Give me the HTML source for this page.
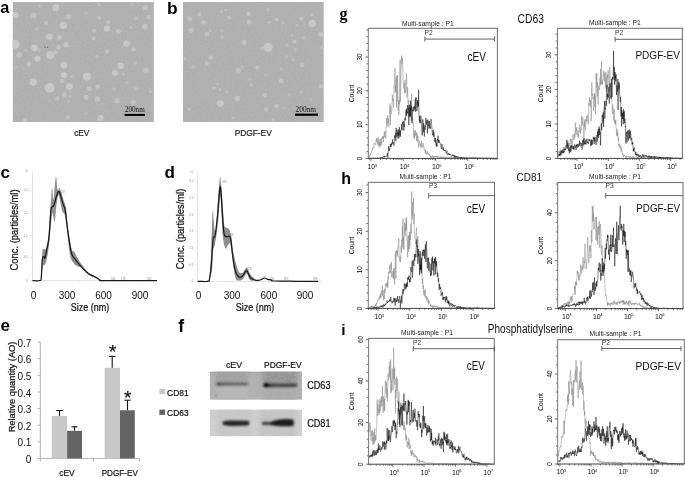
<!DOCTYPE html>
<html><head><meta charset="utf-8"><style>
html,body{margin:0;padding:0;background:#fff;}
svg{display:block;filter:grayscale(1);}

</style></head><body>
<svg width="685" height="477" viewBox="0 0 685 477" font-family="Liberation Sans, sans-serif">
<rect width="685" height="477" fill="#fff"/>
<text x="0.30" y="12.80" font-size="16.3" font-weight="bold" >a</text>
<text x="166.90" y="13.80" font-size="17.4" font-weight="bold" >b</text>
<text x="0.50" y="178.10" font-size="17" font-weight="bold" >c</text>
<text x="164.50" y="177.60" font-size="17" font-weight="bold" >d</text>
<text x="0.40" y="331.00" font-size="17" font-weight="bold" >e</text>
<text x="178.30" y="331.90" font-size="17.7" font-weight="bold" >f</text>
<text x="339.50" y="18.60" font-size="16" font-family="Liberation Serif" font-weight="bold" >g</text>
<text x="341.30" y="183.90" font-size="16" font-weight="bold" >h</text>
<text x="341.20" y="334.90" font-size="15.5" font-weight="bold" >i</text>
<defs><filter id="grain" x="0" y="0" width="100%" height="100%"><feTurbulence type="fractalNoise" baseFrequency="0.55" numOctaves="2" seed="3" result="n"/><feColorMatrix in="n" type="matrix" values="0 0 0 0 0.5  0 0 0 0 0.5  0 0 0 0 0.5  1.2 0 0 0 -0.45" /></filter><filter id="pblur" x="-5%" y="-5%" width="110%" height="110%"><feGaussianBlur stdDeviation="0.7"/></filter></defs>
<clipPath id="ca"><rect x="12.6" y="2.1" width="141.3" height="119.9"/></clipPath>
<g clip-path="url(#ca)">
<rect x="12.60" y="2.10" width="141.30" height="119.90" fill="#afafaf" />
<rect x="12.60" y="2.10" width="141.30" height="119.90" fill="#fff" filter="url(#grain)" opacity="1"/>
<g filter="url(#pblur)">
<circle cx="15.5" cy="15.2" r="3.1" fill="#c8c8c8"/>
<circle cx="33.8" cy="15.2" r="2.8" fill="#c3c3c3"/>
<circle cx="55.8" cy="7.7" r="3.4" fill="#c8c8c8"/>
<circle cx="68.4" cy="16.5" r="2.6" fill="#c3c3c3"/>
<circle cx="63.4" cy="25.3" r="3.6" fill="#c8c8c8"/>
<circle cx="46" cy="22.8" r="2.0" fill="#c3c3c3"/>
<circle cx="49.5" cy="36.6" r="3.2" fill="#c8c8c8"/>
<circle cx="59.6" cy="37.3" r="2.5" fill="#c3c3c3"/>
<circle cx="65.9" cy="44.8" r="2.7" fill="#c3c3c3"/>
<circle cx="14.9" cy="44.2" r="4.5" fill="#c8c8c8"/>
<circle cx="34.4" cy="48" r="3.2" fill="#c8c8c8"/>
<circle cx="19.3" cy="54.9" r="2.8" fill="#c3c3c3"/>
<circle cx="50.2" cy="54.9" r="4.0" fill="#c8c8c8"/>
<circle cx="37.6" cy="58.7" r="3.0" fill="#c8c8c8"/>
<circle cx="55.2" cy="52.4" r="2.2" fill="#c3c3c3"/>
<circle cx="58.3" cy="47.3" r="2.2" fill="#c3c3c3"/>
<circle cx="39.4" cy="49.9" r="1.8" fill="#bebebe"/>
<circle cx="39.4" cy="5.8" r="1.8" fill="#bebebe"/>
<circle cx="36.9" cy="29.1" r="1.5" fill="#bebebe"/>
<circle cx="26.2" cy="50.5" r="1.5" fill="#bebebe"/>
<circle cx="86.1" cy="12.7" r="1.8" fill="#bebebe"/>
<circle cx="99.4" cy="4.5" r="1.5" fill="#bebebe"/>
<circle cx="132.1" cy="4.5" r="1.8" fill="#bebebe"/>
<circle cx="145.3" cy="7.7" r="2.5" fill="#c3c3c3"/>
<circle cx="148.5" cy="17.1" r="2.2" fill="#c3c3c3"/>
<circle cx="99.4" cy="17.7" r="2.0" fill="#c3c3c3"/>
<circle cx="108.2" cy="22.2" r="2.0" fill="#c3c3c3"/>
<circle cx="106.9" cy="28.4" r="3.0" fill="#c8c8c8"/>
<circle cx="118.3" cy="31.6" r="2.5" fill="#c3c3c3"/>
<circle cx="144.7" cy="26.6" r="2.8" fill="#c3c3c3"/>
<circle cx="135.9" cy="18.4" r="1.8" fill="#bebebe"/>
<circle cx="94.3" cy="31" r="2.0" fill="#c3c3c3"/>
<circle cx="93.7" cy="38.5" r="2.0" fill="#c3c3c3"/>
<circle cx="126.5" cy="43.6" r="3.2" fill="#c8c8c8"/>
<circle cx="133.4" cy="49.2" r="2.0" fill="#c3c3c3"/>
<circle cx="106.9" cy="51.7" r="2.2" fill="#c3c3c3"/>
<circle cx="96.9" cy="56.2" r="1.5" fill="#bebebe"/>
<circle cx="130.9" cy="27.2" r="1.3" fill="#bebebe"/>
<circle cx="28.7" cy="63.9" r="2.5" fill="#c3c3c3"/>
<circle cx="64" cy="65.1" r="3.4" fill="#c8c8c8"/>
<circle cx="64" cy="75.2" r="3.0" fill="#c8c8c8"/>
<circle cx="33.2" cy="82.2" r="3.6" fill="#c8c8c8"/>
<circle cx="49.5" cy="87.8" r="4.8" fill="#c8c8c8"/>
<circle cx="62.1" cy="80.9" r="2.2" fill="#c3c3c3"/>
<circle cx="69.4" cy="86.6" r="3.4" fill="#c8c8c8"/>
<circle cx="71.6" cy="76.5" r="1.6" fill="#bebebe"/>
<circle cx="64.4" cy="95" r="2.4" fill="#c3c3c3"/>
<circle cx="70.3" cy="96.3" r="1.5" fill="#bebebe"/>
<circle cx="57.3" cy="98.5" r="2.2" fill="#c3c3c3"/>
<circle cx="68.4" cy="101.7" r="1.4" fill="#bebebe"/>
<circle cx="67.8" cy="117.4" r="2.2" fill="#c3c3c3"/>
<circle cx="25" cy="120.6" r="2.4" fill="#c3c3c3"/>
<circle cx="16.1" cy="67" r="1.3" fill="#bebebe"/>
<circle cx="86.8" cy="76.5" r="4.0" fill="#c8c8c8"/>
<circle cx="120.8" cy="65.8" r="3.2" fill="#c8c8c8"/>
<circle cx="115.1" cy="72.7" r="3.0" fill="#c8c8c8"/>
<circle cx="123.3" cy="74" r="1.5" fill="#bebebe"/>
<circle cx="146" cy="70.2" r="2.8" fill="#c3c3c3"/>
<circle cx="135.3" cy="63.3" r="1.8" fill="#bebebe"/>
<circle cx="89.3" cy="88.4" r="2.5" fill="#c3c3c3"/>
<circle cx="97.5" cy="86.6" r="2.2" fill="#c3c3c3"/>
<circle cx="113.9" cy="89.1" r="1.8" fill="#bebebe"/>
<circle cx="135.9" cy="88.4" r="1.8" fill="#bebebe"/>
<circle cx="150.4" cy="91.6" r="1.8" fill="#bebebe"/>
<circle cx="86.1" cy="97.3" r="2.6" fill="#c3c3c3"/>
<circle cx="97.5" cy="99.2" r="2.6" fill="#c3c3c3"/>
<circle cx="117" cy="100.4" r="2.6" fill="#c3c3c3"/>
<circle cx="133.4" cy="102.3" r="2.6" fill="#c3c3c3"/>
<circle cx="100.6" cy="118" r="3.0" fill="#c8c8c8"/>
<circle cx="127.1" cy="82.8" r="1.3" fill="#bebebe"/>
<circle cx="86.1" cy="113.6" r="1.3" fill="#bebebe"/>
</g></g>
<clipPath id="cb"><rect x="183" y="2" width="140.8" height="120.0"/></clipPath>
<g clip-path="url(#cb)">
<rect x="183.00" y="2.00" width="140.80" height="120.00" fill="#afafaf" />
<rect x="183.00" y="2.00" width="140.80" height="120.00" fill="#fff" filter="url(#grain)" opacity="1"/>
<g filter="url(#pblur)">
<circle cx="199.4" cy="14.6" r="2.0" fill="#c3c3c3"/>
<circle cx="189.9" cy="19" r="2.4" fill="#c3c3c3"/>
<circle cx="203.8" cy="22.2" r="2.3" fill="#c3c3c3"/>
<circle cx="191.2" cy="30.3" r="2.5" fill="#c3c3c3"/>
<circle cx="206.9" cy="34.1" r="2.3" fill="#c3c3c3"/>
<circle cx="210.1" cy="30.3" r="1.6" fill="#bebebe"/>
<circle cx="221.4" cy="11.4" r="1.6" fill="#bebebe"/>
<circle cx="225.8" cy="10.2" r="1.4" fill="#bebebe"/>
<circle cx="229" cy="17.7" r="2.1" fill="#c3c3c3"/>
<circle cx="248.5" cy="14" r="2.2" fill="#c3c3c3"/>
<circle cx="249.1" cy="22.2" r="2.4" fill="#c3c3c3"/>
<circle cx="222" cy="37.3" r="1.8" fill="#bebebe"/>
<circle cx="244.1" cy="42.3" r="2.5" fill="#c3c3c3"/>
<circle cx="210.7" cy="57.4" r="2.2" fill="#c3c3c3"/>
<circle cx="222" cy="31" r="1.4" fill="#bebebe"/>
<circle cx="184.3" cy="58.7" r="1.6" fill="#bebebe"/>
<circle cx="268.1" cy="9.8" r="1.8" fill="#bebebe"/>
<circle cx="276.3" cy="19.6" r="2.0" fill="#c3c3c3"/>
<circle cx="269.4" cy="22.2" r="1.8" fill="#bebebe"/>
<circle cx="283.2" cy="22.8" r="1.5" fill="#bebebe"/>
<circle cx="301.5" cy="18.4" r="2.0" fill="#c3c3c3"/>
<circle cx="312.2" cy="23.4" r="3.6" fill="#c8c8c8"/>
<circle cx="311.6" cy="14.6" r="1.6" fill="#bebebe"/>
<circle cx="321" cy="34.1" r="2.6" fill="#c3c3c3"/>
<circle cx="297.1" cy="25.3" r="1.5" fill="#bebebe"/>
<circle cx="292" cy="35.4" r="1.5" fill="#bebebe"/>
<circle cx="303.4" cy="37.9" r="1.8" fill="#bebebe"/>
<circle cx="294.6" cy="41.7" r="2.0" fill="#c3c3c3"/>
<circle cx="287" cy="44.8" r="1.6" fill="#bebebe"/>
<circle cx="268.1" cy="47.3" r="4.5" fill="#c8c8c8"/>
<circle cx="261.8" cy="48" r="1.6" fill="#bebebe"/>
<circle cx="295.2" cy="49.9" r="1.8" fill="#bebebe"/>
<circle cx="286.4" cy="56.8" r="1.8" fill="#bebebe"/>
<circle cx="293.3" cy="59.9" r="1.8" fill="#bebebe"/>
<circle cx="321.6" cy="47.3" r="1.5" fill="#bebebe"/>
<circle cx="206.9" cy="63.3" r="2.2" fill="#c3c3c3"/>
<circle cx="193.1" cy="67" r="1.8" fill="#bebebe"/>
<circle cx="238.4" cy="70.2" r="2.5" fill="#c3c3c3"/>
<circle cx="242.2" cy="67" r="1.5" fill="#bebebe"/>
<circle cx="249.8" cy="79" r="1.6" fill="#bebebe"/>
<circle cx="213.9" cy="87.8" r="1.8" fill="#bebebe"/>
<circle cx="220.2" cy="89.7" r="1.8" fill="#bebebe"/>
<circle cx="227.1" cy="92.2" r="1.6" fill="#bebebe"/>
<circle cx="237.2" cy="98.5" r="2.8" fill="#c3c3c3"/>
<circle cx="220.2" cy="103.6" r="3.3" fill="#c8c8c8"/>
<circle cx="217.6" cy="84" r="1.4" fill="#bebebe"/>
<circle cx="189.3" cy="109.2" r="1.8" fill="#bebebe"/>
<circle cx="233.4" cy="118" r="1.6" fill="#bebebe"/>
<circle cx="251" cy="84.7" r="1.6" fill="#bebebe"/>
<circle cx="257.4" cy="67.7" r="2.0" fill="#c3c3c3"/>
<circle cx="302.1" cy="65.1" r="2.4" fill="#c3c3c3"/>
<circle cx="281.3" cy="68.9" r="1.5" fill="#bebebe"/>
<circle cx="265.6" cy="75.2" r="1.3" fill="#bebebe"/>
<circle cx="281.3" cy="80.9" r="2.3" fill="#c3c3c3"/>
<circle cx="321" cy="86.6" r="2.0" fill="#c3c3c3"/>
<circle cx="265" cy="95" r="2.2" fill="#c3c3c3"/>
<circle cx="289.5" cy="95" r="1.8" fill="#bebebe"/>
<circle cx="301.5" cy="92.2" r="1.6" fill="#bebebe"/>
<circle cx="276.3" cy="106.1" r="2.4" fill="#c3c3c3"/>
<circle cx="266.2" cy="109.2" r="2.2" fill="#c3c3c3"/>
<circle cx="273.2" cy="119.9" r="1.8" fill="#bebebe"/>
<circle cx="311" cy="99.8" r="1.4" fill="#bebebe"/>
<circle cx="284.5" cy="108" r="1.3" fill="#bebebe"/>
</g></g>
<circle cx="45.1" cy="47.1" r="0.7" fill="#555"/><circle cx="47.6" cy="47.4" r="0.6" fill="#666"/>
<rect x="124.60" y="113.90" width="20.40" height="2.00" fill="#000" />
<text x="124.90" y="112.30" font-size="7.3" font-family="Liberation Serif" fill="#111" textLength="19.8" lengthAdjust="spacingAndGlyphs" >200nm</text>
<rect x="295.00" y="113.60" width="22.90" height="2.20" fill="#000" />
<text x="295.60" y="112.20" font-size="7.3" font-family="Liberation Serif" fill="#111" textLength="20.3" lengthAdjust="spacingAndGlyphs" >200nm</text>
<text x="74.20" y="136.20" font-size="9.6" fill="#222" textLength="15.2" lengthAdjust="spacingAndGlyphs" stroke="#222" stroke-width="0.22" >cEV</text>
<text x="234.70" y="136.20" font-size="9.6" fill="#222" textLength="37.0" lengthAdjust="spacingAndGlyphs" stroke="#222" stroke-width="0.22" >PDGF-EV</text>
<line x1="32.50" y1="172.50" x2="32.50" y2="280.60" stroke="#d9d9d9" stroke-width="0.8" />
<line x1="32.50" y1="280.60" x2="157.00" y2="280.60" stroke="#d9d9d9" stroke-width="0.8" />
<line x1="30.50" y1="190.30" x2="32.50" y2="190.30" stroke="#cfcfcf" stroke-width="0.6" />
<text x="28.00" y="191.30" font-size="2.8" fill="#8a8a8a" text-anchor="end" >2.0</text>
<line x1="30.50" y1="213.10" x2="32.50" y2="213.10" stroke="#cfcfcf" stroke-width="0.6" />
<text x="28.00" y="214.10" font-size="2.8" fill="#8a8a8a" text-anchor="end" >1.5</text>
<line x1="30.50" y1="235.50" x2="32.50" y2="235.50" stroke="#cfcfcf" stroke-width="0.6" />
<text x="28.00" y="236.50" font-size="2.8" fill="#8a8a8a" text-anchor="end" >1.0</text>
<line x1="30.50" y1="257.40" x2="32.50" y2="257.40" stroke="#cfcfcf" stroke-width="0.6" />
<text x="28.00" y="258.40" font-size="2.8" fill="#8a8a8a" text-anchor="end" >0.5</text>
<line x1="30.50" y1="280.60" x2="32.50" y2="280.60" stroke="#cfcfcf" stroke-width="0.6" />
<text x="28.00" y="281.60" font-size="2.8" fill="#8a8a8a" text-anchor="end" >0</text>
<line x1="44.30" y1="280.60" x2="44.30" y2="282.10" stroke="#dddddd" stroke-width="0.5" />
<line x1="56.10" y1="280.60" x2="56.10" y2="282.10" stroke="#dddddd" stroke-width="0.5" />
<line x1="67.90" y1="280.60" x2="67.90" y2="282.10" stroke="#dddddd" stroke-width="0.5" />
<line x1="79.70" y1="280.60" x2="79.70" y2="282.10" stroke="#dddddd" stroke-width="0.5" />
<line x1="91.50" y1="280.60" x2="91.50" y2="282.10" stroke="#dddddd" stroke-width="0.5" />
<line x1="103.30" y1="280.60" x2="103.30" y2="282.10" stroke="#dddddd" stroke-width="0.5" />
<line x1="115.10" y1="280.60" x2="115.10" y2="282.10" stroke="#dddddd" stroke-width="0.5" />
<line x1="126.90" y1="280.60" x2="126.90" y2="282.10" stroke="#dddddd" stroke-width="0.5" />
<line x1="138.70" y1="280.60" x2="138.70" y2="282.10" stroke="#dddddd" stroke-width="0.5" />
<line x1="150.50" y1="280.60" x2="150.50" y2="282.10" stroke="#dddddd" stroke-width="0.5" />
<text x="28.00" y="172.00" font-size="2.6" fill="#999" text-anchor="end" >10</text>
<polygon points="41.30,277.00 41.40,274.03 41.53,269.70 41.69,264.69 41.88,259.63 42.08,255.18 42.30,252.00 42.54,250.20 42.80,249.28 43.09,248.97 43.39,249.00 43.69,249.10 44.00,249.00 44.31,248.92 44.63,249.13 44.95,249.41 45.29,249.54 45.63,249.31 46.00,248.50 46.39,247.18 46.81,245.54 47.25,243.53 47.69,241.13 48.11,238.30 48.50,235.00 48.87,230.94 49.22,226.09 49.56,220.81 49.88,215.46 50.20,210.40 50.50,206.00 50.79,201.96 51.07,197.94 51.34,194.21 51.60,191.06 51.86,188.76 52.10,187.60 52.32,188.30 52.51,190.79 52.69,194.13 52.89,197.40 53.12,199.67 53.40,200.00 53.76,197.71 54.18,193.39 54.63,188.07 55.09,182.77 55.52,178.50 55.90,176.30 56.21,176.60 56.49,178.68 56.73,181.79 56.97,185.21 57.22,188.19 57.50,190.00 57.81,190.49 58.14,190.24 58.48,189.54 58.82,188.73 59.16,188.11 59.50,188.00 59.83,188.41 60.17,189.07 60.50,189.94 60.83,190.93 61.17,191.97 61.50,193.00 61.83,194.04 62.15,195.15 62.47,196.31 62.80,197.52 63.14,198.75 63.50,200.00 63.89,201.14 64.31,202.15 64.75,203.19 65.19,204.41 65.61,205.96 66.00,208.00 66.34,210.63 66.65,213.74 66.94,217.19 67.24,220.81 67.59,224.47 68.00,228.00 68.51,231.66 69.09,235.61 69.72,239.59 70.35,243.33 70.96,246.56 71.50,249.00 71.97,250.45 72.39,251.09 72.78,251.22 73.17,251.13 73.57,251.12 74.00,251.50 74.46,252.23 74.93,253.07 75.41,254.00 75.91,254.98 76.44,255.99 77.00,257.00 77.57,258.00 78.15,259.02 78.75,260.06 79.41,261.15 80.15,262.29 81.00,263.50 81.99,264.85 83.11,266.33 84.31,267.88 85.56,269.39 86.80,270.79 88.00,272.00 89.19,272.99 90.39,273.83 91.60,274.56 92.79,275.22 93.93,275.85 95.00,276.50 96.06,277.18 97.12,277.87 98.14,278.53 99.06,279.13 99.83,279.63 100.40,280.00 100.40,280.00 99.83,279.80 99.06,279.54 98.14,279.22 97.12,278.85 96.06,278.44 95.00,278.00 93.91,277.54 92.75,277.06 91.54,276.53 90.32,275.94 89.13,275.27 88.00,274.50 86.92,273.53 85.85,272.37 84.81,271.12 83.81,269.91 82.87,268.83 82.00,268.00 81.22,267.48 80.52,267.19 79.88,267.03 79.26,266.93 78.64,266.78 78.00,266.50 77.33,266.15 76.67,265.81 76.00,265.44 75.33,264.96 74.67,264.34 74.00,263.50 73.33,262.64 72.65,261.83 71.97,260.88 71.30,259.56 70.64,257.67 70.00,255.00 69.37,251.16 68.74,246.22 68.12,240.72 67.54,235.17 66.99,230.09 66.50,226.00 66.08,222.90 65.72,220.37 65.41,218.31 65.11,216.63 64.82,215.22 64.50,214.00 64.17,213.17 63.83,212.85 63.50,212.81 63.17,212.81 62.83,212.62 62.50,212.00 62.17,210.89 61.83,209.48 61.50,207.88 61.17,206.19 60.83,204.52 60.50,203.00 60.17,201.40 59.83,199.59 59.50,197.81 59.17,196.30 58.83,195.28 58.50,195.00 58.17,195.55 57.83,196.76 57.49,198.46 57.16,200.51 56.83,202.74 56.50,205.00 56.18,207.68 55.87,210.98 55.56,214.46 55.24,217.69 54.93,220.22 54.60,221.60 54.25,221.40 53.89,219.87 53.53,217.65 53.16,215.35 52.82,213.59 52.50,213.00 52.22,213.58 51.97,214.84 51.74,216.65 51.51,218.87 51.27,221.36 51.00,224.00 50.70,227.01 50.37,230.56 50.03,234.38 49.69,238.22 49.34,241.85 49.00,245.00 48.67,247.70 48.33,250.17 48.00,252.41 47.67,254.44 47.33,256.30 47.00,258.00 46.67,259.52 46.33,260.83 46.00,261.97 45.67,262.94 45.33,263.78 45.00,264.50 44.66,264.93 44.32,265.02 43.98,264.97 43.64,264.98 43.32,265.26 43.00,266.00 42.68,267.41 42.35,269.37 42.02,271.59 41.73,273.80 41.48,275.69 41.30,277.00" fill="#7a7a7a" opacity="0.85"/>
<polyline points="32.50,280.60 33.39,280.63 34.67,280.70 36.17,280.77 37.68,280.79 39.02,280.71 40.00,280.50 40.58,280.28 40.90,280.12 41.05,279.87 41.11,279.37 41.17,278.46 41.30,277.00 41.49,274.66 41.67,271.49 41.84,267.92 42.02,264.37 42.20,261.25 42.40,259.00 42.62,257.68 42.85,256.97 43.09,256.70 43.34,256.70 43.57,256.79 43.80,256.80 44.01,256.90 44.21,257.25 44.40,257.70 44.59,258.08 44.79,258.24 45.00,258.00 45.21,257.38 45.41,256.50 45.62,255.39 45.84,254.08 46.10,252.61 46.40,251.00 46.76,249.30 47.19,247.48 47.64,245.50 48.09,243.30 48.52,240.81 48.90,238.00 49.23,234.56 49.53,230.49 49.80,226.14 50.05,221.87 50.28,218.03 50.50,215.00 50.67,212.83 50.79,211.26 50.89,210.12 51.01,209.27 51.17,208.55 51.40,207.80 51.72,207.19 52.11,206.86 52.55,206.66 53.01,206.43 53.46,206.03 53.90,205.30 54.32,204.14 54.73,202.66 55.15,201.01 55.57,199.31 55.98,197.73 56.40,196.40 56.82,195.20 57.23,194.01 57.65,192.92 58.07,192.05 58.48,191.51 58.90,191.40 59.32,191.86 59.76,192.81 60.19,194.09 60.62,195.53 61.02,196.96 61.40,198.20 61.74,199.28 62.04,200.36 62.33,201.41 62.61,202.46 62.90,203.48 63.20,204.50 63.52,205.33 63.83,205.94 64.16,206.54 64.49,207.33 64.84,208.51 65.20,210.30 65.57,212.79 65.95,215.85 66.34,219.30 66.75,222.99 67.20,226.74 67.70,230.40 68.26,234.21 68.87,238.35 69.52,242.56 70.19,246.58 70.85,250.15 71.50,253.00 72.12,254.99 72.72,256.31 73.33,257.17 73.94,257.80 74.60,258.44 75.30,259.30 76.03,260.33 76.78,261.35 77.56,262.37 78.40,263.40 79.30,264.47 80.30,265.60 81.42,266.84 82.64,268.18 83.94,269.56 85.28,270.90 86.61,272.14 87.90,273.20 89.18,274.06 90.50,274.77 91.81,275.37 93.09,275.92 94.30,276.45 95.40,277.00 96.38,277.60 97.27,278.21 98.08,278.81 98.86,279.36 99.62,279.84 100.40,280.20 100.64,280.43 100.21,280.56 99.76,280.60 99.97,280.60 101.49,280.59 105.00,280.60 111.53,280.62 120.75,280.63 131.29,280.62 141.76,280.61 150.79,280.60 157.00,280.60" fill="none" stroke="#1a1a1a" stroke-width="1.25" stroke-linejoin="round"/>
<text x="61.00" y="193.00" font-size="2.6" fill="#888" >167</text>
<text x="111.00" y="280.00" font-size="2.6" fill="#888" >584</text>
<text x="121.00" y="279.60" font-size="2.6" fill="#888" >738</text>
<text x="147.00" y="279.60" font-size="2.6" fill="#888" >942</text>
<text x="33.60" y="298.70" font-size="10" fill="#111" text-anchor="middle" >0</text>
<text x="67.10" y="298.70" font-size="10" fill="#111" text-anchor="middle" >300</text>
<text x="103.60" y="298.70" font-size="10" fill="#111" text-anchor="middle" >600</text>
<text x="140.00" y="298.70" font-size="10" fill="#111" text-anchor="middle" >900</text>
<text x="70.80" y="310.80" font-size="10" fill="#111" textLength="38.5" lengthAdjust="spacingAndGlyphs" stroke="#111" stroke-width="0.22" >Size (nm)</text>
<line x1="197.70" y1="173.30" x2="197.70" y2="281.40" stroke="#d9d9d9" stroke-width="0.8" />
<line x1="197.70" y1="281.40" x2="322.00" y2="281.40" stroke="#d9d9d9" stroke-width="0.8" />
<line x1="195.70" y1="181.40" x2="197.70" y2="181.40" stroke="#cfcfcf" stroke-width="0.6" />
<text x="193.20" y="182.40" font-size="2.8" fill="#8a8a8a" text-anchor="end" >3.0</text>
<line x1="195.70" y1="198.00" x2="197.70" y2="198.00" stroke="#cfcfcf" stroke-width="0.6" />
<text x="193.20" y="199.00" font-size="2.8" fill="#8a8a8a" text-anchor="end" >2.5</text>
<line x1="195.70" y1="214.60" x2="197.70" y2="214.60" stroke="#cfcfcf" stroke-width="0.6" />
<text x="193.20" y="215.60" font-size="2.8" fill="#8a8a8a" text-anchor="end" >2.0</text>
<line x1="195.70" y1="231.30" x2="197.70" y2="231.30" stroke="#cfcfcf" stroke-width="0.6" />
<text x="193.20" y="232.30" font-size="2.8" fill="#8a8a8a" text-anchor="end" >1.5</text>
<line x1="195.70" y1="247.90" x2="197.70" y2="247.90" stroke="#cfcfcf" stroke-width="0.6" />
<text x="193.20" y="248.90" font-size="2.8" fill="#8a8a8a" text-anchor="end" >1.0</text>
<line x1="195.70" y1="264.60" x2="197.70" y2="264.60" stroke="#cfcfcf" stroke-width="0.6" />
<text x="193.20" y="265.60" font-size="2.8" fill="#8a8a8a" text-anchor="end" >0.5</text>
<line x1="195.70" y1="281.40" x2="197.70" y2="281.40" stroke="#cfcfcf" stroke-width="0.6" />
<text x="193.20" y="282.40" font-size="2.8" fill="#8a8a8a" text-anchor="end" >0</text>
<line x1="209.50" y1="281.40" x2="209.50" y2="282.90" stroke="#dddddd" stroke-width="0.5" />
<line x1="221.30" y1="281.40" x2="221.30" y2="282.90" stroke="#dddddd" stroke-width="0.5" />
<line x1="233.10" y1="281.40" x2="233.10" y2="282.90" stroke="#dddddd" stroke-width="0.5" />
<line x1="244.90" y1="281.40" x2="244.90" y2="282.90" stroke="#dddddd" stroke-width="0.5" />
<line x1="256.70" y1="281.40" x2="256.70" y2="282.90" stroke="#dddddd" stroke-width="0.5" />
<line x1="268.50" y1="281.40" x2="268.50" y2="282.90" stroke="#dddddd" stroke-width="0.5" />
<line x1="280.30" y1="281.40" x2="280.30" y2="282.90" stroke="#dddddd" stroke-width="0.5" />
<line x1="292.10" y1="281.40" x2="292.10" y2="282.90" stroke="#dddddd" stroke-width="0.5" />
<line x1="303.90" y1="281.40" x2="303.90" y2="282.90" stroke="#dddddd" stroke-width="0.5" />
<line x1="315.70" y1="281.40" x2="315.70" y2="282.90" stroke="#dddddd" stroke-width="0.5" />
<text x="193.20" y="172.80" font-size="2.6" fill="#999" text-anchor="end" >10</text>
<polygon points="209.50,279.00 209.67,276.56 209.90,273.33 210.17,269.44 210.46,265.00 210.74,260.15 211.00,255.00 211.23,248.97 211.47,241.83 211.69,234.28 211.91,227.00 212.11,220.68 212.30,216.00 212.46,213.03 212.59,211.24 212.71,210.41 212.83,210.31 212.96,210.75 213.10,211.50 213.26,212.93 213.43,215.28 213.61,218.16 213.79,221.17 213.99,223.91 214.20,226.00 214.42,227.74 214.66,229.52 214.91,231.03 215.16,231.98 215.43,232.07 215.70,231.00 215.98,228.44 216.27,224.56 216.57,219.81 216.87,214.67 217.18,209.58 217.50,205.00 217.84,200.65 218.20,196.11 218.57,191.62 218.92,187.44 219.24,183.82 219.50,181.00 219.69,179.05 219.83,177.78 219.93,177.06 220.01,176.78 220.09,176.80 220.20,177.00 220.32,177.40 220.43,178.11 220.55,179.12 220.68,180.44 220.82,182.07 221.00,184.00 221.21,186.32 221.45,189.04 221.71,192.06 221.97,195.30 222.24,198.64 222.50,202.00 222.74,205.65 222.98,209.72 223.22,213.91 223.46,217.89 223.72,221.36 224.00,224.00 224.29,225.68 224.59,226.61 224.91,227.03 225.24,227.17 225.60,227.25 226.00,227.50 226.45,227.81 226.96,227.98 227.50,228.09 228.04,228.24 228.55,228.51 229.00,229.00 229.39,229.64 229.74,230.33 230.06,231.16 230.37,232.17 230.68,233.43 231.00,235.00 231.33,237.01 231.65,239.44 231.97,242.12 232.30,244.89 232.64,247.57 233.00,250.00 233.38,252.20 233.76,254.30 234.16,256.31 234.57,258.26 235.02,260.15 235.50,262.00 236.02,263.89 236.57,265.83 237.16,267.72 237.76,269.44 238.38,270.91 239.00,272.00 239.64,272.70 240.31,273.07 240.99,273.19 241.68,273.09 242.35,272.84 243.00,272.50 243.63,271.85 244.24,270.81 244.84,269.62 245.43,268.52 246.02,267.73 246.60,267.50 247.16,267.94 247.69,268.87 248.21,270.12 248.76,271.52 249.34,272.87 250.00,274.00 250.80,274.98 251.73,275.96 252.71,276.91 253.64,277.76 254.44,278.47 255.00,279.00 255.00,280.50 254.44,280.52 253.64,280.59 252.71,280.66 251.73,280.63 250.80,280.44 250.00,280.00 249.34,279.13 248.76,277.83 248.21,276.38 247.69,275.00 247.16,273.96 246.60,273.50 246.02,273.77 245.43,274.59 244.84,275.75 244.24,277.02 243.63,278.18 243.00,279.00 242.35,279.53 241.68,279.94 240.99,280.25 240.31,280.44 239.64,280.53 239.00,280.50 238.38,280.49 237.78,280.54 237.19,280.47 236.61,280.13 236.05,279.36 235.50,278.00 234.96,275.87 234.43,273.07 233.91,269.84 233.41,266.43 232.94,263.06 232.50,260.00 232.11,257.02 231.78,253.89 231.47,250.81 231.17,248.00 230.85,245.66 230.50,244.00 230.11,243.15 229.70,242.98 229.28,243.28 228.85,243.85 228.42,244.49 228.00,245.00 227.58,245.60 227.17,246.50 226.75,247.47 226.33,248.28 225.92,248.70 225.50,248.50 225.07,247.72 224.63,246.54 224.19,244.97 223.76,243.02 223.36,240.69 223.00,238.00 222.69,234.71 222.42,230.78 222.18,226.47 221.95,222.06 221.73,217.81 221.50,214.00 221.28,210.14 221.09,205.93 220.89,201.88 220.69,198.52 220.47,196.38 220.20,196.00 219.88,197.90 219.53,201.78 219.14,206.88 218.75,212.44 218.37,217.74 218.00,222.00 217.65,225.34 217.30,228.37 216.96,231.12 216.62,233.63 216.30,235.91 216.00,238.00 215.72,239.83 215.46,241.37 215.22,242.69 214.98,243.85 214.74,244.93 214.50,246.00 214.24,246.84 213.98,247.37 213.72,247.81 213.46,248.41 213.22,249.39 213.00,251.00 212.82,253.47 212.69,256.67 212.56,260.25 212.43,263.89 212.25,267.25 212.00,270.00 211.64,272.18 211.19,274.07 210.69,275.69 210.20,277.04 209.79,278.14 209.50,279.00" fill="#7a7a7a" opacity="0.85"/>
<polyline points="197.70,281.40 198.87,281.41 200.56,281.46 202.53,281.49 204.53,281.50 206.30,281.45 207.60,281.30 208.38,281.20 208.83,281.20 209.05,281.14 209.16,280.86 209.28,280.20 209.50,279.00 209.82,277.22 210.14,274.97 210.46,272.34 210.78,269.42 211.09,266.28 211.40,263.00 211.69,259.25 211.97,254.90 212.24,250.34 212.52,245.94 212.80,242.10 213.10,239.20 213.41,237.60 213.73,237.06 214.05,237.07 214.39,237.13 214.73,236.75 215.10,235.40 215.49,233.10 215.89,230.23 216.31,226.92 216.74,223.26 217.17,219.35 217.60,215.30 218.03,210.38 218.48,204.36 218.93,198.10 219.37,192.45 219.80,188.26 220.20,186.40 220.57,187.34 220.92,190.50 221.26,195.13 221.58,200.47 221.89,205.78 222.20,210.30 222.49,214.36 222.76,218.63 223.02,222.86 223.29,226.81 223.57,230.24 223.90,232.90 224.27,234.67 224.67,235.72 225.09,236.24 225.53,236.45 225.97,236.53 226.40,236.70 226.84,236.82 227.29,236.72 227.75,236.50 228.20,236.27 228.62,236.13 229.00,236.20 229.33,236.34 229.62,236.44 229.89,236.64 230.14,237.08 230.41,237.88 230.70,239.20 231.01,241.17 231.32,243.72 231.64,246.64 231.98,249.73 232.33,252.79 232.70,255.60 233.09,258.29 233.48,261.06 233.89,263.78 234.33,266.37 234.80,268.71 235.30,270.70 235.85,272.35 236.45,273.73 237.07,274.88 237.72,275.79 238.36,276.49 239.00,277.00 239.63,277.27 240.26,277.27 240.89,277.06 241.53,276.69 242.17,276.22 242.80,275.70 243.43,274.94 244.07,273.87 244.71,272.69 245.34,271.63 245.97,270.89 246.60,270.70 247.21,271.20 247.79,272.24 248.37,273.62 248.97,275.10 249.60,276.47 250.30,277.50 251.07,278.22 251.91,278.81 252.79,279.29 253.69,279.67 254.56,279.97 255.40,280.20 256.20,280.35 256.99,280.41 257.76,280.38 258.51,280.29 259.26,280.16 260.00,280.00 260.73,279.76 261.44,279.40 262.15,279.01 262.84,278.63 263.53,278.34 264.20,278.20 264.87,278.25 265.53,278.44 266.17,278.73 266.81,279.03 267.42,279.31 268.00,279.50 268.52,279.58 268.99,279.61 269.43,279.60 269.88,279.59 270.39,279.62 271.00,279.70 271.29,279.86 271.15,280.09 271.06,280.34 271.52,280.59 273.00,280.82 276.00,281.00 281.34,281.12 288.81,281.21 297.31,281.28 305.74,281.33 313.00,281.37 318.00,281.40" fill="none" stroke="#1a1a1a" stroke-width="1.25" stroke-linejoin="round"/>
<text x="222.00" y="183.00" font-size="2.6" fill="#888" >189</text>
<text x="229.00" y="236.00" font-size="2.6" fill="#888" >288</text>
<text x="247.00" y="270.00" font-size="2.6" fill="#888" >429</text>
<text x="262.00" y="279.00" font-size="2.6" fill="#888" >572</text>
<text x="270.00" y="279.50" font-size="2.6" fill="#888" >634</text>
<text x="284.00" y="280.00" font-size="2.6" fill="#888" >867</text>
<text x="313.00" y="280.00" font-size="2.6" fill="#888" >998</text>
<text x="198.60" y="298.94" font-size="10" fill="#111" text-anchor="middle" >0</text>
<text x="232.10" y="298.94" font-size="10" fill="#111" text-anchor="middle" >300</text>
<text x="268.90" y="298.94" font-size="10" fill="#111" text-anchor="middle" >600</text>
<text x="305.00" y="298.94" font-size="10" fill="#111" text-anchor="middle" >900</text>
<text x="235.80" y="311.04" font-size="10" fill="#111" textLength="38.5" lengthAdjust="spacingAndGlyphs" stroke="#111" stroke-width="0.22" >Size (nm)</text>
<text transform="translate(18.20,270.60) rotate(-90)" font-size="10" fill="#111" textLength="81.2" lengthAdjust="spacingAndGlyphs" stroke="#111" stroke-width="0.22" >Conc. (particles/ml)</text>
<text transform="translate(184.10,269.20) rotate(-90)" font-size="10" fill="#111" textLength="80.5" lengthAdjust="spacingAndGlyphs" stroke="#111" stroke-width="0.22" >Conc. (particles/ml)</text>
<line x1="40.30" y1="342.20" x2="40.30" y2="458.40" stroke="#a8a8a8" stroke-width="0.9" />
<line x1="39.80" y1="458.40" x2="139.60" y2="458.40" stroke="#a8a8a8" stroke-width="0.9" />
<line x1="37.60" y1="458.40" x2="40.30" y2="458.40" stroke="#a8a8a8" stroke-width="0.9" />
<text x="31.30" y="462.90" font-size="10" fill="#111" text-anchor="end" >0</text>
<line x1="37.60" y1="441.80" x2="40.30" y2="441.80" stroke="#a8a8a8" stroke-width="0.9" />
<text x="31.30" y="446.30" font-size="10" fill="#111" text-anchor="end" >0.1</text>
<line x1="37.60" y1="425.20" x2="40.30" y2="425.20" stroke="#a8a8a8" stroke-width="0.9" />
<text x="31.30" y="429.70" font-size="10" fill="#111" text-anchor="end" >0.2</text>
<line x1="37.60" y1="408.60" x2="40.30" y2="408.60" stroke="#a8a8a8" stroke-width="0.9" />
<text x="31.30" y="413.10" font-size="10" fill="#111" text-anchor="end" >0.3</text>
<line x1="37.60" y1="392.00" x2="40.30" y2="392.00" stroke="#a8a8a8" stroke-width="0.9" />
<text x="31.30" y="396.50" font-size="10" fill="#111" text-anchor="end" >0.4</text>
<line x1="37.60" y1="375.40" x2="40.30" y2="375.40" stroke="#a8a8a8" stroke-width="0.9" />
<text x="31.30" y="379.90" font-size="10" fill="#111" text-anchor="end" >0.5</text>
<line x1="37.60" y1="358.80" x2="40.30" y2="358.80" stroke="#a8a8a8" stroke-width="0.9" />
<text x="31.30" y="363.30" font-size="10" fill="#111" text-anchor="end" >0.6</text>
<line x1="37.60" y1="342.20" x2="40.30" y2="342.20" stroke="#a8a8a8" stroke-width="0.9" />
<text x="31.30" y="346.70" font-size="10" fill="#111" text-anchor="end" >0.7</text>
<line x1="40.30" y1="458.40" x2="40.30" y2="461.50" stroke="#a8a8a8" stroke-width="0.9" />
<line x1="93.30" y1="458.40" x2="93.30" y2="461.50" stroke="#a8a8a8" stroke-width="0.9" />
<line x1="139.60" y1="458.40" x2="139.60" y2="461.50" stroke="#a8a8a8" stroke-width="0.9" />
<rect x="51.80" y="415.90" width="15.30" height="42.50" fill="#c8c8c8" />
<rect x="67.10" y="430.84" width="14.90" height="27.56" fill="#646464" />
<rect x="104.60" y="367.76" width="15.40" height="90.64" fill="#c8c8c8" />
<rect x="120.00" y="410.26" width="14.80" height="48.14" fill="#646464" />
<line x1="59.50" y1="415.80" x2="59.50" y2="410.50" stroke="#111" stroke-width="1.1" />
<line x1="56.20" y1="410.50" x2="62.80" y2="410.50" stroke="#111" stroke-width="1.1" />
<line x1="74.50" y1="430.70" x2="74.50" y2="426.80" stroke="#111" stroke-width="1.1" />
<line x1="71.50" y1="426.80" x2="77.50" y2="426.80" stroke="#111" stroke-width="1.1" />
<line x1="112.20" y1="367.70" x2="112.20" y2="356.40" stroke="#111" stroke-width="1.1" />
<line x1="108.90" y1="356.40" x2="115.50" y2="356.40" stroke="#111" stroke-width="1.1" />
<line x1="127.50" y1="410.20" x2="127.50" y2="400.20" stroke="#111" stroke-width="1.1" />
<line x1="124.40" y1="400.20" x2="130.60" y2="400.20" stroke="#111" stroke-width="1.1" />
<text x="109.00" y="358.10" font-size="19" fill="#111" stroke="#111" stroke-width="0.22" >*</text>
<text x="124.10" y="403.90" font-size="19" fill="#111" stroke="#111" stroke-width="0.22" >*</text>
<text transform="translate(15.30,432.30) rotate(-90)" font-size="8.8" fill="#111" textLength="90.7" lengthAdjust="spacingAndGlyphs" stroke="#111" stroke-width="0.22" >Relative quantity (AO)</text>
<rect x="159.40" y="388.90" width="5.70" height="5.30" fill="#c8c8c8" />
<rect x="159.40" y="409.60" width="5.70" height="5.30" fill="#646464" />
<text x="167.10" y="396.00" font-size="9.6" fill="#111" textLength="21.6" lengthAdjust="spacingAndGlyphs" stroke="#111" stroke-width="0.22" >CD81</text>
<text x="167.10" y="415.80" font-size="9.6" fill="#111" textLength="21.6" lengthAdjust="spacingAndGlyphs" stroke="#111" stroke-width="0.22" >CD63</text>
<text x="59.20" y="476.00" font-size="9.6" fill="#111" textLength="15.4" lengthAdjust="spacingAndGlyphs" stroke="#111" stroke-width="0.22" >cEV</text>
<text x="101.70" y="476.00" font-size="9.6" fill="#111" textLength="36.2" lengthAdjust="spacingAndGlyphs" stroke="#111" stroke-width="0.22" >PDGF-EV</text>
<defs><filter id="bb" x="-30%" y="-100%" width="160%" height="300%"><feGaussianBlur stdDeviation="1.0"/></filter><filter id="bb2" x="-30%" y="-100%" width="160%" height="300%"><feGaussianBlur stdDeviation="2.0"/></filter><clipPath id="cf1"><rect x="209.7" y="371.6" width="92.3" height="28.1"/></clipPath><clipPath id="cf2"><rect x="209.7" y="409.6" width="92.3" height="26.7"/></clipPath></defs>
<g clip-path="url(#cf1)">
<rect x="209.70" y="371.60" width="92.30" height="28.10" fill="#b1b1b1" />
<g filter="url(#bb2)">
<rect x="215.50" y="370.00" width="32.50" height="14.00" fill="#9f9f9f" />
<rect x="262.80" y="370.00" width="34.50" height="15.00" fill="#939393" />
<rect x="215.50" y="386.00" width="32.50" height="16.00" fill="#b6b6b6" />
<rect x="262.80" y="387.00" width="34.50" height="15.00" fill="#aaaaaa" />
</g>
<rect x="209.70" y="371.60" width="92.30" height="1.20" fill="#9a9a9a" opacity="0.6"/>
<rect x="209.70" y="371.60" width="92.30" height="28.10" fill="#fff" filter="url(#grain)" opacity="0.8"/>
<g filter="url(#bb)">
<path d="M216,384 C216,382.4 220,382.3 232,382.6 L247.5,382.8 C248.5,383.5 248.5,384.6 247.5,385.3 L232,385.4 C220,385.7 216,385.6 216,384 Z" fill="#606060"/>
<ellipse cx="219" cy="384" rx="3" ry="1.6" fill="#4a4a4a"/>
<path d="M263.5,385.2 C264,383 268,383.2 275,383.6 L296.5,383.6 C297.5,384.5 297.5,386.4 296.5,387 L275,387.3 C268,387.6 264,387.5 263.5,385.2 Z" fill="#454545"/>
<ellipse cx="266.3" cy="385.2" rx="3" ry="2.1" fill="#080808"/>
</g>
<circle cx="216.2" cy="395.5" r="0.8" fill="#555" filter="url(#bb)"/>
</g>
<g clip-path="url(#cf2)">
<rect x="209.70" y="409.60" width="92.30" height="26.70" fill="#d2d2d2" />
<g filter="url(#bb2)">
<rect x="217.00" y="408.00" width="34.00" height="30.00" fill="#c9c9c9" />
<rect x="259.00" y="408.00" width="37.00" height="30.00" fill="#c6c6c6" />
</g>
<rect x="209.70" y="409.60" width="92.30" height="26.70" fill="#fff" filter="url(#grain)" opacity="0.6"/>
<g filter="url(#bb)">
<path d="M222.3,423 C222.5,420.6 226,420.4 235,420.4 L248.3,420.8 C249.5,421.8 249.5,424.6 248.3,425.6 L235,425.9 C226,426 222.5,425.6 222.3,423 Z" fill="#262626"/>
<path d="M261.8,423.4 C262,421.6 266,421.6 270,422.2 C277,419 286,418.6 293,419.6 C294.2,421.5 294.2,424.6 293,425.9 C286,426.6 277,426.4 270,424.8 C266,425.4 262,425.2 261.8,423.4 Z" fill="#1c1c1c"/>
<path d="M261.8,423.4 C262,421.8 265,421.8 270,422.4 L270,424.6 C265,425.1 262,425 261.8,423.4 Z" fill="#444"/>
</g>
</g>
<text x="226.00" y="367.80" font-size="9.6" fill="#111" textLength="16.0" lengthAdjust="spacingAndGlyphs" stroke="#111" stroke-width="0.22" >cEV</text>
<text x="264.10" y="367.80" font-size="9.6" fill="#111" textLength="37.5" lengthAdjust="spacingAndGlyphs" stroke="#111" stroke-width="0.22" >PDGF-EV</text>
<text x="307.20" y="388.70" font-size="10.5" fill="#111" textLength="23.3" lengthAdjust="spacingAndGlyphs" stroke="#111" stroke-width="0.22" >CD63</text>
<text x="307.20" y="426.60" font-size="10.5" fill="#111" textLength="23.3" lengthAdjust="spacingAndGlyphs" stroke="#111" stroke-width="0.22" >CD81</text>
<line x1="365.50" y1="158.40" x2="368.30" y2="158.40" stroke="#222" stroke-width="0.7" />
<text transform="translate(362.20,160.15) rotate(-90)" font-size="6.3" >0</text>
<line x1="366.50" y1="151.64" x2="368.30" y2="151.64" stroke="#222" stroke-width="0.7" />
<line x1="366.50" y1="144.88" x2="368.30" y2="144.88" stroke="#222" stroke-width="0.7" />
<line x1="366.50" y1="138.12" x2="368.30" y2="138.12" stroke="#222" stroke-width="0.7" />
<line x1="366.50" y1="131.36" x2="368.30" y2="131.36" stroke="#222" stroke-width="0.7" />
<line x1="365.50" y1="124.60" x2="368.30" y2="124.60" stroke="#222" stroke-width="0.7" />
<text transform="translate(362.20,128.10) rotate(-90)" font-size="6.3" >10</text>
<line x1="366.50" y1="117.84" x2="368.30" y2="117.84" stroke="#222" stroke-width="0.7" />
<line x1="366.50" y1="111.08" x2="368.30" y2="111.08" stroke="#222" stroke-width="0.7" />
<line x1="366.50" y1="104.32" x2="368.30" y2="104.32" stroke="#222" stroke-width="0.7" />
<line x1="366.50" y1="97.56" x2="368.30" y2="97.56" stroke="#222" stroke-width="0.7" />
<line x1="365.50" y1="90.80" x2="368.30" y2="90.80" stroke="#222" stroke-width="0.7" />
<text transform="translate(362.20,94.30) rotate(-90)" font-size="6.3" >20</text>
<line x1="366.50" y1="84.04" x2="368.30" y2="84.04" stroke="#222" stroke-width="0.7" />
<line x1="366.50" y1="77.28" x2="368.30" y2="77.28" stroke="#222" stroke-width="0.7" />
<line x1="366.50" y1="70.52" x2="368.30" y2="70.52" stroke="#222" stroke-width="0.7" />
<line x1="366.50" y1="63.76" x2="368.30" y2="63.76" stroke="#222" stroke-width="0.7" />
<line x1="365.50" y1="57.00" x2="368.30" y2="57.00" stroke="#222" stroke-width="0.7" />
<text transform="translate(362.20,60.50) rotate(-90)" font-size="6.3" >30</text>
<line x1="366.50" y1="50.24" x2="368.30" y2="50.24" stroke="#222" stroke-width="0.7" />
<line x1="366.50" y1="43.48" x2="368.30" y2="43.48" stroke="#222" stroke-width="0.7" />
<line x1="366.50" y1="36.72" x2="368.30" y2="36.72" stroke="#222" stroke-width="0.7" />
<line x1="366.50" y1="29.96" x2="368.30" y2="29.96" stroke="#222" stroke-width="0.7" />
<text transform="translate(353.80,102.15) rotate(-90)" font-size="7.4" textLength="17.6" lengthAdjust="spacingAndGlyphs" >Count</text>
<line x1="369.42" y1="158.40" x2="369.42" y2="160.00" stroke="#222" stroke-width="0.6" />
<line x1="370.90" y1="158.40" x2="370.90" y2="161.00" stroke="#222" stroke-width="0.6" />
<line x1="380.62" y1="158.40" x2="380.62" y2="160.00" stroke="#222" stroke-width="0.6" />
<line x1="386.31" y1="158.40" x2="386.31" y2="160.00" stroke="#222" stroke-width="0.6" />
<line x1="390.35" y1="158.40" x2="390.35" y2="160.00" stroke="#222" stroke-width="0.6" />
<line x1="393.48" y1="158.40" x2="393.48" y2="160.00" stroke="#222" stroke-width="0.6" />
<line x1="396.03" y1="158.40" x2="396.03" y2="160.00" stroke="#222" stroke-width="0.6" />
<line x1="398.20" y1="158.40" x2="398.20" y2="160.00" stroke="#222" stroke-width="0.6" />
<line x1="400.07" y1="158.40" x2="400.07" y2="160.00" stroke="#222" stroke-width="0.6" />
<line x1="401.72" y1="158.40" x2="401.72" y2="160.00" stroke="#222" stroke-width="0.6" />
<line x1="403.20" y1="158.40" x2="403.20" y2="161.00" stroke="#222" stroke-width="0.6" />
<line x1="412.92" y1="158.40" x2="412.92" y2="160.00" stroke="#222" stroke-width="0.6" />
<line x1="418.61" y1="158.40" x2="418.61" y2="160.00" stroke="#222" stroke-width="0.6" />
<line x1="422.65" y1="158.40" x2="422.65" y2="160.00" stroke="#222" stroke-width="0.6" />
<line x1="425.78" y1="158.40" x2="425.78" y2="160.00" stroke="#222" stroke-width="0.6" />
<line x1="428.33" y1="158.40" x2="428.33" y2="160.00" stroke="#222" stroke-width="0.6" />
<line x1="430.50" y1="158.40" x2="430.50" y2="160.00" stroke="#222" stroke-width="0.6" />
<line x1="432.37" y1="158.40" x2="432.37" y2="160.00" stroke="#222" stroke-width="0.6" />
<line x1="434.02" y1="158.40" x2="434.02" y2="160.00" stroke="#222" stroke-width="0.6" />
<line x1="435.50" y1="158.40" x2="435.50" y2="161.00" stroke="#222" stroke-width="0.6" />
<line x1="445.22" y1="158.40" x2="445.22" y2="160.00" stroke="#222" stroke-width="0.6" />
<line x1="450.91" y1="158.40" x2="450.91" y2="160.00" stroke="#222" stroke-width="0.6" />
<line x1="454.95" y1="158.40" x2="454.95" y2="160.00" stroke="#222" stroke-width="0.6" />
<line x1="458.08" y1="158.40" x2="458.08" y2="160.00" stroke="#222" stroke-width="0.6" />
<line x1="460.63" y1="158.40" x2="460.63" y2="160.00" stroke="#222" stroke-width="0.6" />
<line x1="462.80" y1="158.40" x2="462.80" y2="160.00" stroke="#222" stroke-width="0.6" />
<line x1="464.67" y1="158.40" x2="464.67" y2="160.00" stroke="#222" stroke-width="0.6" />
<line x1="466.32" y1="158.40" x2="466.32" y2="160.00" stroke="#222" stroke-width="0.6" />
<line x1="467.80" y1="158.40" x2="467.80" y2="161.00" stroke="#222" stroke-width="0.6" />
<line x1="477.52" y1="158.40" x2="477.52" y2="160.00" stroke="#222" stroke-width="0.6" />
<line x1="483.21" y1="158.40" x2="483.21" y2="160.00" stroke="#222" stroke-width="0.6" />
<line x1="487.25" y1="158.40" x2="487.25" y2="160.00" stroke="#222" stroke-width="0.6" />
<line x1="490.38" y1="158.40" x2="490.38" y2="160.00" stroke="#222" stroke-width="0.6" />
<line x1="492.93" y1="158.40" x2="492.93" y2="160.00" stroke="#222" stroke-width="0.6" />
<line x1="495.10" y1="158.40" x2="495.10" y2="160.00" stroke="#222" stroke-width="0.6" />
<line x1="496.97" y1="158.40" x2="496.97" y2="160.00" stroke="#222" stroke-width="0.6" />
<text x="367.40" y="169.00" font-size="6.9" fill="#111" >10</text>
<text x="374.70" y="166.70" font-size="4.1" fill="#111" >3</text>
<text x="399.70" y="169.00" font-size="6.9" fill="#111" >10</text>
<text x="407.00" y="166.70" font-size="4.1" fill="#111" >4</text>
<text x="432.00" y="169.00" font-size="6.9" fill="#111" >10</text>
<text x="439.30" y="166.70" font-size="4.1" fill="#111" >5</text>
<text x="464.30" y="169.00" font-size="6.9" fill="#111" >10</text>
<text x="471.60" y="166.70" font-size="4.1" fill="#111" >6</text>
<clipPath id="fc11"><rect x="368.30" y="28.30" width="129.10" height="130.10"/></clipPath>
<g clip-path="url(#fc11)">
<polyline points="368.60,156.25 368.85,157.16 369.10,156.59 369.35,157.33 369.60,156.05 369.85,155.01 370.10,153.72 370.35,155.10 370.60,155.16 370.85,153.46 371.10,153.46 371.35,152.11 371.60,150.92 371.85,151.50 372.10,149.84 372.35,148.24 372.60,149.44 372.85,147.97 373.10,147.20 373.35,148.05 373.60,148.01 373.85,144.61 374.10,142.90 374.35,142.98 374.60,142.92 374.85,142.86 375.10,144.86 375.35,145.30 375.60,144.80 375.85,144.08 376.10,140.08 376.35,141.43 376.60,138.07 376.85,141.78 377.10,139.50 377.35,140.36 377.60,144.56 377.85,143.43 378.10,137.20 378.35,141.12 378.60,145.99 378.85,141.26 379.10,140.16 379.35,147.13 379.60,142.60 379.85,144.69 380.10,139.04 380.35,141.85 380.60,146.22 380.85,142.85 381.10,138.05 381.35,144.61 381.60,144.98 381.85,139.93 382.10,137.35 382.35,136.76 382.60,138.34 382.85,136.59 383.10,138.44 383.35,141.88 383.60,136.11 383.85,137.85 384.10,134.31 384.35,131.57 384.60,137.13 384.85,133.92 385.10,132.12 385.35,131.06 385.60,137.78 385.85,138.67 386.10,127.93 386.35,125.84 386.60,121.04 386.85,117.89 387.10,125.80 387.35,116.36 387.60,115.46 387.85,122.98 388.10,121.32 388.35,118.50 388.60,122.91 388.85,127.05 389.10,115.76 389.35,115.77 389.60,111.83 389.85,105.16 390.10,103.63 390.35,124.81 390.60,106.45 390.85,113.25 391.10,113.59 391.35,113.54 391.60,114.11 391.85,106.89 392.10,102.41 392.35,94.77 392.60,100.81 392.85,100.82 393.10,98.80 393.35,103.78 393.60,107.85 393.85,94.71 394.10,85.18 394.35,85.69 394.60,86.18 394.85,68.07 395.10,91.64 395.35,92.30 395.60,85.75 395.85,91.85 396.10,77.81 396.35,98.53 396.60,107.73 396.85,75.61 397.10,102.11 397.35,87.42 397.60,75.03 397.85,92.66 398.10,102.25 398.35,110.61 398.60,101.38 398.85,114.95 399.10,100.00 399.35,104.60 399.60,90.10 399.85,80.49 400.10,59.71 400.35,101.87 400.60,90.84 400.85,84.02 401.10,69.98 401.35,67.01 401.60,55.49 401.85,63.62 402.10,63.11 402.35,58.00 402.60,62.56 402.85,67.54 403.10,77.99 403.35,84.75 403.60,87.18 403.85,88.71 404.10,82.69 404.35,85.27 404.60,93.47 404.85,80.49 405.10,79.94 405.35,84.73 405.60,92.92 405.85,90.56 406.10,88.38 406.35,73.23 406.60,76.14 406.85,81.70 407.10,97.59 407.35,88.09 407.60,87.25 407.85,93.85 408.10,105.99 408.35,116.46 408.60,105.61 408.85,100.15 409.10,109.10 409.35,110.69 409.60,114.36 409.85,110.95 410.10,105.79 410.35,116.63 410.60,107.25 410.85,117.99 411.10,118.23 411.35,121.34 411.60,93.85 411.85,119.98 412.10,120.13 412.35,117.44 412.60,119.90 412.85,123.22 413.10,123.00 413.35,122.88 413.60,131.95 413.85,137.68 414.10,129.99 414.35,139.11 414.60,133.83 414.85,132.47 415.10,133.13 415.35,130.30 415.60,136.30 415.85,131.96 416.10,132.53 416.35,133.87 416.60,141.09 416.85,132.51 417.10,134.68 417.35,134.55 417.60,141.32 417.85,135.76 418.10,141.69 418.35,142.19 418.60,147.40 418.85,146.70 419.10,140.35 419.35,141.71 419.60,143.19 419.85,143.07 420.10,144.38 420.35,146.05 420.60,143.60 420.85,146.79 421.10,148.14 421.35,144.01 421.60,140.42 421.85,146.29 422.10,146.69 422.35,145.68 422.60,147.19 422.85,146.19 423.10,142.99 423.35,143.54 423.60,146.36 423.85,146.46 424.10,149.41 424.35,149.21 424.60,150.42 424.85,151.29 425.10,150.61 425.35,153.87 425.60,149.54 425.85,152.28 426.10,152.24 426.35,153.21 426.60,154.39 426.85,153.83 427.10,151.12 427.35,153.46 427.60,151.94 427.85,153.72 428.10,152.88 428.35,153.82 428.60,153.98 428.85,155.02 429.10,154.18 429.35,153.92 429.60,155.67 429.85,154.86 430.10,156.10 430.35,156.75 430.60,155.65 430.85,156.58 431.10,158.30 431.35,156.26 431.60,156.87 431.85,156.67 432.10,156.03 432.35,156.28 432.60,155.37 432.85,157.39 433.10,157.95 433.35,157.27 433.60,156.92 433.85,156.14 434.10,157.65 434.35,156.31 434.60,156.65 434.85,156.89 435.10,156.20 435.35,155.83 435.60,155.98 435.85,157.17 436.10,155.96 436.35,156.27 436.60,156.68 436.85,156.20 437.10,157.27 437.35,155.97 437.60,157.33 437.85,157.12 438.10,157.12 438.35,156.22 438.60,156.27 438.85,156.17 439.10,157.10 439.35,157.61 439.60,158.29 439.85,157.45 440.10,157.05 440.35,156.86 440.60,156.91 440.85,157.95 441.10,157.92 441.35,156.62 441.60,158.16 441.85,157.06 442.10,157.74 442.35,156.94 442.60,157.74 442.85,157.37 443.10,156.90 443.35,157.49 443.60,157.44 443.85,157.12 444.10,156.57 444.35,157.02 444.60,156.94 444.85,157.67 445.10,157.85 445.35,157.95 445.60,158.01 445.85,157.20 446.10,157.27 446.35,157.03 446.60,157.50 446.85,156.93 447.10,156.74 447.35,157.30 447.60,157.44 447.85,157.60 448.10,157.81 448.35,157.58 448.60,157.87 448.85,157.05 449.10,157.49 449.35,157.99 449.60,157.65 449.85,157.44 450.10,157.29 450.35,157.73 450.60,157.57 450.85,157.43 451.10,157.84 451.35,157.17 451.60,157.45 451.85,157.41 452.10,157.62 452.35,157.47 452.60,157.89 452.85,157.48 453.10,157.59 453.35,157.39 453.60,156.84 453.85,157.91 454.10,157.26 454.35,157.59 454.60,157.42 454.85,157.07 455.10,157.84 455.35,158.02 455.60,157.38 455.85,157.91 456.10,157.07 456.35,158.10 456.60,157.75 456.85,157.48 457.10,157.70 457.35,157.99 457.60,157.41 457.85,157.54 458.10,157.75 458.35,157.42 458.60,158.07 458.85,158.24 459.10,157.77 459.35,157.62 459.60,157.84 459.85,157.28 460.10,157.57 460.35,158.37 460.60,158.10 460.85,157.12 461.10,158.18 461.35,157.48 461.60,157.73 461.85,157.34 462.10,157.95 462.35,157.53 462.60,157.67 462.85,157.67 463.10,157.75 463.35,157.56 463.60,158.05 463.85,158.06 464.10,158.06 464.35,157.83 464.60,157.99 464.85,157.91 465.10,157.94 465.35,158.37 465.60,158.20 465.85,157.80 466.10,158.09 466.35,157.40 466.60,157.79 466.85,158.02 467.10,157.80 467.35,157.41 467.60,158.37 467.85,158.09 468.10,158.37 468.35,157.53 468.60,157.50 468.85,157.11 469.10,158.04 469.35,158.29 469.60,157.50 469.85,157.80 470.10,158.26 470.35,157.84 470.60,157.85 470.85,157.98 471.10,158.38 471.35,157.94 471.60,157.40 471.85,158.10 472.10,157.94 472.35,158.04 472.60,157.51 472.85,157.89 473.10,158.38 473.35,157.67 473.60,157.52 473.85,157.69 474.10,157.26 474.35,158.38 474.60,157.99 474.85,157.61 475.10,157.98 475.35,157.99 475.60,158.10 475.85,158.38 476.10,157.73 476.35,158.22 476.60,158.30 476.85,158.14 477.10,158.14 477.35,157.80 477.60,158.27 477.85,158.12 478.10,158.21 478.35,157.79 478.60,158.36 478.85,158.14 479.10,158.21 479.35,158.14 479.60,158.36 479.85,158.38 480.10,157.93 480.35,158.13 480.60,158.00 480.85,157.99 481.10,157.92 481.35,158.26 481.60,157.80 481.85,158.16 482.10,157.80 482.35,158.12 482.60,158.30 482.85,157.88 483.10,158.35 483.35,157.85 483.60,158.39 483.85,158.11 484.10,158.17 484.35,158.12 484.60,158.09 484.85,158.06 485.10,158.39 485.35,158.23 485.60,158.26 485.85,157.98 486.10,158.22 486.35,158.07 486.60,158.03 486.85,158.19 487.10,158.39 487.35,158.23 487.60,158.39 487.85,158.24 488.10,158.23 488.35,158.08 488.60,157.78 488.85,158.09 489.10,157.96 489.35,158.39 489.60,157.99 489.85,158.24 490.10,158.24 490.35,158.20 490.60,158.19 490.85,158.26 491.10,158.25 491.35,158.35 491.60,158.40 491.85,158.40 492.10,158.17 492.35,158.18 492.60,158.40 492.85,158.23 493.10,158.40 493.35,158.40 493.60,158.34 493.85,158.39 494.10,158.38 494.35,158.40 494.60,158.35 494.85,158.21 495.10,158.39 495.35,158.40 495.60,158.35 495.85,158.30 496.10,158.40 496.35,158.40 496.60,158.39 496.85,158.38" fill="none" stroke="#8e8e8e" stroke-width="0.55" stroke-linejoin="miter"/>
<polyline points="368.60,158.40 368.85,158.40 369.10,158.40 369.35,158.27 369.60,158.40 369.85,158.38 370.10,158.09 370.35,158.25 370.60,158.21 370.85,158.07 371.10,158.39 371.35,158.36 371.60,158.36 371.85,158.12 372.10,157.95 372.35,158.27 372.60,158.05 372.85,158.28 373.10,158.00 373.35,157.97 373.60,157.99 373.85,157.83 374.10,158.12 374.35,158.15 374.60,158.12 374.85,158.39 375.10,158.38 375.35,158.19 375.60,158.13 375.85,158.38 376.10,158.14 376.35,158.20 376.60,158.38 376.85,158.17 377.10,158.05 377.35,157.81 377.60,157.61 377.85,158.24 378.10,158.20 378.35,158.36 378.60,158.02 378.85,157.83 379.10,158.12 379.35,158.38 379.60,158.00 379.85,157.61 380.10,157.97 380.35,157.69 380.60,157.64 380.85,157.99 381.10,157.71 381.35,157.38 381.60,157.76 381.85,157.31 382.10,157.60 382.35,157.38 382.60,158.17 382.85,157.35 383.10,157.38 383.35,156.92 383.60,157.14 383.85,155.86 384.10,156.11 384.35,157.35 384.60,155.99 384.85,156.07 385.10,156.01 385.35,156.48 385.60,156.80 385.85,156.44 386.10,156.40 386.35,156.19 386.60,156.35 386.85,155.54 387.10,155.34 387.35,153.20 387.60,155.20 387.85,157.56 388.10,152.19 388.35,151.68 388.60,146.26 388.85,150.31 389.10,149.26 389.35,149.10 389.60,150.70 389.85,146.99 390.10,147.14 390.35,143.98 390.60,146.51 390.85,145.75 391.10,146.95 391.35,143.60 391.60,145.17 391.85,142.47 392.10,143.31 392.35,144.20 392.60,139.39 392.85,142.85 393.10,142.93 393.35,142.36 393.60,144.23 393.85,144.43 394.10,145.71 394.35,143.25 394.60,135.42 394.85,137.66 395.10,137.77 395.35,134.50 395.60,132.87 395.85,141.10 396.10,127.79 396.35,136.04 396.60,136.60 396.85,136.36 397.10,129.68 397.35,133.81 397.60,132.56 397.85,138.34 398.10,132.29 398.35,136.02 398.60,129.53 398.85,138.36 399.10,136.44 399.35,127.13 399.60,130.23 399.85,135.37 400.10,130.43 400.35,136.62 400.60,131.97 400.85,129.98 401.10,129.91 401.35,129.84 401.60,124.21 401.85,124.48 402.10,130.21 402.35,124.82 402.60,121.98 402.85,124.26 403.10,121.26 403.35,121.06 403.60,124.67 403.85,130.51 404.10,124.03 404.35,126.85 404.60,120.58 404.85,117.70 405.10,120.04 405.35,120.34 405.60,120.14 405.85,110.37 406.10,109.84 406.35,116.14 406.60,108.81 406.85,114.31 407.10,111.51 407.35,113.03 407.60,105.16 407.85,108.25 408.10,109.23 408.35,108.44 408.60,111.17 408.85,125.00 409.10,107.76 409.35,104.77 409.60,116.40 409.85,117.20 410.10,107.66 410.35,116.07 410.60,100.71 410.85,108.51 411.10,109.73 411.35,105.68 411.60,117.20 411.85,120.21 412.10,123.13 412.35,114.33 412.60,109.47 412.85,111.18 413.10,107.56 413.35,106.94 413.60,109.48 413.85,111.33 414.10,105.92 414.35,106.23 414.60,109.40 414.85,108.43 415.10,101.23 415.35,98.86 415.60,111.71 415.85,97.32 416.10,98.61 416.35,98.21 416.60,105.09 416.85,111.12 417.10,109.16 417.35,104.04 417.60,99.87 417.85,106.80 418.10,102.06 418.35,106.35 418.60,89.79 418.85,108.12 419.10,116.94 419.35,120.80 419.60,115.89 419.85,123.28 420.10,119.88 420.35,122.68 420.60,122.44 420.85,115.72 421.10,120.34 421.35,124.09 421.60,125.55 421.85,133.51 422.10,135.39 422.35,134.81 422.60,130.26 422.85,119.25 423.10,130.15 423.35,132.19 423.60,123.27 423.85,130.56 424.10,130.35 424.35,136.58 424.60,128.06 424.85,125.41 425.10,129.99 425.35,125.19 425.60,120.08 425.85,118.38 426.10,117.90 426.35,120.39 426.60,124.60 426.85,124.78 427.10,120.20 427.35,133.44 427.60,128.00 427.85,119.67 428.10,122.58 428.35,121.88 428.60,126.08 428.85,124.74 429.10,128.61 429.35,120.94 429.60,126.33 429.85,127.48 430.10,126.98 430.35,128.77 430.60,124.87 430.85,120.48 431.10,119.01 431.35,123.61 431.60,123.90 431.85,127.82 432.10,129.77 432.35,133.68 432.60,135.26 432.85,132.82 433.10,130.56 433.35,129.88 433.60,136.73 433.85,132.35 434.10,132.83 434.35,136.71 434.60,141.79 434.85,141.17 435.10,139.68 435.35,137.89 435.60,142.66 435.85,139.71 436.10,145.77 436.35,142.73 436.60,146.45 436.85,145.58 437.10,146.57 437.35,138.84 437.60,140.30 437.85,138.28 438.10,135.73 438.35,142.33 438.60,139.76 438.85,142.96 439.10,140.20 439.35,142.50 439.60,142.58 439.85,142.61 440.10,143.14 440.35,144.09 440.60,144.07 440.85,145.72 441.10,147.44 441.35,148.92 441.60,147.54 441.85,143.90 442.10,145.13 442.35,146.58 442.60,147.32 442.85,146.97 443.10,150.09 443.35,147.38 443.60,148.61 443.85,150.63 444.10,150.03 444.35,150.45 444.60,150.72 444.85,151.07 445.10,150.01 445.35,151.21 445.60,151.42 445.85,152.68 446.10,152.74 446.35,153.20 446.60,152.80 446.85,150.54 447.10,154.29 447.35,154.01 447.60,154.65 447.85,154.49 448.10,153.43 448.35,154.43 448.60,154.60 448.85,153.20 449.10,154.19 449.35,154.91 449.60,153.86 449.85,154.97 450.10,154.33 450.35,154.75 450.60,154.80 450.85,155.32 451.10,155.41 451.35,156.25 451.60,156.29 451.85,156.06 452.10,155.02 452.35,154.72 452.60,155.57 452.85,155.72 453.10,154.58 453.35,155.93 453.60,155.94 453.85,155.27 454.10,155.64 454.35,157.39 454.60,155.66 454.85,156.35 455.10,157.08 455.35,155.74 455.60,157.08 455.85,157.29 456.10,157.24 456.35,156.22 456.60,157.40 456.85,156.81 457.10,157.07 457.35,157.28 457.60,157.40 457.85,156.31 458.10,156.92 458.35,157.75 458.60,157.56 458.85,157.21 459.10,157.17 459.35,157.34 459.60,157.26 459.85,157.71 460.10,157.42 460.35,157.53 460.60,157.40 460.85,157.02 461.10,157.99 461.35,157.52 461.60,157.84 461.85,157.46 462.10,158.12 462.35,157.74 462.60,158.08 462.85,157.91 463.10,158.01 463.35,157.74 463.60,157.95 463.85,157.87 464.10,158.14 464.35,157.79 464.60,157.93 464.85,158.11 465.10,157.47 465.35,158.30 465.60,158.38 465.85,158.38 466.10,158.32 466.35,157.75 466.60,157.90 466.85,158.21 467.10,157.98 467.35,158.00 467.60,158.39 467.85,157.96 468.10,158.39 468.35,158.34 468.60,158.00 468.85,158.39 469.10,158.09 469.35,158.39 469.60,157.93 469.85,157.96 470.10,158.11 470.35,158.03 470.60,158.20 470.85,158.18 471.10,157.89 471.35,157.98 471.60,158.39 471.85,158.16 472.10,158.11 472.35,157.98 472.60,157.87 472.85,158.21 473.10,158.39 473.35,158.15 473.60,158.39 473.85,158.06 474.10,157.97 474.35,158.18 474.60,158.23 474.85,158.28 475.10,158.07 475.35,157.94 475.60,158.04 475.85,157.90 476.10,158.39 476.35,158.33 476.60,158.39 476.85,158.39 477.10,158.32 477.35,158.17 477.60,158.05 477.85,158.07 478.10,157.88 478.35,157.99 478.60,157.94 478.85,158.21 479.10,158.13 479.35,158.16 479.60,158.39 479.85,158.39 480.10,158.37 480.35,158.25 480.60,158.14 480.85,158.23 481.10,158.37 481.35,158.24 481.60,158.26 481.85,158.38 482.10,158.31 482.35,158.20 482.60,158.39 482.85,157.95 483.10,158.23 483.35,158.22 483.60,158.14 483.85,158.29 484.10,158.27 484.35,158.22 484.60,158.39 484.85,158.39 485.10,158.32 485.35,158.33 485.60,158.27 485.85,158.39 486.10,158.29 486.35,158.09 486.60,158.37 486.85,158.18 487.10,158.21 487.35,158.13 487.60,158.35 487.85,158.21 488.10,158.40 488.35,158.24 488.60,158.32 488.85,158.16 489.10,158.27 489.35,158.08 489.60,158.40 489.85,158.37 490.10,158.17 490.35,158.40 490.60,158.40 490.85,158.31 491.10,158.28 491.35,158.17 491.60,158.37 491.85,158.19 492.10,158.38 492.35,158.33 492.60,158.40 492.85,158.40 493.10,158.32 493.35,158.40 493.60,158.34 493.85,158.40 494.10,158.40 494.35,158.40 494.60,158.33 494.85,158.40 495.10,158.30 495.35,158.37 495.60,158.35 495.85,158.27 496.10,158.37 496.35,158.40 496.60,158.40 496.85,158.39" fill="none" stroke="#0a0a0a" stroke-width="0.5" stroke-linejoin="miter"/>
</g>
<line x1="367.90" y1="28.30" x2="497.80" y2="28.30" stroke="#5a5a5a" stroke-width="0.9" />
<line x1="497.40" y1="28.30" x2="497.40" y2="158.40" stroke="#5a5a5a" stroke-width="0.9" />
<line x1="368.30" y1="28.30" x2="368.30" y2="158.80" stroke="#777" stroke-width="1.0" />
<line x1="367.90" y1="158.40" x2="497.80" y2="158.40" stroke="#3a3a3a" stroke-width="0.95" />
<text x="401.90" y="25.60" font-size="6.9" fill="#222" textLength="51.8" lengthAdjust="spacingAndGlyphs" >Multi-sample : P1</text>
<text x="424.60" y="34.80" font-size="6.6" fill="#333" textLength="8.2" lengthAdjust="spacingAndGlyphs" >P2</text>
<line x1="424.90" y1="39.10" x2="494.60" y2="39.10" stroke="#555" stroke-width="0.9" />
<line x1="424.90" y1="36.50" x2="424.90" y2="41.70" stroke="#555" stroke-width="0.9" />
<line x1="494.60" y1="36.50" x2="494.60" y2="41.70" stroke="#555" stroke-width="0.9" />
<text x="467.50" y="60.90" font-size="12" fill="#111" textLength="18.4" lengthAdjust="spacingAndGlyphs" >cEV</text>
<line x1="554.70" y1="158.40" x2="557.50" y2="158.40" stroke="#222" stroke-width="0.7" />
<text transform="translate(551.40,160.15) rotate(-90)" font-size="6.3" >0</text>
<line x1="555.70" y1="151.50" x2="557.50" y2="151.50" stroke="#222" stroke-width="0.7" />
<line x1="555.70" y1="144.60" x2="557.50" y2="144.60" stroke="#222" stroke-width="0.7" />
<line x1="555.70" y1="137.70" x2="557.50" y2="137.70" stroke="#222" stroke-width="0.7" />
<line x1="555.70" y1="130.80" x2="557.50" y2="130.80" stroke="#222" stroke-width="0.7" />
<line x1="554.70" y1="123.90" x2="557.50" y2="123.90" stroke="#222" stroke-width="0.7" />
<text transform="translate(551.40,127.40) rotate(-90)" font-size="6.3" >10</text>
<line x1="555.70" y1="117.00" x2="557.50" y2="117.00" stroke="#222" stroke-width="0.7" />
<line x1="555.70" y1="110.10" x2="557.50" y2="110.10" stroke="#222" stroke-width="0.7" />
<line x1="555.70" y1="103.20" x2="557.50" y2="103.20" stroke="#222" stroke-width="0.7" />
<line x1="555.70" y1="96.30" x2="557.50" y2="96.30" stroke="#222" stroke-width="0.7" />
<line x1="554.70" y1="89.40" x2="557.50" y2="89.40" stroke="#222" stroke-width="0.7" />
<text transform="translate(551.40,92.90) rotate(-90)" font-size="6.3" >20</text>
<line x1="555.70" y1="82.50" x2="557.50" y2="82.50" stroke="#222" stroke-width="0.7" />
<line x1="555.70" y1="75.60" x2="557.50" y2="75.60" stroke="#222" stroke-width="0.7" />
<line x1="555.70" y1="68.70" x2="557.50" y2="68.70" stroke="#222" stroke-width="0.7" />
<line x1="555.70" y1="61.80" x2="557.50" y2="61.80" stroke="#222" stroke-width="0.7" />
<line x1="554.70" y1="54.90" x2="557.50" y2="54.90" stroke="#222" stroke-width="0.7" />
<text transform="translate(551.40,58.40) rotate(-90)" font-size="6.3" >30</text>
<line x1="555.70" y1="48.00" x2="557.50" y2="48.00" stroke="#222" stroke-width="0.7" />
<line x1="555.70" y1="41.10" x2="557.50" y2="41.10" stroke="#222" stroke-width="0.7" />
<line x1="555.70" y1="34.20" x2="557.50" y2="34.20" stroke="#222" stroke-width="0.7" />
<text transform="translate(543.00,102.15) rotate(-90)" font-size="7.4" textLength="17.6" lengthAdjust="spacingAndGlyphs" >Count</text>
<line x1="560.79" y1="158.40" x2="560.79" y2="160.00" stroke="#222" stroke-width="0.6" />
<line x1="564.68" y1="158.40" x2="564.68" y2="160.00" stroke="#222" stroke-width="0.6" />
<line x1="567.71" y1="158.40" x2="567.71" y2="160.00" stroke="#222" stroke-width="0.6" />
<line x1="570.18" y1="158.40" x2="570.18" y2="160.00" stroke="#222" stroke-width="0.6" />
<line x1="572.27" y1="158.40" x2="572.27" y2="160.00" stroke="#222" stroke-width="0.6" />
<line x1="574.08" y1="158.40" x2="574.08" y2="160.00" stroke="#222" stroke-width="0.6" />
<line x1="575.67" y1="158.40" x2="575.67" y2="160.00" stroke="#222" stroke-width="0.6" />
<line x1="577.10" y1="158.40" x2="577.10" y2="161.00" stroke="#222" stroke-width="0.6" />
<line x1="586.49" y1="158.40" x2="586.49" y2="160.00" stroke="#222" stroke-width="0.6" />
<line x1="591.99" y1="158.40" x2="591.99" y2="160.00" stroke="#222" stroke-width="0.6" />
<line x1="595.88" y1="158.40" x2="595.88" y2="160.00" stroke="#222" stroke-width="0.6" />
<line x1="598.91" y1="158.40" x2="598.91" y2="160.00" stroke="#222" stroke-width="0.6" />
<line x1="601.38" y1="158.40" x2="601.38" y2="160.00" stroke="#222" stroke-width="0.6" />
<line x1="603.47" y1="158.40" x2="603.47" y2="160.00" stroke="#222" stroke-width="0.6" />
<line x1="605.28" y1="158.40" x2="605.28" y2="160.00" stroke="#222" stroke-width="0.6" />
<line x1="606.87" y1="158.40" x2="606.87" y2="160.00" stroke="#222" stroke-width="0.6" />
<line x1="608.30" y1="158.40" x2="608.30" y2="161.00" stroke="#222" stroke-width="0.6" />
<line x1="617.69" y1="158.40" x2="617.69" y2="160.00" stroke="#222" stroke-width="0.6" />
<line x1="623.19" y1="158.40" x2="623.19" y2="160.00" stroke="#222" stroke-width="0.6" />
<line x1="627.08" y1="158.40" x2="627.08" y2="160.00" stroke="#222" stroke-width="0.6" />
<line x1="630.11" y1="158.40" x2="630.11" y2="160.00" stroke="#222" stroke-width="0.6" />
<line x1="632.58" y1="158.40" x2="632.58" y2="160.00" stroke="#222" stroke-width="0.6" />
<line x1="634.67" y1="158.40" x2="634.67" y2="160.00" stroke="#222" stroke-width="0.6" />
<line x1="636.48" y1="158.40" x2="636.48" y2="160.00" stroke="#222" stroke-width="0.6" />
<line x1="638.07" y1="158.40" x2="638.07" y2="160.00" stroke="#222" stroke-width="0.6" />
<line x1="639.50" y1="158.40" x2="639.50" y2="161.00" stroke="#222" stroke-width="0.6" />
<line x1="648.89" y1="158.40" x2="648.89" y2="160.00" stroke="#222" stroke-width="0.6" />
<line x1="654.39" y1="158.40" x2="654.39" y2="160.00" stroke="#222" stroke-width="0.6" />
<line x1="658.28" y1="158.40" x2="658.28" y2="160.00" stroke="#222" stroke-width="0.6" />
<line x1="661.31" y1="158.40" x2="661.31" y2="160.00" stroke="#222" stroke-width="0.6" />
<line x1="663.78" y1="158.40" x2="663.78" y2="160.00" stroke="#222" stroke-width="0.6" />
<line x1="665.87" y1="158.40" x2="665.87" y2="160.00" stroke="#222" stroke-width="0.6" />
<line x1="667.68" y1="158.40" x2="667.68" y2="160.00" stroke="#222" stroke-width="0.6" />
<line x1="669.27" y1="158.40" x2="669.27" y2="160.00" stroke="#222" stroke-width="0.6" />
<line x1="670.70" y1="158.40" x2="670.70" y2="161.00" stroke="#222" stroke-width="0.6" />
<line x1="680.09" y1="158.40" x2="680.09" y2="160.00" stroke="#222" stroke-width="0.6" />
<text x="573.60" y="168.60" font-size="6.9" fill="#111" >10</text>
<text x="580.90" y="166.30" font-size="4.1" fill="#111" >3</text>
<text x="604.80" y="168.60" font-size="6.9" fill="#111" >10</text>
<text x="612.10" y="166.30" font-size="4.1" fill="#111" >4</text>
<text x="636.00" y="168.60" font-size="6.9" fill="#111" >10</text>
<text x="643.30" y="166.30" font-size="4.1" fill="#111" >5</text>
<text x="667.20" y="168.60" font-size="6.9" fill="#111" >10</text>
<text x="674.50" y="166.30" font-size="4.1" fill="#111" >6</text>
<clipPath id="fc21"><rect x="557.50" y="28.30" width="124.90" height="130.10"/></clipPath>
<g clip-path="url(#fc21)">
<polyline points="557.80,153.36 558.05,155.01 558.30,152.37 558.55,151.87 558.80,150.98 559.05,152.94 559.30,151.65 559.55,153.08 559.80,153.59 560.05,150.89 560.30,149.48 560.55,153.37 560.80,150.38 561.05,151.79 561.30,151.53 561.55,155.53 561.80,151.79 562.05,153.04 562.30,149.67 562.55,150.51 562.80,152.35 563.05,150.33 563.30,149.69 563.55,147.66 563.80,146.99 564.05,149.53 564.30,148.39 564.55,149.94 564.80,147.20 565.05,148.39 565.30,150.37 565.55,149.07 565.80,144.84 566.05,146.57 566.30,147.23 566.55,145.54 566.80,145.83 567.05,145.70 567.30,144.41 567.55,143.36 567.80,140.41 568.05,143.37 568.30,144.75 568.55,144.30 568.80,144.42 569.05,143.44 569.30,143.79 569.55,146.24 569.80,145.97 570.05,141.23 570.30,139.13 570.55,140.39 570.80,138.77 571.05,144.23 571.30,142.75 571.55,139.69 571.80,139.27 572.05,145.89 572.30,144.15 572.55,142.58 572.80,139.11 573.05,134.20 573.30,136.12 573.55,139.17 573.80,139.84 574.05,139.76 574.30,136.37 574.55,134.18 574.80,137.63 575.05,135.07 575.30,122.60 575.55,131.86 575.80,134.65 576.05,134.83 576.30,128.29 576.55,130.66 576.80,127.09 577.05,133.80 577.30,133.17 577.55,135.16 577.80,136.59 578.05,130.50 578.30,134.98 578.55,138.11 578.80,133.00 579.05,131.94 579.30,127.13 579.55,124.59 579.80,128.78 580.05,131.76 580.30,129.44 580.55,134.11 580.80,127.44 581.05,130.01 581.30,123.85 581.55,115.71 581.80,125.83 582.05,125.87 582.30,124.86 582.55,123.09 582.80,117.40 583.05,123.50 583.30,123.58 583.55,126.14 583.80,146.60 584.05,133.83 584.30,121.41 584.55,126.95 584.80,119.60 585.05,122.57 585.30,130.46 585.55,128.83 585.80,119.61 586.05,119.25 586.30,121.25 586.55,116.33 586.80,121.85 587.05,120.25 587.30,115.32 587.55,114.85 587.80,115.05 588.05,124.23 588.30,124.38 588.55,119.27 588.80,103.05 589.05,105.30 589.30,100.69 589.55,97.54 589.80,101.93 590.05,100.07 590.30,106.74 590.55,99.95 590.80,104.90 591.05,104.85 591.30,121.09 591.55,100.38 591.80,82.25 592.05,95.78 592.30,94.29 592.55,96.92 592.80,98.80 593.05,98.33 593.30,97.60 593.55,110.74 593.80,107.30 594.05,93.58 594.30,99.11 594.55,93.63 594.80,100.36 595.05,107.05 595.30,95.56 595.55,114.17 595.80,93.85 596.05,73.65 596.30,80.16 596.55,87.63 596.80,73.17 597.05,94.43 597.30,96.35 597.55,82.25 597.80,95.16 598.05,99.82 598.30,104.35 598.55,86.02 598.80,85.49 599.05,87.28 599.30,87.51 599.55,90.05 599.80,82.93 600.05,77.55 600.30,85.11 600.55,68.89 600.80,84.61 601.05,82.07 601.30,83.58 601.55,61.11 601.80,83.07 602.05,81.59 602.30,84.76 602.55,80.84 602.80,81.01 603.05,78.50 603.30,75.08 603.55,75.71 603.80,70.57 604.05,78.52 604.30,81.29 604.55,75.90 604.80,72.76 605.05,76.37 605.30,81.78 605.55,87.50 605.80,71.97 606.05,75.17 606.30,91.06 606.55,85.87 606.80,76.63 607.05,89.09 607.30,74.35 607.55,77.51 607.80,75.73 608.05,70.02 608.30,71.43 608.55,80.53 608.80,85.03 609.05,84.48 609.30,85.93 609.55,91.01 609.80,66.96 610.05,86.22 610.30,84.71 610.55,92.53 610.80,97.76 611.05,95.73 611.30,99.20 611.55,96.30 611.80,99.15 612.05,107.40 612.30,113.82 612.55,113.33 612.80,104.76 613.05,106.19 613.30,110.08 613.55,118.32 613.80,120.76 614.05,108.90 614.30,113.70 614.55,122.66 614.80,120.99 615.05,123.58 615.30,120.41 615.55,124.57 615.80,119.75 616.05,128.01 616.30,128.25 616.55,135.61 616.80,129.19 617.05,129.44 617.30,136.31 617.55,134.68 617.80,131.61 618.05,136.13 618.30,140.75 618.55,137.62 618.80,146.16 619.05,144.34 619.30,145.75 619.55,144.97 619.80,147.81 620.05,144.33 620.30,147.79 620.55,147.05 620.80,147.99 621.05,151.71 621.30,149.18 621.55,147.50 621.80,149.68 622.05,149.79 622.30,154.71 622.55,154.08 622.80,153.34 623.05,155.87 623.30,156.92 623.55,155.14 623.80,154.55 624.05,155.37 624.30,154.89 624.55,155.88 624.80,155.43 625.05,156.56 625.30,156.05 625.55,157.26 625.80,156.62 626.05,156.94 626.30,157.81 626.55,157.48 626.80,155.68 627.05,156.03 627.30,156.60 627.55,156.16 627.80,156.48 628.05,156.78 628.30,156.68 628.55,156.57 628.80,156.99 629.05,156.59 629.30,157.31 629.55,156.88 629.80,156.48 630.05,157.31 630.30,157.57 630.55,156.05 630.80,156.21 631.05,157.41 631.30,157.44 631.55,157.00 631.80,157.41 632.05,157.82 632.30,156.51 632.55,157.03 632.80,156.57 633.05,157.11 633.30,157.85 633.55,156.65 633.80,157.57 634.05,157.75 634.30,157.44 634.55,157.58 634.80,156.87 635.05,156.97 635.30,157.26 635.55,157.28 635.80,156.85 636.05,156.70 636.30,157.21 636.55,156.44 636.80,156.78 637.05,157.24 637.30,158.00 637.55,157.07 637.80,157.80 638.05,156.78 638.30,157.34 638.55,157.35 638.80,156.83 639.05,156.82 639.30,156.95 639.55,157.72 639.80,157.50 640.05,157.26 640.30,157.51 640.55,157.34 640.80,157.88 641.05,157.00 641.30,157.54 641.55,157.42 641.80,156.70 642.05,157.77 642.30,157.99 642.55,157.48 642.80,157.04 643.05,157.40 643.30,156.80 643.55,157.09 643.80,157.62 644.05,155.98 644.30,157.71 644.55,158.12 644.80,157.17 645.05,157.96 645.30,157.24 645.55,157.66 645.80,157.64 646.05,158.02 646.30,158.24 646.55,157.87 646.80,158.15 647.05,158.02 647.30,157.94 647.55,157.81 647.80,156.85 648.05,157.41 648.30,157.56 648.55,157.59 648.80,157.35 649.05,158.06 649.30,157.51 649.55,157.30 649.80,157.42 650.05,158.12 650.30,156.87 650.55,157.15 650.80,157.46 651.05,157.64 651.30,157.99 651.55,158.36 651.80,157.01 652.05,157.46 652.30,157.39 652.55,157.87 652.80,157.32 653.05,157.82 653.30,158.10 653.55,157.93 653.80,157.05 654.05,157.56 654.30,157.40 654.55,157.47 654.80,157.30 655.05,157.41 655.30,158.17 655.55,157.51 655.80,157.78 656.05,157.81 656.30,158.37 656.55,157.71 656.80,158.25 657.05,157.92 657.30,157.50 657.55,158.21 657.80,157.86 658.05,158.35 658.30,157.71 658.55,157.96 658.80,158.37 659.05,157.32 659.30,157.65 659.55,158.37 659.80,158.37 660.05,157.94 660.30,157.38 660.55,157.86 660.80,157.41 661.05,157.96 661.30,158.10 661.55,157.76 661.80,158.04 662.05,158.30 662.30,158.14 662.55,157.70 662.80,157.53 663.05,157.96 663.30,157.61 663.55,157.44 663.80,158.15 664.05,157.71 664.30,158.06 664.55,158.34 664.80,158.02 665.05,158.38 665.30,158.15 665.55,157.84 665.80,158.12 666.05,158.19 666.30,157.57 666.55,157.80 666.80,158.06 667.05,157.82 667.30,158.21 667.55,157.84 667.80,157.92 668.05,158.38 668.30,158.37 668.55,158.05 668.80,157.90 669.05,158.18 669.30,157.90 669.55,158.11 669.80,158.28 670.05,158.33 670.30,157.81 670.55,158.00 670.80,158.31 671.05,157.85 671.30,158.13 671.55,158.25 671.80,158.36 672.05,158.39 672.30,157.93 672.55,158.32 672.80,158.01 673.05,158.39 673.30,158.39 673.55,157.93 673.80,158.12 674.05,158.18 674.30,158.24 674.55,158.32 674.80,158.23 675.05,158.34 675.30,158.13 675.55,158.20 675.80,158.20 676.05,158.11 676.30,158.39 676.55,158.06 676.80,158.17 677.05,158.10 677.30,158.11 677.55,158.27 677.80,158.03 678.05,158.24 678.30,158.39 678.55,158.36 678.80,158.12 679.05,158.25 679.30,158.29 679.55,158.35 679.80,158.32 680.05,158.40 680.30,158.32 680.55,158.38 680.80,158.25 681.05,158.29 681.30,158.29 681.55,158.40 681.80,158.37 682.05,158.40" fill="none" stroke="#8e8e8e" stroke-width="0.55" stroke-linejoin="miter"/>
<polyline points="557.80,154.42 558.05,155.78 558.30,155.69 558.55,156.32 558.80,155.19 559.05,154.39 559.30,154.37 559.55,155.65 559.80,153.70 560.05,156.06 560.30,152.39 560.55,154.43 560.80,154.68 561.05,154.15 561.30,150.76 561.55,152.31 561.80,152.47 562.05,150.52 562.30,151.56 562.55,153.01 562.80,153.37 563.05,150.74 563.30,149.32 563.55,152.86 563.80,151.28 564.05,152.29 564.30,151.46 564.55,149.96 564.80,148.68 565.05,149.23 565.30,149.84 565.55,149.07 565.80,149.24 566.05,149.09 566.30,146.59 566.55,145.80 566.80,139.92 567.05,145.41 567.30,148.58 567.55,144.95 567.80,142.83 568.05,147.38 568.30,145.28 568.55,150.73 568.80,148.27 569.05,148.58 569.30,153.37 569.55,151.56 569.80,146.95 570.05,151.96 570.30,152.15 570.55,147.93 570.80,145.68 571.05,151.31 571.30,145.33 571.55,147.24 571.80,147.52 572.05,145.59 572.30,147.79 572.55,148.69 572.80,147.91 573.05,146.19 573.30,149.19 573.55,146.86 573.80,146.73 574.05,149.90 574.30,146.53 574.55,144.51 574.80,144.72 575.05,144.53 575.30,147.81 575.55,147.71 575.80,145.80 576.05,149.98 576.30,148.32 576.55,145.13 576.80,146.01 577.05,144.11 577.30,147.73 577.55,143.96 577.80,144.39 578.05,144.84 578.30,146.97 578.55,146.03 578.80,144.98 579.05,143.52 579.30,145.86 579.55,140.63 579.80,143.82 580.05,143.91 580.30,142.94 580.55,142.53 580.80,146.34 581.05,144.84 581.30,143.90 581.55,142.97 581.80,143.59 582.05,149.64 582.30,144.79 582.55,141.66 582.80,140.21 583.05,145.26 583.30,144.14 583.55,139.72 583.80,141.93 584.05,138.23 584.30,144.30 584.55,142.36 584.80,143.92 585.05,143.00 585.30,143.67 585.55,140.49 585.80,139.58 586.05,144.61 586.30,141.42 586.55,141.60 586.80,140.30 587.05,138.71 587.30,140.82 587.55,142.86 587.80,142.25 588.05,143.88 588.30,143.96 588.55,142.00 588.80,141.92 589.05,139.01 589.30,140.76 589.55,139.62 589.80,139.29 590.05,139.94 590.30,140.44 590.55,142.85 590.80,146.24 591.05,143.30 591.30,139.59 591.55,145.17 591.80,139.98 592.05,140.46 592.30,144.68 592.55,140.73 592.80,141.35 593.05,140.11 593.30,136.86 593.55,138.76 593.80,137.88 594.05,143.48 594.30,144.08 594.55,137.89 594.80,141.17 595.05,136.84 595.30,139.24 595.55,141.02 595.80,142.99 596.05,144.93 596.30,142.71 596.55,140.32 596.80,134.86 597.05,136.05 597.30,141.82 597.55,131.55 597.80,133.97 598.05,136.22 598.30,129.00 598.55,137.96 598.80,135.43 599.05,126.52 599.30,134.93 599.55,128.74 599.80,131.90 600.05,133.30 600.30,132.57 600.55,145.47 600.80,132.41 601.05,129.98 601.30,123.12 601.55,129.56 601.80,130.17 602.05,115.44 602.30,116.58 602.55,114.80 602.80,118.57 603.05,123.08 603.30,112.28 603.55,126.90 603.80,112.67 604.05,109.02 604.30,107.81 604.55,101.03 604.80,118.61 605.05,107.97 605.30,109.09 605.55,104.36 605.80,103.00 606.05,100.69 606.30,105.78 606.55,98.26 606.80,89.13 607.05,84.87 607.30,99.45 607.55,93.84 607.80,96.09 608.05,95.73 608.30,97.59 608.55,88.80 608.80,86.71 609.05,94.85 609.30,103.53 609.55,89.59 609.80,89.10 610.05,82.96 610.30,86.26 610.55,86.03 610.80,87.64 611.05,98.64 611.30,98.21 611.55,78.80 611.80,89.94 612.05,96.86 612.30,77.24 612.55,79.45 612.80,78.27 613.05,76.04 613.30,69.65 613.55,50.73 613.80,76.88 614.05,79.77 614.30,66.77 614.55,84.76 614.80,80.77 615.05,71.99 615.30,77.96 615.55,76.25 615.80,81.33 616.05,74.05 616.30,87.66 616.55,95.17 616.80,85.58 617.05,88.39 617.30,89.92 617.55,91.52 617.80,78.84 618.05,109.99 618.30,88.79 618.55,85.79 618.80,81.73 619.05,89.25 619.30,83.54 619.55,94.00 619.80,95.69 620.05,96.60 620.30,102.19 620.55,96.92 620.80,105.36 621.05,116.05 621.30,107.08 621.55,126.29 621.80,110.09 622.05,116.27 622.30,113.33 622.55,119.02 622.80,114.28 623.05,112.17 623.30,124.14 623.55,109.26 623.80,117.77 624.05,120.52 624.30,111.15 624.55,123.04 624.80,120.30 625.05,119.10 625.30,126.86 625.55,126.09 625.80,143.49 626.05,133.30 626.30,133.69 626.55,131.86 626.80,133.17 627.05,142.19 627.30,135.69 627.55,130.57 627.80,134.83 628.05,135.88 628.30,140.75 628.55,130.89 628.80,130.02 629.05,136.21 629.30,136.78 629.55,138.20 629.80,129.39 630.05,138.64 630.30,131.20 630.55,133.39 630.80,133.98 631.05,140.49 631.30,138.90 631.55,138.75 631.80,138.18 632.05,144.61 632.30,142.49 632.55,143.94 632.80,142.39 633.05,147.51 633.30,150.83 633.55,148.58 633.80,151.66 634.05,148.95 634.30,147.52 634.55,149.57 634.80,150.57 635.05,152.57 635.30,153.44 635.55,155.03 635.80,152.02 636.05,152.83 636.30,155.58 636.55,154.14 636.80,154.97 637.05,154.37 637.30,153.68 637.55,154.18 637.80,155.91 638.05,154.48 638.30,154.13 638.55,156.51 638.80,156.24 639.05,155.59 639.30,155.37 639.55,156.81 639.80,155.54 640.05,155.66 640.30,155.19 640.55,156.29 640.80,156.13 641.05,156.29 641.30,156.92 641.55,157.91 641.80,155.75 642.05,155.73 642.30,155.13 642.55,155.24 642.80,154.20 643.05,157.14 643.30,157.04 643.55,155.83 643.80,154.76 644.05,155.77 644.30,155.78 644.55,155.80 644.80,155.71 645.05,156.42 645.30,155.76 645.55,155.95 645.80,155.05 646.05,156.23 646.30,156.08 646.55,156.57 646.80,155.57 647.05,155.94 647.30,156.83 647.55,156.98 647.80,156.48 648.05,157.57 648.30,156.97 648.55,156.49 648.80,155.50 649.05,157.01 649.30,156.12 649.55,156.92 649.80,157.12 650.05,156.76 650.30,157.44 650.55,158.02 650.80,156.20 651.05,157.28 651.30,156.16 651.55,158.23 651.80,157.70 652.05,157.27 652.30,156.98 652.55,156.51 652.80,157.07 653.05,157.18 653.30,156.76 653.55,157.30 653.80,157.31 654.05,156.53 654.30,155.97 654.55,157.95 654.80,157.23 655.05,156.16 655.30,156.68 655.55,156.92 655.80,157.08 656.05,156.75 656.30,157.46 656.55,156.86 656.80,156.56 657.05,157.57 657.30,157.42 657.55,157.61 657.80,157.52 658.05,157.79 658.30,157.65 658.55,158.36 658.80,156.92 659.05,156.64 659.30,157.50 659.55,157.54 659.80,157.13 660.05,158.12 660.30,157.48 660.55,157.98 660.80,157.27 661.05,157.99 661.30,157.68 661.55,158.01 661.80,157.77 662.05,157.33 662.30,157.61 662.55,157.48 662.80,157.73 663.05,158.36 663.30,157.33 663.55,157.43 663.80,157.54 664.05,158.11 664.30,157.90 664.55,157.68 664.80,157.98 665.05,158.15 665.30,157.74 665.55,157.59 665.80,157.89 666.05,158.02 666.30,157.27 666.55,157.92 666.80,157.62 667.05,158.06 667.30,157.77 667.55,157.34 667.80,157.70 668.05,157.28 668.30,157.89 668.55,157.70 668.80,157.36 669.05,157.81 669.30,157.80 669.55,157.60 669.80,158.27 670.05,157.69 670.30,157.61 670.55,158.25 670.80,157.93 671.05,157.43 671.30,157.69 671.55,157.92 671.80,158.28 672.05,158.25 672.30,157.89 672.55,157.53 672.80,157.89 673.05,158.03 673.30,158.38 673.55,158.05 673.80,158.38 674.05,158.17 674.30,158.39 674.55,158.35 674.80,158.00 675.05,157.90 675.30,157.80 675.55,157.78 675.80,158.20 676.05,158.01 676.30,158.01 676.55,158.39 676.80,158.39 677.05,158.12 677.30,158.05 677.55,158.23 677.80,158.26 678.05,158.39 678.30,158.26 678.55,158.39 678.80,158.19 679.05,158.29 679.30,158.35 679.55,158.17 679.80,158.26 680.05,158.23 680.30,158.15 680.55,158.40 680.80,158.40 681.05,158.30 681.30,158.36 681.55,158.33 681.80,158.39 682.05,158.40" fill="none" stroke="#0a0a0a" stroke-width="0.5" stroke-linejoin="miter"/>
</g>
<line x1="557.10" y1="28.30" x2="682.80" y2="28.30" stroke="#5a5a5a" stroke-width="0.9" />
<line x1="682.40" y1="28.30" x2="682.40" y2="158.40" stroke="#5a5a5a" stroke-width="0.9" />
<line x1="557.50" y1="28.30" x2="557.50" y2="158.80" stroke="#777" stroke-width="1.0" />
<line x1="557.10" y1="158.40" x2="682.80" y2="158.40" stroke="#3a3a3a" stroke-width="0.95" />
<text x="589.00" y="25.40" font-size="6.9" fill="#222" textLength="51.8" lengthAdjust="spacingAndGlyphs" >Multi-sample : P1</text>
<text x="615.00" y="34.90" font-size="6.6" fill="#333" textLength="8.2" lengthAdjust="spacingAndGlyphs" >P2</text>
<line x1="615.10" y1="39.30" x2="682.40" y2="39.30" stroke="#555" stroke-width="0.9" />
<line x1="615.10" y1="36.70" x2="615.10" y2="41.90" stroke="#555" stroke-width="0.9" />
<text x="635.40" y="59.00" font-size="11.7" fill="#111" textLength="44.6" lengthAdjust="spacingAndGlyphs" >PDGF-EV</text>
<line x1="365.50" y1="308.40" x2="368.30" y2="308.40" stroke="#222" stroke-width="0.7" />
<text transform="translate(362.20,310.15) rotate(-90)" font-size="6.3" >0</text>
<line x1="366.50" y1="300.68" x2="368.30" y2="300.68" stroke="#222" stroke-width="0.7" />
<line x1="366.50" y1="292.96" x2="368.30" y2="292.96" stroke="#222" stroke-width="0.7" />
<line x1="366.50" y1="285.24" x2="368.30" y2="285.24" stroke="#222" stroke-width="0.7" />
<line x1="366.50" y1="277.52" x2="368.30" y2="277.52" stroke="#222" stroke-width="0.7" />
<line x1="365.50" y1="269.80" x2="368.30" y2="269.80" stroke="#222" stroke-width="0.7" />
<text transform="translate(362.20,273.30) rotate(-90)" font-size="6.3" >10</text>
<line x1="366.50" y1="262.08" x2="368.30" y2="262.08" stroke="#222" stroke-width="0.7" />
<line x1="366.50" y1="254.36" x2="368.30" y2="254.36" stroke="#222" stroke-width="0.7" />
<line x1="366.50" y1="246.64" x2="368.30" y2="246.64" stroke="#222" stroke-width="0.7" />
<line x1="366.50" y1="238.92" x2="368.30" y2="238.92" stroke="#222" stroke-width="0.7" />
<line x1="365.50" y1="231.20" x2="368.30" y2="231.20" stroke="#222" stroke-width="0.7" />
<text transform="translate(362.20,234.70) rotate(-90)" font-size="6.3" >20</text>
<line x1="366.50" y1="223.48" x2="368.30" y2="223.48" stroke="#222" stroke-width="0.7" />
<line x1="366.50" y1="215.76" x2="368.30" y2="215.76" stroke="#222" stroke-width="0.7" />
<line x1="366.50" y1="208.04" x2="368.30" y2="208.04" stroke="#222" stroke-width="0.7" />
<line x1="366.50" y1="200.32" x2="368.30" y2="200.32" stroke="#222" stroke-width="0.7" />
<line x1="365.50" y1="192.60" x2="368.30" y2="192.60" stroke="#222" stroke-width="0.7" />
<text transform="translate(362.20,196.10) rotate(-90)" font-size="6.3" >30</text>
<line x1="366.50" y1="184.88" x2="368.30" y2="184.88" stroke="#222" stroke-width="0.7" />
<text transform="translate(353.80,254.15) rotate(-90)" font-size="7.4" textLength="17.6" lengthAdjust="spacingAndGlyphs" >Count</text>
<line x1="368.46" y1="308.40" x2="368.46" y2="310.00" stroke="#222" stroke-width="0.6" />
<line x1="370.97" y1="308.40" x2="370.97" y2="310.00" stroke="#222" stroke-width="0.6" />
<line x1="373.09" y1="308.40" x2="373.09" y2="310.00" stroke="#222" stroke-width="0.6" />
<line x1="374.93" y1="308.40" x2="374.93" y2="310.00" stroke="#222" stroke-width="0.6" />
<line x1="376.55" y1="308.40" x2="376.55" y2="310.00" stroke="#222" stroke-width="0.6" />
<line x1="378.00" y1="308.40" x2="378.00" y2="311.00" stroke="#222" stroke-width="0.6" />
<line x1="387.54" y1="308.40" x2="387.54" y2="310.00" stroke="#222" stroke-width="0.6" />
<line x1="393.12" y1="308.40" x2="393.12" y2="310.00" stroke="#222" stroke-width="0.6" />
<line x1="397.09" y1="308.40" x2="397.09" y2="310.00" stroke="#222" stroke-width="0.6" />
<line x1="400.16" y1="308.40" x2="400.16" y2="310.00" stroke="#222" stroke-width="0.6" />
<line x1="402.67" y1="308.40" x2="402.67" y2="310.00" stroke="#222" stroke-width="0.6" />
<line x1="404.79" y1="308.40" x2="404.79" y2="310.00" stroke="#222" stroke-width="0.6" />
<line x1="406.63" y1="308.40" x2="406.63" y2="310.00" stroke="#222" stroke-width="0.6" />
<line x1="408.25" y1="308.40" x2="408.25" y2="310.00" stroke="#222" stroke-width="0.6" />
<line x1="409.70" y1="308.40" x2="409.70" y2="311.00" stroke="#222" stroke-width="0.6" />
<line x1="419.24" y1="308.40" x2="419.24" y2="310.00" stroke="#222" stroke-width="0.6" />
<line x1="424.82" y1="308.40" x2="424.82" y2="310.00" stroke="#222" stroke-width="0.6" />
<line x1="428.79" y1="308.40" x2="428.79" y2="310.00" stroke="#222" stroke-width="0.6" />
<line x1="431.86" y1="308.40" x2="431.86" y2="310.00" stroke="#222" stroke-width="0.6" />
<line x1="434.37" y1="308.40" x2="434.37" y2="310.00" stroke="#222" stroke-width="0.6" />
<line x1="436.49" y1="308.40" x2="436.49" y2="310.00" stroke="#222" stroke-width="0.6" />
<line x1="438.33" y1="308.40" x2="438.33" y2="310.00" stroke="#222" stroke-width="0.6" />
<line x1="439.95" y1="308.40" x2="439.95" y2="310.00" stroke="#222" stroke-width="0.6" />
<line x1="441.40" y1="308.40" x2="441.40" y2="311.00" stroke="#222" stroke-width="0.6" />
<line x1="450.94" y1="308.40" x2="450.94" y2="310.00" stroke="#222" stroke-width="0.6" />
<line x1="456.52" y1="308.40" x2="456.52" y2="310.00" stroke="#222" stroke-width="0.6" />
<line x1="460.49" y1="308.40" x2="460.49" y2="310.00" stroke="#222" stroke-width="0.6" />
<line x1="463.56" y1="308.40" x2="463.56" y2="310.00" stroke="#222" stroke-width="0.6" />
<line x1="466.07" y1="308.40" x2="466.07" y2="310.00" stroke="#222" stroke-width="0.6" />
<line x1="468.19" y1="308.40" x2="468.19" y2="310.00" stroke="#222" stroke-width="0.6" />
<line x1="470.03" y1="308.40" x2="470.03" y2="310.00" stroke="#222" stroke-width="0.6" />
<line x1="471.65" y1="308.40" x2="471.65" y2="310.00" stroke="#222" stroke-width="0.6" />
<line x1="473.10" y1="308.40" x2="473.10" y2="311.00" stroke="#222" stroke-width="0.6" />
<line x1="482.64" y1="308.40" x2="482.64" y2="310.00" stroke="#222" stroke-width="0.6" />
<line x1="488.22" y1="308.40" x2="488.22" y2="310.00" stroke="#222" stroke-width="0.6" />
<line x1="492.19" y1="308.40" x2="492.19" y2="310.00" stroke="#222" stroke-width="0.6" />
<text x="374.50" y="318.80" font-size="6.9" fill="#111" >10</text>
<text x="381.80" y="316.50" font-size="4.1" fill="#111" >3</text>
<text x="406.20" y="318.80" font-size="6.9" fill="#111" >10</text>
<text x="413.50" y="316.50" font-size="4.1" fill="#111" >4</text>
<text x="437.90" y="318.80" font-size="6.9" fill="#111" >10</text>
<text x="445.20" y="316.50" font-size="4.1" fill="#111" >5</text>
<text x="469.60" y="318.80" font-size="6.9" fill="#111" >10</text>
<text x="476.90" y="316.50" font-size="4.1" fill="#111" >6</text>
<clipPath id="fc31"><rect x="368.30" y="182.30" width="126.20" height="126.10"/></clipPath>
<g clip-path="url(#fc31)">
<polyline points="368.60,308.11 368.85,307.32 369.10,307.54 369.35,307.35 369.60,306.95 369.85,307.00 370.10,307.82 370.35,307.70 370.60,306.43 370.85,307.39 371.10,307.31 371.35,306.64 371.60,305.69 371.85,307.59 372.10,307.33 372.35,307.40 372.60,306.09 372.85,306.24 373.10,307.32 373.35,306.97 373.60,306.40 373.85,307.51 374.10,306.71 374.35,307.73 374.60,306.00 374.85,306.24 375.10,304.60 375.35,305.58 375.60,304.22 375.85,304.50 376.10,305.75 376.35,302.89 376.60,304.29 376.85,303.62 377.10,302.65 377.35,301.97 377.60,300.13 377.85,299.82 378.10,299.87 378.35,299.42 378.60,299.42 378.85,300.38 379.10,297.42 379.35,295.87 379.60,296.60 379.85,299.13 380.10,297.59 380.35,293.90 380.60,297.57 380.85,292.73 381.10,291.84 381.35,290.48 381.60,292.54 381.85,296.79 382.10,290.40 382.35,285.12 382.60,295.28 382.85,293.88 383.10,289.91 383.35,290.90 383.60,300.04 383.85,295.15 384.10,296.32 384.35,299.07 384.60,288.71 384.85,293.52 385.10,291.73 385.35,290.67 385.60,285.29 385.85,283.09 386.10,286.43 386.35,287.14 386.60,283.61 386.85,285.30 387.10,283.19 387.35,285.96 387.60,280.41 387.85,288.18 388.10,276.26 388.35,279.37 388.60,272.01 388.85,273.23 389.10,272.81 389.35,266.42 389.60,265.43 389.85,273.79 390.10,270.98 390.35,272.22 390.60,270.14 390.85,264.02 391.10,269.87 391.35,261.75 391.60,277.04 391.85,277.41 392.10,271.18 392.35,271.47 392.60,276.39 392.85,276.90 393.10,277.90 393.35,278.75 393.60,268.93 393.85,279.12 394.10,268.34 394.35,272.98 394.60,284.80 394.85,270.83 395.10,263.91 395.35,251.10 395.60,251.64 395.85,278.38 396.10,254.74 396.35,253.43 396.60,250.21 396.85,249.85 397.10,256.81 397.35,250.91 397.60,254.51 397.85,247.79 398.10,248.07 398.35,244.00 398.60,241.94 398.85,238.11 399.10,257.47 399.35,257.97 399.60,260.15 399.85,261.46 400.10,255.80 400.35,262.04 400.60,260.24 400.85,258.31 401.10,246.27 401.35,250.32 401.60,252.40 401.85,239.48 402.10,246.97 402.35,226.35 402.60,240.96 402.85,218.43 403.10,248.51 403.35,237.75 403.60,236.97 403.85,249.98 404.10,235.17 404.35,231.79 404.60,222.24 404.85,227.86 405.10,236.20 405.35,224.05 405.60,231.64 405.85,227.11 406.10,218.02 406.35,229.97 406.60,217.48 406.85,236.33 407.10,240.61 407.35,240.36 407.60,257.47 407.85,241.03 408.10,235.78 408.35,243.16 408.60,252.09 408.85,235.47 409.10,246.51 409.35,249.21 409.60,231.80 409.85,246.43 410.10,232.06 410.35,239.95 410.60,238.82 410.85,223.86 411.10,233.97 411.35,228.79 411.60,191.61 411.85,210.94 412.10,219.53 412.35,217.31 412.60,202.33 412.85,215.40 413.10,210.53 413.35,208.52 413.60,197.64 413.85,223.78 414.10,213.92 414.35,227.39 414.60,234.10 414.85,238.65 415.10,239.38 415.35,241.28 415.60,243.95 415.85,240.22 416.10,233.41 416.35,231.94 416.60,227.43 416.85,240.62 417.10,247.91 417.35,257.58 417.60,249.26 417.85,236.47 418.10,252.20 418.35,251.51 418.60,249.19 418.85,250.82 419.10,258.74 419.35,260.74 419.60,261.98 419.85,260.01 420.10,272.53 420.35,260.96 420.60,252.84 420.85,262.41 421.10,266.60 421.35,266.15 421.60,261.90 421.85,271.63 422.10,273.20 422.35,283.84 422.60,277.56 422.85,282.32 423.10,289.05 423.35,284.92 423.60,294.19 423.85,295.23 424.10,290.00 424.35,291.00 424.60,296.47 424.85,293.55 425.10,290.41 425.35,289.20 425.60,295.86 425.85,298.51 426.10,296.09 426.35,297.60 426.60,297.24 426.85,300.81 427.10,297.00 427.35,300.59 427.60,301.36 427.85,301.24 428.10,302.17 428.35,304.18 428.60,299.43 428.85,302.38 429.10,302.10 429.35,301.32 429.60,303.02 429.85,302.91 430.10,303.78 430.35,306.42 430.60,304.22 430.85,305.64 431.10,306.12 431.35,305.33 431.60,306.62 431.85,306.23 432.10,306.16 432.35,306.93 432.60,305.85 432.85,307.12 433.10,308.02 433.35,305.47 433.60,307.55 433.85,307.08 434.10,306.05 434.35,306.14 434.60,306.69 434.85,305.82 435.10,305.86 435.35,306.33 435.60,307.14 435.85,306.40 436.10,307.26 436.35,307.07 436.60,307.10 436.85,305.70 437.10,306.47 437.35,306.81 437.60,306.88 437.85,307.94 438.10,308.14 438.35,306.94 438.60,307.06 438.85,308.10 439.10,308.06 439.35,307.90 439.60,307.69 439.85,308.27 440.10,308.24 440.35,307.92 440.60,307.57 440.85,307.91 441.10,307.23 441.35,307.40 441.60,308.11 441.85,307.43 442.10,308.12 442.35,308.28 442.60,308.17 442.85,307.31 443.10,306.94 443.35,307.60 443.60,307.86 443.85,306.97 444.10,307.45 444.35,307.94 444.60,308.11 444.85,308.33 445.10,307.66 445.35,307.90 445.60,307.31 445.85,308.03 446.10,307.87 446.35,307.56 446.60,307.96 446.85,307.35 447.10,307.56 447.35,308.37 447.60,308.02 447.85,307.08 448.10,307.84 448.35,307.92 448.60,308.33 448.85,308.19 449.10,307.54 449.35,308.37 449.60,307.34 449.85,307.91 450.10,307.50 450.35,308.29 450.60,308.37 450.85,307.62 451.10,307.74 451.35,306.93 451.60,307.54 451.85,307.18 452.10,307.31 452.35,307.68 452.60,307.82 452.85,307.46 453.10,307.91 453.35,308.29 453.60,308.19 453.85,307.63 454.10,308.06 454.35,308.37 454.60,307.53 454.85,308.37 455.10,307.56 455.35,308.08 455.60,308.01 455.85,308.37 456.10,307.06 456.35,307.62 456.60,307.53 456.85,307.60 457.10,307.83 457.35,307.52 457.60,308.24 457.85,307.41 458.10,307.23 458.35,307.68 458.60,308.10 458.85,307.65 459.10,308.27 459.35,308.19 459.60,308.26 459.85,308.35 460.10,307.82 460.35,307.98 460.60,307.78 460.85,308.37 461.10,308.10 461.35,308.07 461.60,307.89 461.85,307.94 462.10,308.06 462.35,307.99 462.60,307.50 462.85,307.91 463.10,308.27 463.35,307.99 463.60,308.09 463.85,307.88 464.10,308.38 464.35,307.74 464.60,308.38 464.85,307.62 465.10,307.60 465.35,308.05 465.60,308.10 465.85,307.74 466.10,308.16 466.35,307.26 466.60,308.38 466.85,308.38 467.10,308.02 467.35,307.51 467.60,307.32 467.85,307.89 468.10,308.38 468.35,308.38 468.60,307.96 468.85,308.33 469.10,308.00 469.35,308.09 469.60,307.76 469.85,308.38 470.10,308.05 470.35,307.50 470.60,307.61 470.85,307.73 471.10,307.83 471.35,308.17 471.60,308.04 471.85,307.95 472.10,307.87 472.35,308.38 472.60,308.32 472.85,307.84 473.10,308.27 473.35,307.92 473.60,308.37 473.85,308.30 474.10,308.39 474.35,308.17 474.60,307.84 474.85,307.94 475.10,308.34 475.35,308.39 475.60,308.13 475.85,308.33 476.10,308.39 476.35,308.10 476.60,307.94 476.85,308.39 477.10,307.75 477.35,307.81 477.60,308.27 477.85,308.35 478.10,308.39 478.35,307.99 478.60,307.51 478.85,308.24 479.10,308.25 479.35,308.22 479.60,308.39 479.85,308.09 480.10,308.39 480.35,307.97 480.60,308.39 480.85,308.23 481.10,308.15 481.35,307.99 481.60,308.39 481.85,308.39 482.10,308.01 482.35,308.18 482.60,308.06 482.85,307.99 483.10,308.39 483.35,308.25 483.60,308.39 483.85,308.36 484.10,308.39 484.35,308.35 484.60,308.26 484.85,308.34 485.10,308.16 485.35,308.39 485.60,308.39 485.85,308.39 486.10,308.29 486.35,308.35 486.60,308.39 486.85,308.05 487.10,308.35 487.35,308.10 487.60,308.35 487.85,308.29 488.10,308.40 488.35,308.23 488.60,308.40 488.85,308.31 489.10,308.40 489.35,308.37 489.60,308.31 489.85,308.33 490.10,308.40 490.35,308.17 490.60,308.29 490.85,308.40 491.10,308.40 491.35,308.28 491.60,308.40 491.85,308.34 492.10,308.33 492.35,308.40 492.60,308.30 492.85,308.31 493.10,308.29 493.35,308.40 493.60,308.40 493.85,308.39 494.10,308.40" fill="none" stroke="#8e8e8e" stroke-width="0.55" stroke-linejoin="miter"/>
<polyline points="368.60,308.40 368.85,308.40 369.10,308.29 369.35,308.35 369.60,308.19 369.85,308.25 370.10,308.26 370.35,308.20 370.60,308.03 370.85,308.31 371.10,308.25 371.35,308.14 371.60,308.39 371.85,307.93 372.10,307.90 372.35,308.38 372.60,308.25 372.85,307.67 373.10,308.33 373.35,308.06 373.60,307.44 373.85,308.17 374.10,307.55 374.35,307.66 374.60,307.63 374.85,307.95 375.10,307.58 375.35,308.21 375.60,308.03 375.85,307.02 376.10,307.32 376.35,307.37 376.60,307.19 376.85,308.36 377.10,306.38 377.35,306.97 377.60,307.41 377.85,307.81 378.10,308.00 378.35,307.46 378.60,306.92 378.85,307.64 379.10,306.92 379.35,307.24 379.60,307.24 379.85,306.55 380.10,306.92 380.35,307.40 380.60,306.42 380.85,306.06 381.10,305.32 381.35,306.57 381.60,305.95 381.85,307.23 382.10,306.10 382.35,306.34 382.60,305.26 382.85,306.65 383.10,307.37 383.35,307.08 383.60,304.37 383.85,304.47 384.10,305.25 384.35,306.18 384.60,304.92 384.85,304.95 385.10,305.42 385.35,303.61 385.60,304.52 385.85,304.53 386.10,303.50 386.35,303.25 386.60,303.37 386.85,303.14 387.10,300.38 387.35,302.99 387.60,302.34 387.85,302.36 388.10,301.75 388.35,301.50 388.60,302.02 388.85,301.25 389.10,301.27 389.35,300.59 389.60,301.01 389.85,299.27 390.10,301.14 390.35,301.72 390.60,299.95 390.85,297.01 391.10,300.77 391.35,301.33 391.60,301.86 391.85,301.74 392.10,303.45 392.35,301.97 392.60,300.93 392.85,300.91 393.10,301.86 393.35,302.11 393.60,300.59 393.85,298.06 394.10,300.08 394.35,302.22 394.60,299.95 394.85,297.77 395.10,305.47 395.35,303.13 395.60,301.81 395.85,298.89 396.10,298.36 396.35,302.06 396.60,300.54 396.85,301.37 397.10,300.04 397.35,299.89 397.60,296.09 397.85,300.98 398.10,300.87 398.35,299.99 398.60,299.69 398.85,302.81 399.10,298.69 399.35,298.33 399.60,296.14 399.85,298.25 400.10,301.57 400.35,307.73 400.60,300.41 400.85,301.65 401.10,301.74 401.35,295.65 401.60,296.79 401.85,303.45 402.10,299.49 402.35,293.69 402.60,292.49 402.85,289.33 403.10,294.40 403.35,289.45 403.60,290.96 403.85,290.60 404.10,289.72 404.35,284.16 404.60,283.48 404.85,287.97 405.10,289.54 405.35,287.28 405.60,284.12 405.85,286.79 406.10,288.68 406.35,283.37 406.60,286.98 406.85,287.09 407.10,282.23 407.35,286.42 407.60,278.01 407.85,278.88 408.10,277.04 408.35,279.73 408.60,276.93 408.85,275.52 409.10,278.43 409.35,279.96 409.60,282.22 409.85,279.20 410.10,282.18 410.35,277.46 410.60,279.30 410.85,267.15 411.10,269.46 411.35,270.94 411.60,271.93 411.85,271.27 412.10,261.01 412.35,277.76 412.60,275.78 412.85,270.71 413.10,259.89 413.35,261.69 413.60,263.08 413.85,265.78 414.10,261.42 414.35,254.19 414.60,260.53 414.85,260.79 415.10,255.41 415.35,253.87 415.60,255.35 415.85,257.27 416.10,250.44 416.35,245.56 416.60,241.30 416.85,239.61 417.10,246.90 417.35,245.88 417.60,254.15 417.85,263.80 418.10,250.54 418.35,249.04 418.60,256.31 418.85,254.15 419.10,258.55 419.35,261.80 419.60,275.19 419.85,268.92 420.10,251.01 420.35,269.99 420.60,264.83 420.85,270.01 421.10,269.32 421.35,257.84 421.60,273.47 421.85,261.73 422.10,259.32 422.35,251.77 422.60,255.74 422.85,250.30 423.10,250.81 423.35,249.84 423.60,250.74 423.85,255.91 424.10,249.16 424.35,254.62 424.60,258.71 424.85,251.12 425.10,251.86 425.35,244.36 425.60,249.36 425.85,262.02 426.10,244.78 426.35,241.34 426.60,249.89 426.85,249.75 427.10,264.34 427.35,268.32 427.60,266.94 427.85,258.15 428.10,261.49 428.35,257.52 428.60,269.83 428.85,270.65 429.10,262.15 429.35,263.06 429.60,263.69 429.85,271.36 430.10,270.99 430.35,272.97 430.60,276.05 430.85,267.28 431.10,263.50 431.35,275.29 431.60,258.28 431.85,258.46 432.10,258.98 432.35,263.19 432.60,256.64 432.85,270.32 433.10,264.40 433.35,261.27 433.60,272.47 433.85,275.71 434.10,269.68 434.35,258.37 434.60,263.32 434.85,258.72 435.10,261.69 435.35,274.34 435.60,257.04 435.85,265.09 436.10,264.70 436.35,266.27 436.60,261.13 436.85,269.69 437.10,273.04 437.35,276.93 437.60,272.46 437.85,273.52 438.10,277.30 438.35,281.42 438.60,278.55 438.85,282.40 439.10,290.15 439.35,288.39 439.60,284.03 439.85,287.84 440.10,287.42 440.35,289.04 440.60,287.27 440.85,288.40 441.10,295.70 441.35,293.98 441.60,293.62 441.85,293.97 442.10,294.62 442.35,291.69 442.60,296.58 442.85,299.75 443.10,297.48 443.35,298.92 443.60,297.48 443.85,299.93 444.10,297.82 444.35,297.02 444.60,297.54 444.85,297.22 445.10,298.16 445.35,302.21 445.60,298.48 445.85,296.65 446.10,295.97 446.35,299.41 446.60,300.05 446.85,296.86 447.10,303.03 447.35,302.71 447.60,301.72 447.85,300.18 448.10,302.32 448.35,304.25 448.60,300.73 448.85,303.31 449.10,301.78 449.35,302.46 449.60,304.85 449.85,306.42 450.10,303.41 450.35,303.48 450.60,304.59 450.85,304.26 451.10,303.27 451.35,304.46 451.60,305.70 451.85,305.77 452.10,305.61 452.35,304.18 452.60,303.99 452.85,306.82 453.10,305.37 453.35,305.21 453.60,305.08 453.85,306.02 454.10,304.98 454.35,305.92 454.60,306.57 454.85,306.26 455.10,305.57 455.35,305.28 455.60,305.67 455.85,305.91 456.10,306.28 456.35,306.77 456.60,307.37 456.85,307.25 457.10,307.05 457.35,306.49 457.60,307.99 457.85,306.55 458.10,306.68 458.35,307.45 458.60,306.43 458.85,306.52 459.10,306.93 459.35,307.57 459.60,306.51 459.85,308.17 460.10,307.45 460.35,307.73 460.60,306.51 460.85,307.71 461.10,307.27 461.35,307.98 461.60,307.97 461.85,307.32 462.10,308.36 462.35,307.85 462.60,307.77 462.85,307.43 463.10,308.36 463.35,307.37 463.60,307.82 463.85,307.78 464.10,308.37 464.35,307.64 464.60,308.02 464.85,307.82 465.10,307.83 465.35,307.65 465.60,308.04 465.85,308.38 466.10,308.04 466.35,308.22 466.60,308.38 466.85,308.30 467.10,308.38 467.35,308.18 467.60,308.26 467.85,308.38 468.10,308.29 468.35,308.33 468.60,308.38 468.85,307.72 469.10,308.11 469.35,308.38 469.60,308.38 469.85,307.50 470.10,308.07 470.35,307.87 470.60,308.16 470.85,308.02 471.10,308.38 471.35,308.06 471.60,308.21 471.85,308.39 472.10,308.09 472.35,308.16 472.60,307.80 472.85,308.23 473.10,307.89 473.35,308.14 473.60,308.39 473.85,308.14 474.10,307.98 474.35,308.00 474.60,308.23 474.85,308.13 475.10,307.73 475.35,308.23 475.60,308.05 475.85,308.19 476.10,307.93 476.35,308.07 476.60,308.39 476.85,308.25 477.10,307.68 477.35,307.99 477.60,307.60 477.85,307.79 478.10,308.39 478.35,308.29 478.60,307.96 478.85,308.11 479.10,308.12 479.35,308.29 479.60,308.24 479.85,308.29 480.10,308.24 480.35,308.39 480.60,308.08 480.85,308.39 481.10,308.39 481.35,308.06 481.60,308.02 481.85,308.05 482.10,308.25 482.35,308.23 482.60,308.30 482.85,308.32 483.10,308.18 483.35,308.20 483.60,308.24 483.85,308.34 484.10,308.28 484.35,308.38 484.60,308.26 484.85,308.39 485.10,308.10 485.35,308.17 485.60,308.31 485.85,308.04 486.10,308.39 486.35,308.27 486.60,308.19 486.85,308.28 487.10,308.30 487.35,308.14 487.60,308.40 487.85,308.29 488.10,307.92 488.35,308.40 488.60,308.06 488.85,308.34 489.10,308.40 489.35,308.26 489.60,308.40 489.85,308.40 490.10,308.40 490.35,308.40 490.60,308.25 490.85,308.37 491.10,308.40 491.35,308.23 491.60,308.40 491.85,308.32 492.10,308.29 492.35,308.19 492.60,308.39 492.85,308.40 493.10,308.40 493.35,308.38 493.60,308.36 493.85,308.40 494.10,308.40" fill="none" stroke="#0a0a0a" stroke-width="0.5" stroke-linejoin="miter"/>
</g>
<line x1="367.90" y1="182.30" x2="494.90" y2="182.30" stroke="#5a5a5a" stroke-width="0.9" />
<line x1="494.50" y1="182.30" x2="494.50" y2="308.40" stroke="#5a5a5a" stroke-width="0.9" />
<line x1="368.30" y1="182.30" x2="368.30" y2="308.80" stroke="#777" stroke-width="1.0" />
<line x1="367.90" y1="308.40" x2="494.90" y2="308.40" stroke="#3a3a3a" stroke-width="0.95" />
<text x="399.60" y="178.90" font-size="6.9" fill="#222" textLength="51.8" lengthAdjust="spacingAndGlyphs" >Multi-sample : P1</text>
<text x="429.00" y="188.00" font-size="6.6" fill="#333" textLength="8.2" lengthAdjust="spacingAndGlyphs" >P3</text>
<line x1="428.70" y1="195.70" x2="494.50" y2="195.70" stroke="#555" stroke-width="0.9" />
<line x1="428.70" y1="193.10" x2="428.70" y2="198.30" stroke="#555" stroke-width="0.9" />
<text x="466.70" y="213.20" font-size="12" fill="#111" textLength="18.5" lengthAdjust="spacingAndGlyphs" >cEV</text>
<line x1="554.90" y1="308.60" x2="557.70" y2="308.60" stroke="#222" stroke-width="0.7" />
<text transform="translate(551.60,310.35) rotate(-90)" font-size="6.3" >0</text>
<line x1="555.90" y1="299.02" x2="557.70" y2="299.02" stroke="#222" stroke-width="0.7" />
<line x1="555.90" y1="289.44" x2="557.70" y2="289.44" stroke="#222" stroke-width="0.7" />
<line x1="555.90" y1="279.86" x2="557.70" y2="279.86" stroke="#222" stroke-width="0.7" />
<line x1="555.90" y1="270.28" x2="557.70" y2="270.28" stroke="#222" stroke-width="0.7" />
<line x1="554.90" y1="260.70" x2="557.70" y2="260.70" stroke="#222" stroke-width="0.7" />
<text transform="translate(551.60,264.20) rotate(-90)" font-size="6.3" >20</text>
<line x1="555.90" y1="251.12" x2="557.70" y2="251.12" stroke="#222" stroke-width="0.7" />
<line x1="555.90" y1="241.54" x2="557.70" y2="241.54" stroke="#222" stroke-width="0.7" />
<line x1="555.90" y1="231.96" x2="557.70" y2="231.96" stroke="#222" stroke-width="0.7" />
<line x1="555.90" y1="222.38" x2="557.70" y2="222.38" stroke="#222" stroke-width="0.7" />
<line x1="554.90" y1="212.80" x2="557.70" y2="212.80" stroke="#222" stroke-width="0.7" />
<text transform="translate(551.60,216.30) rotate(-90)" font-size="6.3" >40</text>
<line x1="555.90" y1="203.22" x2="557.70" y2="203.22" stroke="#222" stroke-width="0.7" />
<line x1="555.90" y1="193.64" x2="557.70" y2="193.64" stroke="#222" stroke-width="0.7" />
<line x1="555.90" y1="184.06" x2="557.70" y2="184.06" stroke="#222" stroke-width="0.7" />
<text transform="translate(543.20,254.40) rotate(-90)" font-size="7.4" textLength="17.6" lengthAdjust="spacingAndGlyphs" >Count</text>
<line x1="558.62" y1="308.60" x2="558.62" y2="310.20" stroke="#222" stroke-width="0.6" />
<line x1="560.70" y1="308.60" x2="560.70" y2="310.20" stroke="#222" stroke-width="0.6" />
<line x1="562.50" y1="308.60" x2="562.50" y2="310.20" stroke="#222" stroke-width="0.6" />
<line x1="564.08" y1="308.60" x2="564.08" y2="310.20" stroke="#222" stroke-width="0.6" />
<line x1="565.50" y1="308.60" x2="565.50" y2="311.20" stroke="#222" stroke-width="0.6" />
<line x1="574.83" y1="308.60" x2="574.83" y2="310.20" stroke="#222" stroke-width="0.6" />
<line x1="580.29" y1="308.60" x2="580.29" y2="310.20" stroke="#222" stroke-width="0.6" />
<line x1="584.16" y1="308.60" x2="584.16" y2="310.20" stroke="#222" stroke-width="0.6" />
<line x1="587.17" y1="308.60" x2="587.17" y2="310.20" stroke="#222" stroke-width="0.6" />
<line x1="589.62" y1="308.60" x2="589.62" y2="310.20" stroke="#222" stroke-width="0.6" />
<line x1="591.70" y1="308.60" x2="591.70" y2="310.20" stroke="#222" stroke-width="0.6" />
<line x1="593.50" y1="308.60" x2="593.50" y2="310.20" stroke="#222" stroke-width="0.6" />
<line x1="595.08" y1="308.60" x2="595.08" y2="310.20" stroke="#222" stroke-width="0.6" />
<line x1="596.50" y1="308.60" x2="596.50" y2="311.20" stroke="#222" stroke-width="0.6" />
<line x1="605.83" y1="308.60" x2="605.83" y2="310.20" stroke="#222" stroke-width="0.6" />
<line x1="611.29" y1="308.60" x2="611.29" y2="310.20" stroke="#222" stroke-width="0.6" />
<line x1="615.16" y1="308.60" x2="615.16" y2="310.20" stroke="#222" stroke-width="0.6" />
<line x1="618.17" y1="308.60" x2="618.17" y2="310.20" stroke="#222" stroke-width="0.6" />
<line x1="620.62" y1="308.60" x2="620.62" y2="310.20" stroke="#222" stroke-width="0.6" />
<line x1="622.70" y1="308.60" x2="622.70" y2="310.20" stroke="#222" stroke-width="0.6" />
<line x1="624.50" y1="308.60" x2="624.50" y2="310.20" stroke="#222" stroke-width="0.6" />
<line x1="626.08" y1="308.60" x2="626.08" y2="310.20" stroke="#222" stroke-width="0.6" />
<line x1="627.50" y1="308.60" x2="627.50" y2="311.20" stroke="#222" stroke-width="0.6" />
<line x1="636.83" y1="308.60" x2="636.83" y2="310.20" stroke="#222" stroke-width="0.6" />
<line x1="642.29" y1="308.60" x2="642.29" y2="310.20" stroke="#222" stroke-width="0.6" />
<line x1="646.16" y1="308.60" x2="646.16" y2="310.20" stroke="#222" stroke-width="0.6" />
<line x1="649.17" y1="308.60" x2="649.17" y2="310.20" stroke="#222" stroke-width="0.6" />
<line x1="651.62" y1="308.60" x2="651.62" y2="310.20" stroke="#222" stroke-width="0.6" />
<line x1="653.70" y1="308.60" x2="653.70" y2="310.20" stroke="#222" stroke-width="0.6" />
<line x1="655.50" y1="308.60" x2="655.50" y2="310.20" stroke="#222" stroke-width="0.6" />
<line x1="657.08" y1="308.60" x2="657.08" y2="310.20" stroke="#222" stroke-width="0.6" />
<line x1="658.50" y1="308.60" x2="658.50" y2="311.20" stroke="#222" stroke-width="0.6" />
<line x1="667.83" y1="308.60" x2="667.83" y2="310.20" stroke="#222" stroke-width="0.6" />
<line x1="673.29" y1="308.60" x2="673.29" y2="310.20" stroke="#222" stroke-width="0.6" />
<line x1="677.16" y1="308.60" x2="677.16" y2="310.20" stroke="#222" stroke-width="0.6" />
<line x1="680.17" y1="308.60" x2="680.17" y2="310.20" stroke="#222" stroke-width="0.6" />
<line x1="682.62" y1="308.60" x2="682.62" y2="310.20" stroke="#222" stroke-width="0.6" />
<text x="562.00" y="318.70" font-size="6.9" fill="#111" >10</text>
<text x="569.30" y="316.40" font-size="4.1" fill="#111" >3</text>
<text x="593.00" y="318.70" font-size="6.9" fill="#111" >10</text>
<text x="600.30" y="316.40" font-size="4.1" fill="#111" >4</text>
<text x="624.00" y="318.70" font-size="6.9" fill="#111" >10</text>
<text x="631.30" y="316.40" font-size="4.1" fill="#111" >5</text>
<text x="655.00" y="318.70" font-size="6.9" fill="#111" >10</text>
<text x="662.30" y="316.40" font-size="4.1" fill="#111" >6</text>
<clipPath id="fc41"><rect x="557.70" y="182.60" width="125.30" height="126.00"/></clipPath>
<g clip-path="url(#fc41)">
<polyline points="558.00,306.95 558.25,307.72 558.50,307.10 558.75,307.18 559.00,307.59 559.25,307.35 559.50,307.25 559.75,307.46 560.00,307.04 560.25,307.31 560.50,306.44 560.75,307.17 561.00,307.27 561.25,306.98 561.50,307.07 561.75,306.75 562.00,305.56 562.25,306.73 562.50,306.87 562.75,305.36 563.00,305.61 563.25,304.33 563.50,305.30 563.75,304.94 564.00,305.13 564.25,303.60 564.50,304.42 564.75,304.40 565.00,302.83 565.25,304.52 565.50,305.08 565.75,305.73 566.00,302.92 566.25,304.36 566.50,303.74 566.75,304.48 567.00,305.95 567.25,302.29 567.50,303.13 567.75,302.42 568.00,301.86 568.25,306.37 568.50,302.10 568.75,301.60 569.00,304.67 569.25,301.37 569.50,304.10 569.75,300.85 570.00,299.69 570.25,299.32 570.50,299.63 570.75,297.32 571.00,296.48 571.25,302.58 571.50,297.52 571.75,296.12 572.00,301.21 572.25,299.42 572.50,296.29 572.75,295.25 573.00,295.02 573.25,294.02 573.50,293.82 573.75,294.12 574.00,293.50 574.25,292.89 574.50,286.15 574.75,288.51 575.00,286.31 575.25,294.55 575.50,282.04 575.75,285.49 576.00,281.72 576.25,281.88 576.50,285.43 576.75,278.50 577.00,277.57 577.25,270.37 577.50,274.13 577.75,272.01 578.00,272.85 578.25,271.98 578.50,279.97 578.75,280.51 579.00,274.23 579.25,280.31 579.50,278.97 579.75,277.67 580.00,274.01 580.25,275.14 580.50,272.48 580.75,264.56 581.00,271.03 581.25,273.58 581.50,268.51 581.75,266.35 582.00,266.73 582.25,266.62 582.50,270.47 582.75,262.72 583.00,257.34 583.25,261.99 583.50,267.45 583.75,267.47 584.00,268.93 584.25,260.49 584.50,263.22 584.75,261.45 585.00,243.66 585.25,259.06 585.50,259.05 585.75,260.90 586.00,265.02 586.25,269.12 586.50,265.08 586.75,263.57 587.00,259.97 587.25,255.26 587.50,250.57 587.75,237.03 588.00,251.11 588.25,253.10 588.50,255.27 588.75,263.09 589.00,262.13 589.25,254.88 589.50,245.58 589.75,251.47 590.00,249.95 590.25,249.05 590.50,245.75 590.75,256.30 591.00,258.18 591.25,230.18 591.50,238.18 591.75,242.61 592.00,239.77 592.25,206.45 592.50,210.89 592.75,221.44 593.00,205.83 593.25,220.50 593.50,213.54 593.75,229.29 594.00,227.80 594.25,228.57 594.50,228.18 594.75,222.99 595.00,218.05 595.25,217.36 595.50,218.21 595.75,221.25 596.00,240.02 596.25,236.90 596.50,216.85 596.75,224.51 597.00,240.80 597.25,227.49 597.50,244.41 597.75,244.69 598.00,244.10 598.25,225.68 598.50,228.61 598.75,226.73 599.00,234.89 599.25,221.14 599.50,234.48 599.75,248.01 600.00,233.19 600.25,223.91 600.50,224.06 600.75,229.54 601.00,234.34 601.25,249.28 601.50,253.11 601.75,254.68 602.00,245.20 602.25,253.50 602.50,257.44 602.75,264.00 603.00,270.20 603.25,273.29 603.50,268.54 603.75,269.85 604.00,270.44 604.25,272.52 604.50,280.20 604.75,281.48 605.00,287.84 605.25,292.21 605.50,295.71 605.75,293.84 606.00,295.10 606.25,295.54 606.50,298.78 606.75,299.47 607.00,302.28 607.25,303.56 607.50,305.87 607.75,302.23 608.00,305.24 608.25,303.36 608.50,304.32 608.75,303.55 609.00,304.35 609.25,304.14 609.50,304.57 609.75,303.15 610.00,303.06 610.25,303.64 610.50,306.52 610.75,304.69 611.00,302.94 611.25,304.10 611.50,303.38 611.75,302.61 612.00,304.10 612.25,304.62 612.50,301.99 612.75,302.01 613.00,302.63 613.25,304.26 613.50,304.83 613.75,303.89 614.00,301.45 614.25,303.82 614.50,300.92 614.75,301.85 615.00,301.51 615.25,303.29 615.50,303.27 615.75,303.27 616.00,304.49 616.25,302.92 616.50,302.47 616.75,303.03 617.00,305.13 617.25,302.09 617.50,303.48 617.75,303.34 618.00,302.99 618.25,301.48 618.50,302.35 618.75,302.43 619.00,301.79 619.25,301.64 619.50,303.35 619.75,302.17 620.00,303.98 620.25,301.04 620.50,301.19 620.75,301.79 621.00,301.72 621.25,300.67 621.50,301.59 621.75,300.78 622.00,302.96 622.25,301.71 622.50,302.26 622.75,300.10 623.00,302.56 623.25,301.38 623.50,300.21 623.75,304.50 624.00,300.77 624.25,304.29 624.50,302.03 624.75,302.80 625.00,304.15 625.25,302.40 625.50,302.89 625.75,304.16 626.00,302.32 626.25,302.30 626.50,300.92 626.75,303.01 627.00,304.58 627.25,303.38 627.50,302.47 627.75,303.51 628.00,304.29 628.25,304.65 628.50,304.08 628.75,301.04 629.00,306.01 629.25,302.32 629.50,302.79 629.75,300.25 630.00,301.38 630.25,302.45 630.50,301.55 630.75,303.47 631.00,303.42 631.25,303.52 631.50,304.93 631.75,303.24 632.00,303.40 632.25,304.45 632.50,303.91 632.75,303.58 633.00,304.10 633.25,303.03 633.50,304.36 633.75,302.93 634.00,303.62 634.25,303.24 634.50,304.92 634.75,303.40 635.00,303.67 635.25,302.93 635.50,303.56 635.75,302.63 636.00,303.23 636.25,303.00 636.50,303.34 636.75,303.29 637.00,304.71 637.25,304.71 637.50,304.46 637.75,303.71 638.00,303.93 638.25,304.37 638.50,303.64 638.75,303.88 639.00,304.77 639.25,305.02 639.50,304.96 639.75,302.87 640.00,305.33 640.25,305.19 640.50,304.69 640.75,305.56 641.00,306.40 641.25,305.35 641.50,305.44 641.75,305.97 642.00,306.95 642.25,306.26 642.50,306.21 642.75,305.65 643.00,307.85 643.25,306.46 643.50,307.40 643.75,307.43 644.00,307.79 644.25,306.75 644.50,306.63 644.75,307.68 645.00,307.09 645.25,307.16 645.50,307.59 645.75,307.36 646.00,306.40 646.25,307.61 646.50,307.35 646.75,307.52 647.00,307.56 647.25,307.25 647.50,307.51 647.75,307.49 648.00,307.37 648.25,307.49 648.50,307.88 648.75,307.92 649.00,307.82 649.25,307.69 649.50,307.38 649.75,308.12 650.00,307.86 650.25,308.07 650.50,307.19 650.75,307.70 651.00,307.61 651.25,307.84 651.50,307.61 651.75,307.97 652.00,307.61 652.25,307.95 652.50,307.61 652.75,307.34 653.00,308.25 653.25,307.85 653.50,307.86 653.75,307.53 654.00,308.27 654.25,307.57 654.50,308.01 654.75,307.61 655.00,307.54 655.25,308.00 655.50,308.36 655.75,307.37 656.00,308.51 656.25,308.57 656.50,307.99 656.75,308.55 657.00,308.02 657.25,308.11 657.50,308.11 657.75,307.81 658.00,308.25 658.25,307.93 658.50,307.85 658.75,307.94 659.00,308.57 659.25,308.29 659.50,307.83 659.75,308.33 660.00,308.24 660.25,308.14 660.50,308.43 660.75,308.51 661.00,308.58 661.25,308.07 661.50,308.45 661.75,308.29 662.00,308.58 662.25,308.53 662.50,308.33 662.75,307.94 663.00,307.81 663.25,308.06 663.50,307.85 663.75,308.43 664.00,307.75 664.25,308.38 664.50,308.41 664.75,307.96 665.00,308.01 665.25,308.53 665.50,308.28 665.75,308.51 666.00,308.35 666.25,308.35 666.50,308.11 666.75,308.51 667.00,308.49 667.25,308.38 667.50,308.38 667.75,308.35 668.00,308.27 668.25,308.02 668.50,308.58 668.75,308.58 669.00,308.14 669.25,308.08 669.50,308.59 669.75,308.45 670.00,308.21 670.25,308.59 670.50,307.99 670.75,308.47 671.00,308.02 671.25,308.32 671.50,308.28 671.75,308.58 672.00,308.10 672.25,308.12 672.50,308.14 672.75,308.48 673.00,308.02 673.25,308.07 673.50,308.54 673.75,308.43 674.00,308.30 674.25,308.56 674.50,308.25 674.75,308.33 675.00,308.59 675.25,308.41 675.50,308.39 675.75,308.40 676.00,308.45 676.25,308.43 676.50,308.31 676.75,308.51 677.00,308.56 677.25,308.59 677.50,308.59 677.75,308.44 678.00,308.35 678.25,308.49 678.50,308.48 678.75,308.49 679.00,308.52 679.25,308.25 679.50,308.42 679.75,308.60 680.00,308.37 680.25,308.60 680.50,308.50 680.75,308.36 681.00,308.57 681.25,308.56 681.50,308.51 681.75,308.60 682.00,308.60 682.25,308.54 682.50,308.58" fill="none" stroke="#8e8e8e" stroke-width="0.55" stroke-linejoin="miter"/>
<polyline points="558.00,308.16 558.25,308.57 558.50,308.02 558.75,308.19 559.00,307.30 559.25,307.64 559.50,307.14 559.75,308.13 560.00,308.15 560.25,307.80 560.50,307.35 560.75,306.98 561.00,307.11 561.25,307.65 561.50,308.12 561.75,307.11 562.00,306.36 562.25,305.47 562.50,307.50 562.75,306.11 563.00,305.94 563.25,306.44 563.50,307.09 563.75,306.29 564.00,306.96 564.25,307.55 564.50,307.39 564.75,306.81 565.00,305.67 565.25,306.61 565.50,306.68 565.75,306.05 566.00,305.24 566.25,305.61 566.50,305.77 566.75,304.60 567.00,305.67 567.25,305.75 567.50,305.92 567.75,305.30 568.00,304.87 568.25,305.10 568.50,306.06 568.75,306.11 569.00,306.91 569.25,305.76 569.50,305.75 569.75,305.61 570.00,305.01 570.25,305.42 570.50,304.97 570.75,304.91 571.00,304.72 571.25,305.31 571.50,305.87 571.75,305.17 572.00,304.83 572.25,304.83 572.50,304.26 572.75,305.57 573.00,304.82 573.25,304.49 573.50,305.12 573.75,304.78 574.00,303.73 574.25,305.17 574.50,303.22 574.75,304.43 575.00,304.40 575.25,305.79 575.50,306.66 575.75,304.16 576.00,304.51 576.25,304.08 576.50,305.46 576.75,303.54 577.00,302.55 577.25,303.68 577.50,304.21 577.75,305.13 578.00,303.81 578.25,305.45 578.50,302.19 578.75,301.69 579.00,303.09 579.25,302.06 579.50,305.05 579.75,302.65 580.00,301.57 580.25,302.84 580.50,303.20 580.75,302.04 581.00,303.69 581.25,303.97 581.50,303.16 581.75,301.82 582.00,303.65 582.25,301.36 582.50,304.56 582.75,303.04 583.00,302.86 583.25,301.75 583.50,303.08 583.75,302.91 584.00,302.24 584.25,297.82 584.50,302.49 584.75,301.63 585.00,300.86 585.25,303.82 585.50,304.40 585.75,302.04 586.00,301.95 586.25,302.38 586.50,301.27 586.75,297.67 587.00,299.44 587.25,298.05 587.50,296.77 587.75,301.51 588.00,301.04 588.25,300.66 588.50,298.96 588.75,297.84 589.00,297.75 589.25,296.13 589.50,298.14 589.75,290.74 590.00,295.57 590.25,298.99 590.50,292.64 590.75,289.88 591.00,290.28 591.25,295.06 591.50,296.56 591.75,293.27 592.00,292.30 592.25,291.32 592.50,291.72 592.75,282.98 593.00,290.09 593.25,282.10 593.50,286.84 593.75,288.21 594.00,295.16 594.25,286.16 594.50,277.42 594.75,286.18 595.00,291.14 595.25,287.18 595.50,289.04 595.75,288.24 596.00,283.55 596.25,286.38 596.50,281.32 596.75,286.54 597.00,281.96 597.25,282.24 597.50,281.09 597.75,279.19 598.00,274.59 598.25,268.09 598.50,270.44 598.75,265.12 599.00,263.71 599.25,262.50 599.50,268.87 599.75,271.13 600.00,272.19 600.25,263.75 600.50,267.39 600.75,280.51 601.00,273.32 601.25,274.91 601.50,275.70 601.75,270.22 602.00,270.69 602.25,257.98 602.50,271.58 602.75,265.79 603.00,276.03 603.25,266.96 603.50,262.58 603.75,262.99 604.00,271.66 604.25,264.43 604.50,268.99 604.75,264.92 605.00,251.87 605.25,247.96 605.50,258.61 605.75,251.21 606.00,250.06 606.25,243.79 606.50,249.02 606.75,239.78 607.00,239.29 607.25,240.69 607.50,234.82 607.75,237.95 608.00,235.45 608.25,243.98 608.50,254.53 608.75,254.05 609.00,249.59 609.25,254.60 609.50,260.19 609.75,251.43 610.00,244.80 610.25,251.45 610.50,243.01 610.75,234.58 611.00,245.58 611.25,244.58 611.50,252.03 611.75,251.51 612.00,248.85 612.25,235.13 612.50,247.08 612.75,244.00 613.00,240.60 613.25,237.10 613.50,227.54 613.75,247.08 614.00,244.48 614.25,249.62 614.50,254.22 614.75,266.07 615.00,254.69 615.25,251.13 615.50,238.34 615.75,245.78 616.00,252.95 616.25,253.88 616.50,241.24 616.75,221.69 617.00,252.10 617.25,254.24 617.50,244.61 617.75,233.98 618.00,234.20 618.25,231.53 618.50,225.48 618.75,238.65 619.00,240.20 619.25,232.00 619.50,222.20 619.75,216.96 620.00,217.08 620.25,205.77 620.50,228.11 620.75,227.33 621.00,230.07 621.25,230.46 621.50,224.14 621.75,227.65 622.00,226.37 622.25,230.53 622.50,238.25 622.75,244.58 623.00,236.69 623.25,229.99 623.50,235.72 623.75,223.82 624.00,232.63 624.25,241.98 624.50,230.86 624.75,233.20 625.00,237.07 625.25,231.87 625.50,245.45 625.75,240.96 626.00,249.13 626.25,258.84 626.50,249.51 626.75,252.05 627.00,250.55 627.25,254.88 627.50,253.89 627.75,249.85 628.00,271.72 628.25,250.69 628.50,257.31 628.75,264.99 629.00,271.66 629.25,268.57 629.50,275.12 629.75,274.94 630.00,273.77 630.25,272.19 630.50,270.47 630.75,275.96 631.00,270.66 631.25,281.94 631.50,278.88 631.75,275.56 632.00,276.38 632.25,274.70 632.50,271.79 632.75,273.25 633.00,275.53 633.25,278.52 633.50,278.36 633.75,281.68 634.00,288.37 634.25,287.00 634.50,284.60 634.75,283.40 635.00,285.83 635.25,287.06 635.50,286.56 635.75,283.02 636.00,286.54 636.25,288.22 636.50,287.81 636.75,290.90 637.00,288.78 637.25,294.18 637.50,289.83 637.75,292.87 638.00,292.86 638.25,293.01 638.50,293.14 638.75,292.61 639.00,292.31 639.25,292.58 639.50,291.71 639.75,290.91 640.00,293.01 640.25,293.53 640.50,295.11 640.75,294.92 641.00,293.38 641.25,296.60 641.50,296.26 641.75,300.00 642.00,295.07 642.25,295.00 642.50,299.10 642.75,298.81 643.00,297.81 643.25,300.43 643.50,298.23 643.75,300.55 644.00,301.91 644.25,300.72 644.50,300.71 644.75,300.33 645.00,303.36 645.25,301.78 645.50,303.26 645.75,303.03 646.00,304.14 646.25,302.45 646.50,304.00 646.75,303.86 647.00,305.19 647.25,305.66 647.50,302.52 647.75,304.08 648.00,305.44 648.25,303.80 648.50,303.55 648.75,304.66 649.00,305.32 649.25,306.20 649.50,305.48 649.75,305.80 650.00,304.86 650.25,305.51 650.50,306.39 650.75,307.75 651.00,307.13 651.25,307.73 651.50,307.08 651.75,306.18 652.00,307.12 652.25,306.52 652.50,306.01 652.75,306.85 653.00,307.19 653.25,307.27 653.50,307.75 653.75,307.04 654.00,307.77 654.25,307.73 654.50,307.55 654.75,307.93 655.00,308.08 655.25,308.44 655.50,307.73 655.75,307.64 656.00,307.18 656.25,307.41 656.50,308.24 656.75,307.94 657.00,307.73 657.25,307.96 657.50,308.05 657.75,308.15 658.00,307.89 658.25,308.06 658.50,308.35 658.75,308.57 659.00,308.35 659.25,307.95 659.50,308.30 659.75,307.99 660.00,308.51 660.25,308.19 660.50,308.29 660.75,308.33 661.00,308.20 661.25,308.58 661.50,308.30 661.75,308.41 662.00,307.99 662.25,308.49 662.50,308.57 662.75,308.21 663.00,308.54 663.25,307.89 663.50,308.27 663.75,308.10 664.00,308.59 664.25,308.48 664.50,308.37 664.75,308.48 665.00,308.38 665.25,308.39 665.50,308.59 665.75,308.58 666.00,308.50 666.25,308.28 666.50,308.35 666.75,308.59 667.00,308.34 667.25,308.28 667.50,308.13 667.75,308.24 668.00,308.12 668.25,308.17 668.50,308.53 668.75,308.52 669.00,308.44 669.25,308.47 669.50,308.44 669.75,308.50 670.00,308.32 670.25,308.59 670.50,308.50 670.75,308.20 671.00,308.58 671.25,308.50 671.50,308.12 671.75,308.43 672.00,308.51 672.25,308.30 672.50,308.38 672.75,308.22 673.00,308.30 673.25,308.37 673.50,308.46 673.75,308.52 674.00,308.43 674.25,308.51 674.50,308.41 674.75,308.45 675.00,308.60 675.25,308.56 675.50,308.47 675.75,308.56 676.00,308.60 676.25,308.41 676.50,308.41 676.75,308.49 677.00,308.46 677.25,308.60 677.50,308.24 677.75,308.45 678.00,308.41 678.25,308.54 678.50,308.59 678.75,308.60 679.00,308.56 679.25,308.45 679.50,308.57 679.75,308.60 680.00,308.55 680.25,308.56 680.50,308.58 680.75,308.46 681.00,308.55 681.25,308.60 681.50,308.60 681.75,308.55 682.00,308.60 682.25,308.60 682.50,308.58" fill="none" stroke="#0a0a0a" stroke-width="0.5" stroke-linejoin="miter"/>
</g>
<line x1="557.30" y1="182.60" x2="683.40" y2="182.60" stroke="#5a5a5a" stroke-width="0.9" />
<line x1="683.00" y1="182.60" x2="683.00" y2="308.60" stroke="#5a5a5a" stroke-width="0.9" />
<line x1="557.70" y1="182.60" x2="557.70" y2="309.00" stroke="#777" stroke-width="1.0" />
<line x1="557.30" y1="308.60" x2="683.40" y2="308.60" stroke="#3a3a3a" stroke-width="0.95" />
<text x="589.10" y="178.80" font-size="6.9" fill="#222" textLength="51.8" lengthAdjust="spacingAndGlyphs" >Multi-sample : P1</text>
<text x="605.60" y="188.30" font-size="6.6" fill="#333" textLength="8.2" lengthAdjust="spacingAndGlyphs" >P3</text>
<line x1="605.70" y1="195.60" x2="683.00" y2="195.60" stroke="#555" stroke-width="0.9" />
<line x1="605.70" y1="193.00" x2="605.70" y2="198.20" stroke="#555" stroke-width="0.9" />
<text x="636.30" y="212.20" font-size="11.7" fill="#111" textLength="43.7" lengthAdjust="spacingAndGlyphs" >PDGF-EV</text>
<line x1="365.80" y1="464.20" x2="368.60" y2="464.20" stroke="#222" stroke-width="0.7" />
<text transform="translate(362.50,465.95) rotate(-90)" font-size="6.3" >0</text>
<line x1="366.80" y1="455.88" x2="368.60" y2="455.88" stroke="#222" stroke-width="0.7" />
<line x1="366.80" y1="447.56" x2="368.60" y2="447.56" stroke="#222" stroke-width="0.7" />
<line x1="366.80" y1="439.24" x2="368.60" y2="439.24" stroke="#222" stroke-width="0.7" />
<line x1="366.80" y1="430.92" x2="368.60" y2="430.92" stroke="#222" stroke-width="0.7" />
<line x1="365.80" y1="422.60" x2="368.60" y2="422.60" stroke="#222" stroke-width="0.7" />
<text transform="translate(362.50,426.10) rotate(-90)" font-size="6.3" >20</text>
<line x1="366.80" y1="414.28" x2="368.60" y2="414.28" stroke="#222" stroke-width="0.7" />
<line x1="366.80" y1="405.96" x2="368.60" y2="405.96" stroke="#222" stroke-width="0.7" />
<line x1="366.80" y1="397.64" x2="368.60" y2="397.64" stroke="#222" stroke-width="0.7" />
<line x1="366.80" y1="389.32" x2="368.60" y2="389.32" stroke="#222" stroke-width="0.7" />
<line x1="365.80" y1="381.00" x2="368.60" y2="381.00" stroke="#222" stroke-width="0.7" />
<text transform="translate(362.50,384.50) rotate(-90)" font-size="6.3" >40</text>
<line x1="366.80" y1="372.68" x2="368.60" y2="372.68" stroke="#222" stroke-width="0.7" />
<line x1="366.80" y1="364.36" x2="368.60" y2="364.36" stroke="#222" stroke-width="0.7" />
<line x1="366.80" y1="356.04" x2="368.60" y2="356.04" stroke="#222" stroke-width="0.7" />
<line x1="366.80" y1="347.72" x2="368.60" y2="347.72" stroke="#222" stroke-width="0.7" />
<line x1="365.80" y1="339.40" x2="368.60" y2="339.40" stroke="#222" stroke-width="0.7" />
<text transform="translate(362.50,342.90) rotate(-90)" font-size="6.3" >60</text>
<text transform="translate(354.10,410.10) rotate(-90)" font-size="7.4" textLength="17.6" lengthAdjust="spacingAndGlyphs" >Count</text>
<line x1="370.75" y1="464.20" x2="370.75" y2="465.80" stroke="#222" stroke-width="0.6" />
<line x1="376.28" y1="464.20" x2="376.28" y2="465.80" stroke="#222" stroke-width="0.6" />
<line x1="380.20" y1="464.20" x2="380.20" y2="465.80" stroke="#222" stroke-width="0.6" />
<line x1="383.25" y1="464.20" x2="383.25" y2="465.80" stroke="#222" stroke-width="0.6" />
<line x1="385.73" y1="464.20" x2="385.73" y2="465.80" stroke="#222" stroke-width="0.6" />
<line x1="387.84" y1="464.20" x2="387.84" y2="465.80" stroke="#222" stroke-width="0.6" />
<line x1="389.66" y1="464.20" x2="389.66" y2="465.80" stroke="#222" stroke-width="0.6" />
<line x1="391.26" y1="464.20" x2="391.26" y2="465.80" stroke="#222" stroke-width="0.6" />
<line x1="392.70" y1="464.20" x2="392.70" y2="466.80" stroke="#222" stroke-width="0.6" />
<line x1="402.15" y1="464.20" x2="402.15" y2="465.80" stroke="#222" stroke-width="0.6" />
<line x1="407.68" y1="464.20" x2="407.68" y2="465.80" stroke="#222" stroke-width="0.6" />
<line x1="411.60" y1="464.20" x2="411.60" y2="465.80" stroke="#222" stroke-width="0.6" />
<line x1="414.65" y1="464.20" x2="414.65" y2="465.80" stroke="#222" stroke-width="0.6" />
<line x1="417.13" y1="464.20" x2="417.13" y2="465.80" stroke="#222" stroke-width="0.6" />
<line x1="419.24" y1="464.20" x2="419.24" y2="465.80" stroke="#222" stroke-width="0.6" />
<line x1="421.06" y1="464.20" x2="421.06" y2="465.80" stroke="#222" stroke-width="0.6" />
<line x1="422.66" y1="464.20" x2="422.66" y2="465.80" stroke="#222" stroke-width="0.6" />
<line x1="424.10" y1="464.20" x2="424.10" y2="466.80" stroke="#222" stroke-width="0.6" />
<line x1="433.55" y1="464.20" x2="433.55" y2="465.80" stroke="#222" stroke-width="0.6" />
<line x1="439.08" y1="464.20" x2="439.08" y2="465.80" stroke="#222" stroke-width="0.6" />
<line x1="443.00" y1="464.20" x2="443.00" y2="465.80" stroke="#222" stroke-width="0.6" />
<line x1="446.05" y1="464.20" x2="446.05" y2="465.80" stroke="#222" stroke-width="0.6" />
<line x1="448.53" y1="464.20" x2="448.53" y2="465.80" stroke="#222" stroke-width="0.6" />
<line x1="450.64" y1="464.20" x2="450.64" y2="465.80" stroke="#222" stroke-width="0.6" />
<line x1="452.46" y1="464.20" x2="452.46" y2="465.80" stroke="#222" stroke-width="0.6" />
<line x1="454.06" y1="464.20" x2="454.06" y2="465.80" stroke="#222" stroke-width="0.6" />
<line x1="455.50" y1="464.20" x2="455.50" y2="466.80" stroke="#222" stroke-width="0.6" />
<line x1="464.95" y1="464.20" x2="464.95" y2="465.80" stroke="#222" stroke-width="0.6" />
<line x1="470.48" y1="464.20" x2="470.48" y2="465.80" stroke="#222" stroke-width="0.6" />
<line x1="474.40" y1="464.20" x2="474.40" y2="465.80" stroke="#222" stroke-width="0.6" />
<line x1="477.45" y1="464.20" x2="477.45" y2="465.80" stroke="#222" stroke-width="0.6" />
<line x1="479.93" y1="464.20" x2="479.93" y2="465.80" stroke="#222" stroke-width="0.6" />
<line x1="482.04" y1="464.20" x2="482.04" y2="465.80" stroke="#222" stroke-width="0.6" />
<line x1="483.86" y1="464.20" x2="483.86" y2="465.80" stroke="#222" stroke-width="0.6" />
<line x1="485.46" y1="464.20" x2="485.46" y2="465.80" stroke="#222" stroke-width="0.6" />
<line x1="486.90" y1="464.20" x2="486.90" y2="466.80" stroke="#222" stroke-width="0.6" />
<text x="389.20" y="474.50" font-size="6.9" fill="#111" >10</text>
<text x="396.50" y="472.20" font-size="4.1" fill="#111" >4</text>
<text x="420.60" y="474.50" font-size="6.9" fill="#111" >10</text>
<text x="427.90" y="472.20" font-size="4.1" fill="#111" >5</text>
<text x="452.00" y="474.50" font-size="6.9" fill="#111" >10</text>
<text x="459.30" y="472.20" font-size="4.1" fill="#111" >6</text>
<text x="483.40" y="474.50" font-size="6.9" fill="#111" >10</text>
<text x="490.70" y="472.20" font-size="4.1" fill="#111" >7</text>
<clipPath id="fc51"><rect x="368.60" y="338.40" width="125.70" height="125.80"/></clipPath>
<g clip-path="url(#fc51)">
<polyline points="368.90,426.80 369.15,432.06 369.40,427.49 369.65,425.42 369.90,422.67 370.15,426.60 370.40,425.72 370.65,435.66 370.90,435.14 371.15,440.95 371.40,434.79 371.65,431.21 371.90,435.29 372.15,430.43 372.40,429.96 372.65,441.84 372.90,444.47 373.15,437.07 373.40,443.67 373.65,432.05 373.90,444.28 374.15,442.93 374.40,440.55 374.65,428.52 374.90,441.65 375.15,434.99 375.40,435.28 375.65,440.51 375.90,438.54 376.15,439.10 376.40,429.35 376.65,429.63 376.90,420.84 377.15,399.59 377.40,416.16 377.65,414.07 377.90,404.44 378.15,410.90 378.40,409.02 378.65,413.04 378.90,415.24 379.15,399.27 379.40,405.57 379.65,413.01 379.90,404.83 380.15,411.46 380.40,400.91 380.65,400.23 380.90,407.44 381.15,397.61 381.40,402.19 381.65,396.44 381.90,399.09 382.15,405.69 382.40,385.79 382.65,400.50 382.90,399.86 383.15,413.06 383.40,398.49 383.65,396.30 383.90,402.59 384.15,411.13 384.40,398.60 384.65,410.83 384.90,403.32 385.15,388.92 385.40,380.78 385.65,383.29 385.90,393.44 386.15,393.32 386.40,381.69 386.65,385.96 386.90,397.70 387.15,388.46 387.40,401.44 387.65,388.46 387.90,376.31 388.15,373.56 388.40,377.17 388.65,380.46 388.90,372.21 389.15,365.71 389.40,365.59 389.65,377.05 389.90,361.53 390.15,373.54 390.40,379.66 390.65,359.39 390.90,393.26 391.15,379.58 391.40,391.73 391.65,386.95 391.90,380.06 392.15,368.59 392.40,369.60 392.65,382.56 392.90,390.42 393.15,386.44 393.40,383.37 393.65,348.24 393.90,379.44 394.15,367.60 394.40,378.72 394.65,368.71 394.90,384.76 395.15,378.67 395.40,413.56 395.65,389.89 395.90,398.36 396.15,393.86 396.40,386.95 396.65,376.68 396.90,390.67 397.15,383.12 397.40,378.90 397.65,382.25 397.90,403.34 398.15,400.18 398.40,399.76 398.65,405.55 398.90,391.65 399.15,413.28 399.40,413.09 399.65,414.35 399.90,408.78 400.15,418.75 400.40,403.31 400.65,408.33 400.90,402.49 401.15,407.46 401.40,416.25 401.65,424.98 401.90,419.04 402.15,425.60 402.40,422.23 402.65,414.46 402.90,425.81 403.15,425.42 403.40,426.23 403.65,429.94 403.90,423.29 404.15,421.54 404.40,428.05 404.65,425.62 404.90,430.36 405.15,427.88 405.40,430.85 405.65,437.12 405.90,440.55 406.15,434.52 406.40,439.14 406.65,436.10 406.90,441.86 407.15,447.18 407.40,447.55 407.65,441.91 407.90,443.09 408.15,441.76 408.40,443.53 408.65,445.14 408.90,437.80 409.15,449.23 409.40,443.54 409.65,443.25 409.90,444.75 410.15,446.68 410.40,447.82 410.65,445.62 410.90,453.14 411.15,450.84 411.40,455.98 411.65,451.74 411.90,454.17 412.15,451.43 412.40,450.22 412.65,453.07 412.90,454.24 413.15,453.49 413.40,455.05 413.65,454.19 413.90,452.92 414.15,457.50 414.40,455.02 414.65,455.64 414.90,456.05 415.15,456.40 415.40,456.98 415.65,455.39 415.90,456.22 416.15,457.07 416.40,458.17 416.65,456.52 416.90,458.14 417.15,462.01 417.40,458.60 417.65,458.66 417.90,459.52 418.15,459.55 418.40,460.36 418.65,460.03 418.90,461.29 419.15,462.73 419.40,459.69 419.65,462.30 419.90,461.86 420.15,461.77 420.40,461.37 420.65,461.88 420.90,462.00 421.15,461.55 421.40,462.06 421.65,461.87 421.90,460.84 422.15,462.07 422.40,461.60 422.65,462.17 422.90,461.34 423.15,460.74 423.40,462.37 423.65,462.10 423.90,462.13 424.15,462.34 424.40,462.51 424.65,462.54 424.90,463.41 425.15,462.59 425.40,462.66 425.65,462.62 425.90,462.46 426.15,463.07 426.40,463.73 426.65,463.68 426.90,463.44 427.15,463.12 427.40,463.75 427.65,463.07 427.90,463.59 428.15,463.35 428.40,463.27 428.65,462.67 428.90,462.79 429.15,462.96 429.40,463.19 429.65,463.04 429.90,463.14 430.15,463.67 430.40,463.74 430.65,462.59 430.90,463.44 431.15,463.25 431.40,462.95 431.65,463.09 431.90,463.10 432.15,463.72 432.40,462.88 432.65,462.72 432.90,462.95 433.15,462.96 433.40,463.35 433.65,463.57 433.90,463.88 434.15,463.85 434.40,463.79 434.65,463.12 434.90,463.78 435.15,463.80 435.40,463.90 435.65,463.62 435.90,463.71 436.15,464.01 436.40,463.52 436.65,463.00 436.90,463.55 437.15,463.75 437.40,463.62 437.65,463.59 437.90,463.12 438.15,463.44 438.40,463.26 438.65,463.86 438.90,463.73 439.15,463.46 439.40,463.72 439.65,463.11 439.90,463.36 440.15,463.58 440.40,463.67 440.65,463.62 440.90,463.66 441.15,463.66 441.40,463.37 441.65,463.84 441.90,463.46 442.15,463.69 442.40,463.99 442.65,463.29 442.90,464.07 443.15,464.18 443.40,463.77 443.65,464.11 443.90,463.59 444.15,463.78 444.40,463.52 444.65,463.85 444.90,463.45 445.15,464.15 445.40,463.58 445.65,463.90 445.90,463.51 446.15,463.33 446.40,464.03 446.65,463.75 446.90,463.61 447.15,463.39 447.40,463.68 447.65,463.81 447.90,463.40 448.15,464.04 448.40,463.82 448.65,464.13 448.90,463.83 449.15,463.65 449.40,463.79 449.65,463.31 449.90,463.55 450.15,463.60 450.40,463.56 450.65,463.60 450.90,464.00 451.15,463.81 451.40,463.91 451.65,463.98 451.90,463.82 452.15,463.82 452.40,463.95 452.65,463.87 452.90,463.75 453.15,464.16 453.40,463.78 453.65,463.24 453.90,463.75 454.15,463.59 454.40,463.98 454.65,463.67 454.90,463.72 455.15,463.95 455.40,463.94 455.65,464.18 455.90,463.70 456.15,464.13 456.40,464.18 456.65,464.18 456.90,463.98 457.15,463.79 457.40,463.72 457.65,463.99 457.90,463.82 458.15,463.86 458.40,463.78 458.65,464.18 458.90,464.03 459.15,464.04 459.40,463.66 459.65,463.66 459.90,464.01 460.15,463.92 460.40,463.89 460.65,463.91 460.90,464.18 461.15,463.61 461.40,463.83 461.65,463.94 461.90,463.56 462.15,463.77 462.40,463.65 462.65,463.97 462.90,463.94 463.15,464.16 463.40,464.01 463.65,463.77 463.90,464.09 464.15,463.82 464.40,463.92 464.65,464.00 464.90,464.17 465.15,464.02 465.40,463.86 465.65,464.04 465.90,463.85 466.15,464.11 466.40,463.92 466.65,464.19 466.90,463.63 467.15,464.11 467.40,464.19 467.65,464.19 467.90,463.98 468.15,464.19 468.40,463.88 468.65,464.18 468.90,463.90 469.15,463.78 469.40,464.19 469.65,464.17 469.90,463.73 470.15,464.17 470.40,464.01 470.65,464.00 470.90,464.19 471.15,464.19 471.40,463.80 471.65,464.05 471.90,463.89 472.15,464.16 472.40,463.92 472.65,463.98 472.90,464.18 473.15,463.75 473.40,463.95 473.65,464.11 473.90,464.19 474.15,463.98 474.40,464.11 474.65,464.09 474.90,464.18 475.15,463.88 475.40,463.92 475.65,464.19 475.90,463.96 476.15,464.19 476.40,463.72 476.65,464.02 476.90,463.98 477.15,464.05 477.40,463.98 477.65,464.17 477.90,464.13 478.15,464.19 478.40,464.11 478.65,464.19 478.90,463.76 479.15,464.13 479.40,464.12 479.65,464.14 479.90,463.90 480.15,464.17 480.40,464.19 480.65,464.19 480.90,464.17 481.15,464.19 481.40,463.97 481.65,464.19 481.90,464.19 482.15,464.07 482.40,464.06 482.65,464.19 482.90,463.93 483.15,464.18 483.40,464.07 483.65,464.20 483.90,464.20 484.15,464.20 484.40,464.18 484.65,464.20 484.90,464.20 485.15,464.04 485.40,464.10 485.65,464.18 485.90,464.10 486.15,464.14 486.40,464.19 486.65,464.20 486.90,464.13 487.15,464.20 487.40,464.20 487.65,464.20 487.90,464.20 488.15,464.13 488.40,464.13 488.65,464.19 488.90,464.20 489.15,464.00 489.40,464.19 489.65,464.16 489.90,464.17 490.15,464.13 490.40,464.20 490.65,464.20 490.90,464.13 491.15,464.08 491.40,464.20 491.65,464.18 491.90,464.20 492.15,464.15 492.40,464.20 492.65,464.13 492.90,464.17 493.15,464.17 493.40,464.18 493.65,464.20 493.90,464.20" fill="none" stroke="#8e8e8e" stroke-width="0.55" stroke-linejoin="miter"/>
<polyline points="368.90,458.39 369.15,458.11 369.40,457.49 369.65,455.54 369.90,456.84 370.15,456.82 370.40,456.07 370.65,454.90 370.90,455.07 371.15,457.12 371.40,456.24 371.65,454.38 371.90,455.85 372.15,455.13 372.40,456.86 372.65,451.30 372.90,455.71 373.15,453.92 373.40,452.47 373.65,450.34 373.90,452.96 374.15,454.28 374.40,455.73 374.65,453.26 374.90,450.17 375.15,454.68 375.40,453.77 375.65,454.30 375.90,451.76 376.15,455.19 376.40,454.55 376.65,452.38 376.90,449.96 377.15,453.32 377.40,452.18 377.65,448.87 377.90,448.63 378.15,452.76 378.40,443.51 378.65,449.90 378.90,449.06 379.15,448.57 379.40,449.79 379.65,448.75 379.90,445.39 380.15,449.80 380.40,450.35 380.65,451.52 380.90,451.06 381.15,447.97 381.40,448.17 381.65,447.23 381.90,449.65 382.15,448.38 382.40,446.74 382.65,441.47 382.90,446.84 383.15,445.89 383.40,445.83 383.65,442.23 383.90,442.13 384.15,446.30 384.40,449.62 384.65,441.51 384.90,444.16 385.15,442.78 385.40,444.03 385.65,449.52 385.90,449.37 386.15,447.11 386.40,440.44 386.65,443.58 386.90,443.52 387.15,427.93 387.40,436.70 387.65,436.92 387.90,441.06 388.15,440.59 388.40,429.61 388.65,440.84 388.90,435.31 389.15,439.58 389.40,432.55 389.65,430.22 389.90,430.83 390.15,434.09 390.40,442.12 390.65,439.38 390.90,435.44 391.15,433.64 391.40,432.39 391.65,428.45 391.90,426.19 392.15,428.78 392.40,432.21 392.65,430.90 392.90,426.34 393.15,420.50 393.40,425.84 393.65,422.04 393.90,423.74 394.15,419.76 394.40,422.66 394.65,420.96 394.90,430.03 395.15,424.63 395.40,426.85 395.65,422.64 395.90,433.47 396.15,438.05 396.40,436.11 396.65,431.70 396.90,433.57 397.15,425.44 397.40,425.12 397.65,420.11 397.90,418.41 398.15,408.24 398.40,411.49 398.65,401.75 398.90,413.71 399.15,413.00 399.40,424.50 399.65,410.48 399.90,427.16 400.15,419.66 400.40,410.03 400.65,407.00 400.90,412.97 401.15,414.64 401.40,411.38 401.65,406.57 401.90,404.92 402.15,425.33 402.40,412.09 402.65,406.03 402.90,408.91 403.15,402.92 403.40,411.20 403.65,407.35 403.90,393.56 404.15,400.47 404.40,409.54 404.65,408.91 404.90,411.43 405.15,403.35 405.40,405.03 405.65,400.92 405.90,405.47 406.15,408.41 406.40,412.99 406.65,412.85 406.90,424.63 407.15,411.41 407.40,414.53 407.65,412.82 407.90,405.03 408.15,399.83 408.40,412.12 408.65,400.77 408.90,406.11 409.15,405.03 409.40,401.81 409.65,416.65 409.90,425.21 410.15,420.86 410.40,420.24 410.65,421.85 410.90,420.57 411.15,416.86 411.40,401.94 411.65,417.16 411.90,417.35 412.15,422.52 412.40,421.27 412.65,417.12 412.90,412.80 413.15,409.88 413.40,416.43 413.65,421.80 413.90,419.74 414.15,412.69 414.40,417.96 414.65,413.11 414.90,408.69 415.15,414.07 415.40,416.58 415.65,421.43 415.90,420.41 416.15,420.14 416.40,420.39 416.65,421.72 416.90,426.52 417.15,420.38 417.40,430.31 417.65,429.56 417.90,422.05 418.15,411.17 418.40,414.99 418.65,414.22 418.90,417.17 419.15,414.95 419.40,414.12 419.65,423.25 419.90,426.54 420.15,423.68 420.40,428.19 420.65,423.11 420.90,422.61 421.15,429.63 421.40,430.14 421.65,437.15 421.90,430.03 422.15,432.52 422.40,428.71 422.65,422.90 422.90,415.91 423.15,420.94 423.40,406.00 423.65,429.14 423.90,429.04 424.15,421.55 424.40,421.25 424.65,416.18 424.90,427.17 425.15,423.13 425.40,423.70 425.65,428.16 425.90,423.33 426.15,428.06 426.40,428.55 426.65,435.63 426.90,434.26 427.15,427.28 427.40,428.59 427.65,432.81 427.90,425.02 428.15,426.64 428.40,432.13 428.65,431.14 428.90,429.98 429.15,426.70 429.40,425.80 429.65,432.15 429.90,427.47 430.15,432.40 430.40,441.29 430.65,439.22 430.90,439.88 431.15,428.77 431.40,440.09 431.65,432.88 431.90,439.52 432.15,443.62 432.40,441.83 432.65,444.16 432.90,440.40 433.15,445.75 433.40,441.42 433.65,441.69 433.90,441.38 434.15,440.75 434.40,442.14 434.65,441.29 434.90,442.11 435.15,443.92 435.40,437.92 435.65,443.45 435.90,445.45 436.15,443.24 436.40,441.58 436.65,441.56 436.90,439.29 437.15,439.93 437.40,442.87 437.65,445.05 437.90,441.65 438.15,438.67 438.40,436.58 438.65,440.45 438.90,433.33 439.15,443.58 439.40,445.13 439.65,443.89 439.90,446.47 440.15,443.83 440.40,442.08 440.65,439.35 440.90,442.94 441.15,448.87 441.40,437.98 441.65,441.19 441.90,441.89 442.15,445.43 442.40,440.61 442.65,438.57 442.90,443.65 443.15,441.69 443.40,452.06 443.65,435.45 443.90,431.80 444.15,437.81 444.40,440.25 444.65,432.69 444.90,438.93 445.15,436.67 445.40,439.30 445.65,441.13 445.90,440.16 446.15,442.91 446.40,434.62 446.65,445.07 446.90,441.39 447.15,440.48 447.40,443.77 447.65,433.75 447.90,445.21 448.15,445.70 448.40,440.72 448.65,441.74 448.90,439.02 449.15,439.87 449.40,442.24 449.65,448.57 449.90,448.78 450.15,447.23 450.40,448.56 450.65,442.15 450.90,443.50 451.15,440.32 451.40,443.36 451.65,447.31 451.90,445.04 452.15,450.28 452.40,442.48 452.65,449.85 452.90,452.40 453.15,450.55 453.40,449.48 453.65,448.52 453.90,446.16 454.15,446.50 454.40,448.61 454.65,449.69 454.90,446.74 455.15,447.42 455.40,449.83 455.65,448.71 455.90,450.09 456.15,451.63 456.40,453.38 456.65,452.84 456.90,452.12 457.15,449.26 457.40,450.14 457.65,452.14 457.90,449.35 458.15,450.05 458.40,446.20 458.65,453.36 458.90,452.40 459.15,449.64 459.40,450.39 459.65,448.72 459.90,446.71 460.15,449.95 460.40,450.27 460.65,450.46 460.90,451.28 461.15,451.03 461.40,451.81 461.65,452.51 461.90,454.88 462.15,455.36 462.40,454.65 462.65,455.16 462.90,457.03 463.15,455.79 463.40,457.79 463.65,456.81 463.90,453.63 464.15,456.57 464.40,457.06 464.65,456.77 464.90,458.82 465.15,459.82 465.40,458.08 465.65,457.60 465.90,460.37 466.15,458.85 466.40,457.46 466.65,459.17 466.90,456.75 467.15,457.45 467.40,459.49 467.65,459.52 467.90,459.02 468.15,459.40 468.40,458.13 468.65,458.47 468.90,457.78 469.15,460.51 469.40,460.88 469.65,459.44 469.90,460.36 470.15,459.79 470.40,459.40 470.65,460.18 470.90,460.86 471.15,461.11 471.40,460.46 471.65,462.49 471.90,460.64 472.15,462.10 472.40,462.63 472.65,461.90 472.90,461.59 473.15,461.77 473.40,462.72 473.65,461.63 473.90,462.62 474.15,462.03 474.40,462.12 474.65,461.95 474.90,463.38 475.15,461.88 475.40,462.51 475.65,462.58 475.90,462.22 476.15,462.18 476.40,461.88 476.65,462.39 476.90,462.96 477.15,461.82 477.40,462.28 477.65,463.41 477.90,462.82 478.15,462.98 478.40,463.37 478.65,462.36 478.90,463.79 479.15,463.33 479.40,462.88 479.65,463.39 479.90,462.66 480.15,463.60 480.40,463.25 480.65,463.71 480.90,463.71 481.15,463.58 481.40,463.77 481.65,463.58 481.90,463.38 482.15,463.60 482.40,463.59 482.65,463.94 482.90,463.75 483.15,464.01 483.40,463.63 483.65,463.93 483.90,463.69 484.15,464.17 484.40,464.02 484.65,463.52 484.90,464.10 485.15,463.91 485.40,463.64 485.65,463.84 485.90,463.95 486.15,463.93 486.40,463.53 486.65,463.84 486.90,463.78 487.15,463.89 487.40,463.91 487.65,463.86 487.90,463.82 488.15,463.81 488.40,463.80 488.65,464.19 488.90,463.64 489.15,464.01 489.40,463.88 489.65,463.94 489.90,464.19 490.15,464.19 490.40,464.16 490.65,464.18 490.90,463.95 491.15,464.08 491.40,464.20 491.65,464.19 491.90,464.04 492.15,464.17 492.40,464.07 492.65,464.20 492.90,464.14 493.15,464.12 493.40,464.18 493.65,464.19 493.90,464.18" fill="none" stroke="#0a0a0a" stroke-width="0.5" stroke-linejoin="miter"/>
</g>
<line x1="368.20" y1="338.40" x2="494.70" y2="338.40" stroke="#5a5a5a" stroke-width="0.9" />
<line x1="494.30" y1="338.40" x2="494.30" y2="464.20" stroke="#5a5a5a" stroke-width="0.9" />
<line x1="368.60" y1="338.40" x2="368.60" y2="464.60" stroke="#777" stroke-width="1.0" />
<line x1="368.20" y1="464.20" x2="494.70" y2="464.20" stroke="#3a3a3a" stroke-width="0.95" />
<text x="401.10" y="335.30" font-size="6.9" fill="#222" textLength="51.8" lengthAdjust="spacingAndGlyphs" >Multi-sample : P1</text>
<text x="413.10" y="344.50" font-size="6.6" fill="#333" textLength="8.2" lengthAdjust="spacingAndGlyphs" >P2</text>
<line x1="413.30" y1="348.70" x2="494.30" y2="348.70" stroke="#555" stroke-width="0.9" />
<line x1="413.30" y1="346.10" x2="413.30" y2="351.30" stroke="#555" stroke-width="0.9" />
<line x1="494.30" y1="346.10" x2="494.30" y2="351.30" stroke="#555" stroke-width="0.9" />
<text x="466.80" y="369.80" font-size="12" fill="#111" textLength="18.1" lengthAdjust="spacingAndGlyphs" >cEV</text>
<line x1="554.90" y1="464.00" x2="557.70" y2="464.00" stroke="#222" stroke-width="0.7" />
<text transform="translate(551.60,465.75) rotate(-90)" font-size="6.3" >0</text>
<line x1="555.90" y1="455.00" x2="557.70" y2="455.00" stroke="#222" stroke-width="0.7" />
<line x1="555.90" y1="446.00" x2="557.70" y2="446.00" stroke="#222" stroke-width="0.7" />
<line x1="555.90" y1="437.00" x2="557.70" y2="437.00" stroke="#222" stroke-width="0.7" />
<line x1="555.90" y1="428.00" x2="557.70" y2="428.00" stroke="#222" stroke-width="0.7" />
<line x1="554.90" y1="419.00" x2="557.70" y2="419.00" stroke="#222" stroke-width="0.7" />
<text transform="translate(551.60,422.50) rotate(-90)" font-size="6.3" >20</text>
<line x1="555.90" y1="410.00" x2="557.70" y2="410.00" stroke="#222" stroke-width="0.7" />
<line x1="555.90" y1="401.00" x2="557.70" y2="401.00" stroke="#222" stroke-width="0.7" />
<line x1="555.90" y1="392.00" x2="557.70" y2="392.00" stroke="#222" stroke-width="0.7" />
<line x1="555.90" y1="383.00" x2="557.70" y2="383.00" stroke="#222" stroke-width="0.7" />
<line x1="554.90" y1="374.00" x2="557.70" y2="374.00" stroke="#222" stroke-width="0.7" />
<text transform="translate(551.60,377.50) rotate(-90)" font-size="6.3" >40</text>
<line x1="555.90" y1="365.00" x2="557.70" y2="365.00" stroke="#222" stroke-width="0.7" />
<line x1="555.90" y1="356.00" x2="557.70" y2="356.00" stroke="#222" stroke-width="0.7" />
<line x1="555.90" y1="347.00" x2="557.70" y2="347.00" stroke="#222" stroke-width="0.7" />
<text transform="translate(543.20,410.65) rotate(-90)" font-size="7.4" textLength="17.6" lengthAdjust="spacingAndGlyphs" >Count</text>
<line x1="558.48" y1="464.00" x2="558.48" y2="465.60" stroke="#222" stroke-width="0.6" />
<line x1="559.90" y1="464.00" x2="559.90" y2="466.60" stroke="#222" stroke-width="0.6" />
<line x1="569.26" y1="464.00" x2="569.26" y2="465.60" stroke="#222" stroke-width="0.6" />
<line x1="574.74" y1="464.00" x2="574.74" y2="465.60" stroke="#222" stroke-width="0.6" />
<line x1="578.62" y1="464.00" x2="578.62" y2="465.60" stroke="#222" stroke-width="0.6" />
<line x1="581.64" y1="464.00" x2="581.64" y2="465.60" stroke="#222" stroke-width="0.6" />
<line x1="584.10" y1="464.00" x2="584.10" y2="465.60" stroke="#222" stroke-width="0.6" />
<line x1="586.18" y1="464.00" x2="586.18" y2="465.60" stroke="#222" stroke-width="0.6" />
<line x1="587.99" y1="464.00" x2="587.99" y2="465.60" stroke="#222" stroke-width="0.6" />
<line x1="589.58" y1="464.00" x2="589.58" y2="465.60" stroke="#222" stroke-width="0.6" />
<line x1="591.00" y1="464.00" x2="591.00" y2="466.60" stroke="#222" stroke-width="0.6" />
<line x1="600.36" y1="464.00" x2="600.36" y2="465.60" stroke="#222" stroke-width="0.6" />
<line x1="605.84" y1="464.00" x2="605.84" y2="465.60" stroke="#222" stroke-width="0.6" />
<line x1="609.72" y1="464.00" x2="609.72" y2="465.60" stroke="#222" stroke-width="0.6" />
<line x1="612.74" y1="464.00" x2="612.74" y2="465.60" stroke="#222" stroke-width="0.6" />
<line x1="615.20" y1="464.00" x2="615.20" y2="465.60" stroke="#222" stroke-width="0.6" />
<line x1="617.28" y1="464.00" x2="617.28" y2="465.60" stroke="#222" stroke-width="0.6" />
<line x1="619.09" y1="464.00" x2="619.09" y2="465.60" stroke="#222" stroke-width="0.6" />
<line x1="620.68" y1="464.00" x2="620.68" y2="465.60" stroke="#222" stroke-width="0.6" />
<line x1="622.10" y1="464.00" x2="622.10" y2="466.60" stroke="#222" stroke-width="0.6" />
<line x1="631.46" y1="464.00" x2="631.46" y2="465.60" stroke="#222" stroke-width="0.6" />
<line x1="636.94" y1="464.00" x2="636.94" y2="465.60" stroke="#222" stroke-width="0.6" />
<line x1="640.82" y1="464.00" x2="640.82" y2="465.60" stroke="#222" stroke-width="0.6" />
<line x1="643.84" y1="464.00" x2="643.84" y2="465.60" stroke="#222" stroke-width="0.6" />
<line x1="646.30" y1="464.00" x2="646.30" y2="465.60" stroke="#222" stroke-width="0.6" />
<line x1="648.38" y1="464.00" x2="648.38" y2="465.60" stroke="#222" stroke-width="0.6" />
<line x1="650.19" y1="464.00" x2="650.19" y2="465.60" stroke="#222" stroke-width="0.6" />
<line x1="651.78" y1="464.00" x2="651.78" y2="465.60" stroke="#222" stroke-width="0.6" />
<line x1="653.20" y1="464.00" x2="653.20" y2="466.60" stroke="#222" stroke-width="0.6" />
<line x1="662.56" y1="464.00" x2="662.56" y2="465.60" stroke="#222" stroke-width="0.6" />
<line x1="668.04" y1="464.00" x2="668.04" y2="465.60" stroke="#222" stroke-width="0.6" />
<line x1="671.92" y1="464.00" x2="671.92" y2="465.60" stroke="#222" stroke-width="0.6" />
<line x1="674.94" y1="464.00" x2="674.94" y2="465.60" stroke="#222" stroke-width="0.6" />
<line x1="677.40" y1="464.00" x2="677.40" y2="465.60" stroke="#222" stroke-width="0.6" />
<line x1="679.48" y1="464.00" x2="679.48" y2="465.60" stroke="#222" stroke-width="0.6" />
<line x1="681.29" y1="464.00" x2="681.29" y2="465.60" stroke="#222" stroke-width="0.6" />
<line x1="682.88" y1="464.00" x2="682.88" y2="465.60" stroke="#222" stroke-width="0.6" />
<text x="556.40" y="473.80" font-size="6.9" fill="#111" >10</text>
<text x="563.70" y="471.50" font-size="4.1" fill="#111" >3</text>
<text x="587.50" y="473.80" font-size="6.9" fill="#111" >10</text>
<text x="594.80" y="471.50" font-size="4.1" fill="#111" >4</text>
<text x="618.60" y="473.80" font-size="6.9" fill="#111" >10</text>
<text x="625.90" y="471.50" font-size="4.1" fill="#111" >5</text>
<text x="649.70" y="473.80" font-size="6.9" fill="#111" >10</text>
<text x="657.00" y="471.50" font-size="4.1" fill="#111" >6</text>
<clipPath id="fc64"><rect x="557.70" y="339.70" width="126.60" height="124.30"/></clipPath>
<g clip-path="url(#fc64)">
<polyline points="558.00,453.98 558.25,456.34 558.50,452.20 558.75,452.50 559.00,451.09 559.25,451.47 559.50,450.87 559.75,448.85 560.00,447.34 560.25,446.51 560.50,446.07 560.75,447.26 561.00,446.76 561.25,440.52 561.50,440.35 561.75,436.81 562.00,436.04 562.25,437.42 562.50,436.89 562.75,437.56 563.00,435.37 563.25,432.57 563.50,432.67 563.75,430.23 564.00,421.01 564.25,434.68 564.50,420.84 564.75,422.69 565.00,419.80 565.25,415.99 565.50,414.80 565.75,413.04 566.00,409.23 566.25,410.84 566.50,410.18 566.75,410.75 567.00,409.38 567.25,407.09 567.50,395.79 567.75,401.91 568.00,399.21 568.25,393.32 568.50,404.27 568.75,381.16 569.00,390.34 569.25,392.55 569.50,393.82 569.75,382.25 570.00,379.47 570.25,372.15 570.50,371.66 570.75,370.16 571.00,383.73 571.25,381.89 571.50,386.40 571.75,394.96 572.00,388.49 572.25,389.53 572.50,396.93 572.75,405.43 573.00,388.21 573.25,379.93 573.50,407.05 573.75,386.48 574.00,384.05 574.25,380.66 574.50,381.99 574.75,378.79 575.00,376.22 575.25,371.87 575.50,370.28 575.75,380.60 576.00,360.21 576.25,382.44 576.50,373.02 576.75,371.55 577.00,366.08 577.25,368.23 577.50,384.96 577.75,389.83 578.00,397.99 578.25,398.17 578.50,389.35 578.75,387.62 579.00,384.19 579.25,381.52 579.50,380.26 579.75,389.93 580.00,371.54 580.25,378.98 580.50,387.77 580.75,382.38 581.00,360.51 581.25,374.64 581.50,387.03 581.75,389.71 582.00,387.77 582.25,389.50 582.50,382.11 582.75,394.45 583.00,385.91 583.25,390.47 583.50,396.11 583.75,410.17 584.00,401.01 584.25,408.68 584.50,415.37 584.75,410.91 585.00,425.09 585.25,427.31 585.50,427.91 585.75,418.57 586.00,423.26 586.25,421.16 586.50,426.35 586.75,428.84 587.00,429.56 587.25,429.63 587.50,429.27 587.75,434.59 588.00,432.82 588.25,435.47 588.50,432.72 588.75,436.70 589.00,438.69 589.25,439.20 589.50,438.16 589.75,439.80 590.00,443.58 590.25,442.69 590.50,455.29 590.75,450.55 591.00,451.20 591.25,453.19 591.50,450.99 591.75,452.42 592.00,454.58 592.25,454.83 592.50,455.28 592.75,452.15 593.00,454.59 593.25,451.89 593.50,455.94 593.75,454.07 594.00,455.51 594.25,455.68 594.50,457.33 594.75,458.03 595.00,455.93 595.25,455.02 595.50,457.45 595.75,460.61 596.00,457.78 596.25,458.60 596.50,458.61 596.75,459.56 597.00,459.09 597.25,459.17 597.50,460.94 597.75,460.78 598.00,460.14 598.25,459.66 598.50,461.08 598.75,459.77 599.00,462.27 599.25,462.12 599.50,461.61 599.75,461.83 600.00,462.41 600.25,462.16 600.50,460.76 600.75,461.31 601.00,461.95 601.25,462.56 601.50,462.52 601.75,463.39 602.00,462.24 602.25,461.53 602.50,462.73 602.75,463.53 603.00,462.06 603.25,462.15 603.50,461.38 603.75,462.27 604.00,462.10 604.25,462.23 604.50,462.71 604.75,461.79 605.00,462.98 605.25,463.36 605.50,462.08 605.75,462.99 606.00,462.37 606.25,462.23 606.50,462.88 606.75,462.31 607.00,462.21 607.25,462.50 607.50,462.32 607.75,463.20 608.00,462.19 608.25,461.45 608.50,462.69 608.75,463.85 609.00,463.09 609.25,462.47 609.50,463.02 609.75,462.76 610.00,462.37 610.25,462.98 610.50,462.41 610.75,462.56 611.00,462.93 611.25,462.34 611.50,461.71 611.75,462.44 612.00,462.41 612.25,462.79 612.50,461.91 612.75,463.30 613.00,462.79 613.25,462.65 613.50,463.75 613.75,463.84 614.00,461.72 614.25,462.63 614.50,462.24 614.75,462.66 615.00,463.05 615.25,462.30 615.50,463.05 615.75,461.74 616.00,462.37 616.25,463.05 616.50,463.24 616.75,463.31 617.00,462.52 617.25,463.83 617.50,462.51 617.75,463.23 618.00,462.40 618.25,462.66 618.50,462.74 618.75,463.17 619.00,462.53 619.25,462.18 619.50,463.17 619.75,462.61 620.00,461.99 620.25,463.10 620.50,463.38 620.75,463.14 621.00,463.29 621.25,462.20 621.50,463.02 621.75,462.95 622.00,463.19 622.25,463.73 622.50,462.42 622.75,463.59 623.00,463.36 623.25,463.57 623.50,462.94 623.75,463.30 624.00,463.23 624.25,463.47 624.50,462.77 624.75,463.17 625.00,463.45 625.25,462.75 625.50,462.69 625.75,463.03 626.00,462.99 626.25,463.17 626.50,462.88 626.75,463.18 627.00,462.90 627.25,463.59 627.50,463.12 627.75,463.23 628.00,462.96 628.25,463.71 628.50,462.60 628.75,463.20 629.00,462.68 629.25,463.36 629.50,462.76 629.75,463.13 630.00,462.39 630.25,462.78 630.50,463.54 630.75,463.96 631.00,463.32 631.25,463.15 631.50,463.42 631.75,463.29 632.00,463.35 632.25,463.14 632.50,463.04 632.75,463.28 633.00,463.06 633.25,462.77 633.50,463.90 633.75,463.46 634.00,462.58 634.25,462.62 634.50,463.01 634.75,462.88 635.00,463.53 635.25,463.15 635.50,462.90 635.75,463.70 636.00,462.98 636.25,462.04 636.50,463.04 636.75,463.47 637.00,463.65 637.25,463.39 637.50,462.79 637.75,463.81 638.00,463.29 638.25,463.18 638.50,463.69 638.75,463.77 639.00,463.96 639.25,463.61 639.50,463.25 639.75,463.37 640.00,463.80 640.25,463.96 640.50,462.74 640.75,463.20 641.00,463.30 641.25,463.96 641.50,463.29 641.75,462.70 642.00,463.32 642.25,463.06 642.50,463.95 642.75,463.12 643.00,462.82 643.25,463.23 643.50,463.69 643.75,463.24 644.00,462.94 644.25,463.01 644.50,463.43 644.75,463.23 645.00,463.63 645.25,463.46 645.50,463.00 645.75,463.70 646.00,463.34 646.25,462.96 646.50,463.06 646.75,463.08 647.00,463.52 647.25,463.30 647.50,463.00 647.75,463.37 648.00,462.75 648.25,463.00 648.50,463.12 648.75,463.60 649.00,463.34 649.25,463.20 649.50,463.49 649.75,463.45 650.00,463.38 650.25,463.51 650.50,463.72 650.75,463.06 651.00,463.01 651.25,462.96 651.50,463.72 651.75,463.54 652.00,463.26 652.25,463.27 652.50,463.66 652.75,463.57 653.00,463.04 653.25,462.97 653.50,463.97 653.75,463.24 654.00,463.53 654.25,463.37 654.50,463.45 654.75,463.24 655.00,463.29 655.25,463.19 655.50,463.38 655.75,463.38 656.00,463.48 656.25,463.71 656.50,463.98 656.75,463.20 657.00,463.48 657.25,463.74 657.50,463.92 657.75,463.98 658.00,463.11 658.25,463.61 658.50,463.90 658.75,463.57 659.00,463.47 659.25,463.56 659.50,463.58 659.75,463.65 660.00,463.35 660.25,463.47 660.50,463.56 660.75,463.78 661.00,463.63 661.25,463.88 661.50,463.69 661.75,463.98 662.00,463.94 662.25,463.41 662.50,463.94 662.75,463.61 663.00,463.72 663.25,463.92 663.50,463.98 663.75,463.73 664.00,463.98 664.25,463.94 664.50,463.65 664.75,463.86 665.00,463.98 665.25,463.90 665.50,463.69 665.75,463.41 666.00,463.87 666.25,463.88 666.50,463.62 666.75,463.79 667.00,463.99 667.25,463.97 667.50,463.88 667.75,463.78 668.00,463.79 668.25,463.78 668.50,463.89 668.75,463.78 669.00,463.61 669.25,463.97 669.50,463.88 669.75,463.78 670.00,463.87 670.25,463.95 670.50,463.84 670.75,463.52 671.00,463.65 671.25,463.68 671.50,463.72 671.75,463.62 672.00,463.99 672.25,463.89 672.50,463.74 672.75,463.93 673.00,463.81 673.25,463.76 673.50,463.47 673.75,463.72 674.00,463.96 674.25,463.62 674.50,463.49 674.75,463.92 675.00,463.81 675.25,463.84 675.50,463.67 675.75,463.94 676.00,463.87 676.25,463.86 676.50,463.91 676.75,463.93 677.00,463.84 677.25,463.81 677.50,463.94 677.75,464.00 678.00,463.72 678.25,463.82 678.50,464.00 678.75,463.92 679.00,464.00 679.25,463.90 679.50,464.00 679.75,464.00 680.00,463.88 680.25,463.95 680.50,463.85 680.75,464.00 681.00,463.99 681.25,463.97 681.50,464.00 681.75,464.00 682.00,463.89 682.25,463.97 682.50,463.96 682.75,464.00 683.00,464.00 683.25,464.00 683.50,464.00 683.75,464.00" fill="none" stroke="#8e8e8e" stroke-width="0.55" stroke-linejoin="miter"/>
<polyline points="558.00,460.33 558.25,461.27 558.50,461.20 558.75,460.77 559.00,460.67 559.25,460.68 559.50,460.95 559.75,462.23 560.00,460.51 560.25,460.89 560.50,459.17 560.75,456.97 561.00,458.69 561.25,459.14 561.50,457.69 561.75,457.49 562.00,457.98 562.25,459.69 562.50,457.68 562.75,457.75 563.00,458.45 563.25,457.92 563.50,457.16 563.75,459.21 564.00,458.29 564.25,455.05 564.50,457.98 564.75,457.61 565.00,456.73 565.25,454.19 565.50,456.50 565.75,456.83 566.00,457.55 566.25,457.19 566.50,454.89 566.75,452.66 567.00,456.73 567.25,455.67 567.50,457.50 567.75,455.57 568.00,455.23 568.25,455.08 568.50,452.87 568.75,454.22 569.00,457.83 569.25,453.72 569.50,453.84 569.75,452.56 570.00,453.72 570.25,453.01 570.50,451.64 570.75,452.06 571.00,452.26 571.25,455.83 571.50,453.99 571.75,453.85 572.00,452.56 572.25,454.15 572.50,453.84 572.75,450.43 573.00,452.99 573.25,454.28 573.50,452.21 573.75,452.41 574.00,451.03 574.25,451.21 574.50,456.12 574.75,452.22 575.00,452.30 575.25,449.60 575.50,451.19 575.75,452.97 576.00,455.02 576.25,454.89 576.50,455.97 576.75,454.33 577.00,453.82 577.25,451.22 577.50,452.87 577.75,447.23 578.00,451.22 578.25,449.23 578.50,447.46 578.75,445.69 579.00,452.30 579.25,450.38 579.50,451.61 579.75,449.53 580.00,449.38 580.25,450.36 580.50,451.96 580.75,448.49 581.00,450.83 581.25,452.04 581.50,449.16 581.75,446.69 582.00,447.85 582.25,441.42 582.50,437.60 582.75,438.62 583.00,442.85 583.25,440.18 583.50,440.58 583.75,438.55 584.00,438.05 584.25,441.62 584.50,441.26 584.75,437.28 585.00,437.10 585.25,428.27 585.50,430.18 585.75,431.39 586.00,435.24 586.25,436.55 586.50,440.61 586.75,431.16 587.00,431.27 587.25,435.91 587.50,432.86 587.75,426.52 588.00,432.63 588.25,432.92 588.50,421.10 588.75,428.82 589.00,431.30 589.25,434.71 589.50,424.54 589.75,429.93 590.00,424.66 590.25,436.08 590.50,436.92 590.75,432.27 591.00,433.65 591.25,434.14 591.50,435.59 591.75,429.82 592.00,426.23 592.25,435.26 592.50,428.71 592.75,432.85 593.00,432.51 593.25,429.95 593.50,426.90 593.75,427.67 594.00,421.43 594.25,426.45 594.50,431.83 594.75,424.72 595.00,430.60 595.25,428.53 595.50,429.93 595.75,423.62 596.00,416.85 596.25,426.01 596.50,430.32 596.75,425.21 597.00,429.37 597.25,433.58 597.50,437.54 597.75,432.37 598.00,426.43 598.25,432.50 598.50,432.27 598.75,428.23 599.00,426.83 599.25,435.28 599.50,428.61 599.75,429.93 600.00,438.72 600.25,433.48 600.50,441.03 600.75,436.92 601.00,433.40 601.25,433.32 601.50,435.62 601.75,441.38 602.00,429.15 602.25,435.90 602.50,426.35 602.75,428.79 603.00,430.25 603.25,435.85 603.50,428.68 603.75,434.01 604.00,443.68 604.25,441.25 604.50,436.07 604.75,433.40 605.00,439.35 605.25,438.15 605.50,439.97 605.75,445.80 606.00,435.81 606.25,442.10 606.50,435.03 606.75,431.31 607.00,436.88 607.25,426.34 607.50,440.78 607.75,438.16 608.00,443.07 608.25,437.74 608.50,440.89 608.75,437.33 609.00,429.40 609.25,426.85 609.50,425.94 609.75,427.47 610.00,421.66 610.25,434.82 610.50,436.42 610.75,431.24 611.00,433.03 611.25,448.93 611.50,434.65 611.75,434.90 612.00,446.70 612.25,438.18 612.50,439.57 612.75,445.63 613.00,433.71 613.25,433.63 613.50,430.02 613.75,430.88 614.00,429.83 614.25,430.86 614.50,434.47 614.75,427.41 615.00,426.66 615.25,431.11 615.50,428.69 615.75,427.12 616.00,427.38 616.25,432.26 616.50,431.56 616.75,429.58 617.00,432.93 617.25,431.25 617.50,434.18 617.75,439.63 618.00,435.19 618.25,440.93 618.50,434.22 618.75,439.46 619.00,443.06 619.25,440.22 619.50,434.59 619.75,430.95 620.00,434.93 620.25,434.51 620.50,436.48 620.75,434.21 621.00,431.42 621.25,435.02 621.50,431.63 621.75,428.07 622.00,432.36 622.25,426.64 622.50,426.65 622.75,433.58 623.00,423.31 623.25,431.11 623.50,435.16 623.75,435.40 624.00,437.73 624.25,433.28 624.50,436.59 624.75,440.88 625.00,436.15 625.25,439.76 625.50,429.35 625.75,435.07 626.00,438.30 626.25,435.77 626.50,437.80 626.75,439.33 627.00,430.44 627.25,437.27 627.50,437.24 627.75,436.56 628.00,433.57 628.25,434.31 628.50,444.76 628.75,439.95 629.00,441.19 629.25,438.38 629.50,437.97 629.75,435.03 630.00,438.36 630.25,441.24 630.50,435.06 630.75,438.56 631.00,440.11 631.25,438.13 631.50,439.94 631.75,438.97 632.00,439.95 632.25,440.51 632.50,443.33 632.75,439.66 633.00,446.68 633.25,441.42 633.50,440.53 633.75,443.50 634.00,443.96 634.25,445.61 634.50,447.14 634.75,446.79 635.00,446.84 635.25,446.84 635.50,438.79 635.75,445.60 636.00,437.80 636.25,451.55 636.50,452.06 636.75,447.25 637.00,449.22 637.25,448.89 637.50,446.26 637.75,449.44 638.00,447.44 638.25,449.76 638.50,450.42 638.75,452.64 639.00,455.04 639.25,452.53 639.50,453.80 639.75,453.99 640.00,451.19 640.25,451.49 640.50,455.01 640.75,451.49 641.00,452.46 641.25,454.15 641.50,451.47 641.75,450.71 642.00,453.71 642.25,452.20 642.50,455.74 642.75,451.52 643.00,454.65 643.25,453.99 643.50,454.80 643.75,456.84 644.00,455.34 644.25,456.71 644.50,454.34 644.75,456.61 645.00,456.68 645.25,455.78 645.50,454.22 645.75,456.45 646.00,457.63 646.25,457.82 646.50,456.93 646.75,457.03 647.00,458.05 647.25,458.28 647.50,457.97 647.75,460.45 648.00,460.73 648.25,458.32 648.50,459.90 648.75,460.29 649.00,459.44 649.25,458.88 649.50,460.62 649.75,459.56 650.00,458.09 650.25,458.93 650.50,459.22 650.75,458.09 651.00,458.89 651.25,459.49 651.50,458.71 651.75,459.24 652.00,458.78 652.25,458.36 652.50,459.99 652.75,460.76 653.00,461.72 653.25,462.38 653.50,460.62 653.75,460.04 654.00,461.96 654.25,461.54 654.50,461.18 654.75,460.24 655.00,459.14 655.25,462.24 655.50,461.62 655.75,461.46 656.00,460.42 656.25,461.51 656.50,460.89 656.75,462.47 657.00,461.06 657.25,460.74 657.50,463.33 657.75,461.62 658.00,461.34 658.25,461.72 658.50,463.78 658.75,462.40 659.00,460.98 659.25,462.90 659.50,462.59 659.75,462.57 660.00,462.73 660.25,462.83 660.50,463.02 660.75,462.77 661.00,462.50 661.25,462.31 661.50,463.09 661.75,463.29 662.00,462.51 662.25,462.50 662.50,462.49 662.75,462.87 663.00,463.72 663.25,463.30 663.50,462.82 663.75,462.75 664.00,463.25 664.25,462.77 664.50,463.11 664.75,463.38 665.00,462.51 665.25,463.44 665.50,463.27 665.75,463.65 666.00,463.27 666.25,462.72 666.50,463.40 666.75,463.49 667.00,463.46 667.25,463.29 667.50,463.74 667.75,463.24 668.00,463.22 668.25,463.48 668.50,463.68 668.75,463.70 669.00,463.59 669.25,463.41 669.50,463.44 669.75,463.54 670.00,463.07 670.25,463.36 670.50,463.84 670.75,463.50 671.00,463.96 671.25,463.62 671.50,463.51 671.75,463.94 672.00,463.67 672.25,463.29 672.50,463.39 672.75,463.89 673.00,463.60 673.25,463.71 673.50,463.99 673.75,463.40 674.00,463.81 674.25,463.86 674.50,463.65 674.75,463.78 675.00,463.88 675.25,463.99 675.50,463.48 675.75,463.67 676.00,463.97 676.25,463.87 676.50,463.87 676.75,463.98 677.00,463.99 677.25,463.99 677.50,463.56 677.75,463.76 678.00,463.88 678.25,463.67 678.50,463.90 678.75,463.58 679.00,463.87 679.25,463.91 679.50,463.80 679.75,463.58 680.00,463.78 680.25,463.94 680.50,463.80 680.75,464.00 681.00,463.82 681.25,463.84 681.50,463.81 681.75,463.89 682.00,464.00 682.25,464.00 682.50,464.00 682.75,464.00 683.00,464.00 683.25,464.00 683.50,464.00 683.75,464.00" fill="none" stroke="#0a0a0a" stroke-width="0.5" stroke-linejoin="miter"/>
</g>
<line x1="557.30" y1="339.70" x2="684.70" y2="339.70" stroke="#5a5a5a" stroke-width="0.9" />
<line x1="684.30" y1="339.70" x2="684.30" y2="464.00" stroke="#5a5a5a" stroke-width="0.9" />
<line x1="557.70" y1="339.70" x2="557.70" y2="464.40" stroke="#777" stroke-width="1.0" />
<line x1="557.30" y1="464.00" x2="684.70" y2="464.00" stroke="#3a3a3a" stroke-width="0.95" />
<text x="589.60" y="336.20" font-size="6.9" fill="#222" textLength="51.8" lengthAdjust="spacingAndGlyphs" >Multi-sample : P1</text>
<text x="601.70" y="344.50" font-size="6.6" fill="#333" textLength="8.2" lengthAdjust="spacingAndGlyphs" >P2</text>
<line x1="601.90" y1="348.50" x2="681.00" y2="348.50" stroke="#555" stroke-width="0.9" />
<line x1="601.90" y1="345.90" x2="601.90" y2="351.10" stroke="#555" stroke-width="0.9" />
<line x1="681.00" y1="345.90" x2="681.00" y2="351.10" stroke="#555" stroke-width="0.9" />
<text x="635.40" y="369.50" font-size="11.7" fill="#111" textLength="45.6" lengthAdjust="spacingAndGlyphs" >PDGF-EV</text>
<text x="517.60" y="23.20" font-size="12.2" fill="#111" textLength="26.3" lengthAdjust="spacingAndGlyphs" >CD63</text>
<text x="516.60" y="181.10" font-size="11.6" fill="#111" textLength="25.3" lengthAdjust="spacingAndGlyphs" >CD81</text>
<text x="487.80" y="332.60" font-size="12" fill="#111" textLength="85.0" lengthAdjust="spacingAndGlyphs" >Phosphatidylserine</text>
</svg></body></html>
